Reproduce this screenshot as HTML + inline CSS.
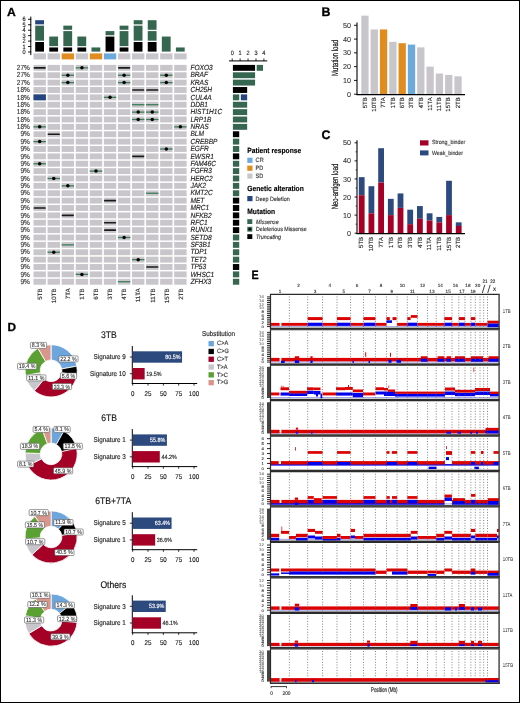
<!DOCTYPE html>
<html><head><meta charset="utf-8"><style>
html,body{margin:0;padding:0;background:#fff;}
svg{display:block;font-family:"Liberation Sans", sans-serif;text-rendering:geometricPrecision;will-change:transform;}
</style></head><body>
<svg width="520" height="703" viewBox="0 0 520 703">
<rect x="0" y="0" width="520" height="703" fill="#fff"/>
<text transform="translate(7,15.7) scale(1.03,1)" font-size="11.8" text-anchor="start" font-weight="bold" font-style="normal" fill="#000" stroke="#000" stroke-width="0.3" >A</text>
<line x1="30.8" y1="16.6" x2="30.8" y2="55.1" stroke="#000" stroke-width="1" />
<line x1="28" y1="52" x2="31.2" y2="52" stroke="#000" stroke-width="0.9" />
<text transform="translate(25.6,54) scale(1,1.12)" font-size="5.6" text-anchor="end" font-weight="normal" font-style="normal" fill="#222" stroke="#222" stroke-width="0.13" >0</text>
<line x1="28" y1="46.55" x2="31.2" y2="46.55" stroke="#000" stroke-width="0.9" />
<text transform="translate(25.6,48.55) scale(1,1.12)" font-size="5.6" text-anchor="end" font-weight="normal" font-style="normal" fill="#222" stroke="#222" stroke-width="0.13" >1</text>
<line x1="28" y1="41.1" x2="31.2" y2="41.1" stroke="#000" stroke-width="0.9" />
<text transform="translate(25.6,43.1) scale(1,1.12)" font-size="5.6" text-anchor="end" font-weight="normal" font-style="normal" fill="#222" stroke="#222" stroke-width="0.13" >2</text>
<line x1="28" y1="35.65" x2="31.2" y2="35.65" stroke="#000" stroke-width="0.9" />
<text transform="translate(25.6,37.65) scale(1,1.12)" font-size="5.6" text-anchor="end" font-weight="normal" font-style="normal" fill="#222" stroke="#222" stroke-width="0.13" >3</text>
<line x1="28" y1="30.2" x2="31.2" y2="30.2" stroke="#000" stroke-width="0.9" />
<text transform="translate(25.6,32.2) scale(1,1.12)" font-size="5.6" text-anchor="end" font-weight="normal" font-style="normal" fill="#222" stroke="#222" stroke-width="0.13" >4</text>
<line x1="28" y1="24.75" x2="31.2" y2="24.75" stroke="#000" stroke-width="0.9" />
<text transform="translate(25.6,26.75) scale(1,1.12)" font-size="5.6" text-anchor="end" font-weight="normal" font-style="normal" fill="#222" stroke="#222" stroke-width="0.13" >5</text>
<line x1="28" y1="19.3" x2="31.2" y2="19.3" stroke="#000" stroke-width="0.9" />
<text transform="translate(25.6,21.3) scale(1,1.12)" font-size="5.6" text-anchor="end" font-weight="normal" font-style="normal" fill="#222" stroke="#222" stroke-width="0.13" >6</text>
<rect x="35.2" y="42" width="8.8" height="9.6" fill="#000" />
<rect x="35.2" y="25.65" width="8.8" height="15.05" fill="#356650" />
<rect x="35.2" y="20.2" width="8.8" height="4.15" fill="#24457F" />
<rect x="49.27" y="47.45" width="8.8" height="4.15" fill="#000" />
<rect x="49.27" y="36.55" width="8.8" height="9.6" fill="#356650" />
<rect x="63.34" y="47.45" width="8.8" height="4.15" fill="#000" />
<rect x="63.34" y="31.1" width="8.8" height="15.05" fill="#356650" />
<rect x="63.34" y="25.65" width="8.8" height="4.15" fill="#356650" />
<rect x="77.41" y="47.45" width="8.8" height="4.15" fill="#000" />
<rect x="77.41" y="36.55" width="8.8" height="9.6" fill="#356650" />
<rect x="91.48" y="47.45" width="8.8" height="4.15" fill="#356650" />
<rect x="105.55" y="36.55" width="8.8" height="15.05" fill="#000" />
<rect x="105.55" y="31.1" width="8.8" height="4.15" fill="#356650" />
<rect x="119.62" y="47.45" width="8.8" height="4.15" fill="#000" />
<rect x="119.62" y="31.1" width="8.8" height="15.05" fill="#356650" />
<rect x="119.62" y="25.65" width="8.8" height="4.15" fill="#356650" />
<rect x="133.69" y="42" width="8.8" height="9.6" fill="#000" />
<rect x="133.69" y="25.65" width="8.8" height="15.05" fill="#356650" />
<rect x="133.69" y="20.2" width="8.8" height="4.15" fill="#356650" />
<rect x="147.76" y="42" width="8.8" height="9.6" fill="#000" />
<rect x="147.76" y="31.1" width="8.8" height="9.6" fill="#356650" />
<rect x="147.76" y="20.2" width="8.8" height="9.6" fill="#356650" />
<rect x="161.83" y="36.55" width="8.8" height="15.05" fill="#356650" />
<rect x="175.9" y="47.45" width="8.8" height="4.15" fill="#356650" />
<rect x="33.5" y="53.4" width="12.4" height="6" fill="#C8C6CB" />
<rect x="47.57" y="53.4" width="12.4" height="6" fill="#C8C6CB" />
<rect x="61.64" y="53.4" width="12.4" height="6" fill="#E08C1E" />
<rect x="75.71" y="53.4" width="12.4" height="6" fill="#C8C6CB" />
<rect x="89.78" y="53.4" width="12.4" height="6" fill="#E08C1E" />
<rect x="103.85" y="53.4" width="12.4" height="6" fill="#6CAADE" />
<rect x="117.92" y="53.4" width="12.4" height="6" fill="#C8C6CB" />
<rect x="131.99" y="53.4" width="12.4" height="6" fill="#C8C6CB" />
<rect x="146.06" y="53.4" width="12.4" height="6" fill="#C8C6CB" />
<rect x="160.13" y="53.4" width="12.4" height="6" fill="#C8C6CB" />
<rect x="174.2" y="53.4" width="12.4" height="6" fill="#C8C6CB" />
<rect x="33.5" y="64.9" width="12.4" height="5.9" fill="#C8C6CB" />
<rect x="47.57" y="64.9" width="12.4" height="5.9" fill="#C8C6CB" />
<rect x="61.64" y="64.9" width="12.4" height="5.9" fill="#C8C6CB" />
<rect x="75.71" y="64.9" width="12.4" height="5.9" fill="#C8C6CB" />
<rect x="89.78" y="64.9" width="12.4" height="5.9" fill="#C8C6CB" />
<rect x="103.85" y="64.9" width="12.4" height="5.9" fill="#C8C6CB" />
<rect x="117.92" y="64.9" width="12.4" height="5.9" fill="#C8C6CB" />
<rect x="131.99" y="64.9" width="12.4" height="5.9" fill="#C8C6CB" />
<rect x="146.06" y="64.9" width="12.4" height="5.9" fill="#C8C6CB" />
<rect x="160.13" y="64.9" width="12.4" height="5.9" fill="#C8C6CB" />
<rect x="174.2" y="64.9" width="12.4" height="5.9" fill="#C8C6CB" />
<rect x="33.5" y="72.28" width="12.4" height="5.9" fill="#C8C6CB" />
<rect x="47.57" y="72.28" width="12.4" height="5.9" fill="#C8C6CB" />
<rect x="61.64" y="72.28" width="12.4" height="5.9" fill="#C8C6CB" />
<rect x="75.71" y="72.28" width="12.4" height="5.9" fill="#C8C6CB" />
<rect x="89.78" y="72.28" width="12.4" height="5.9" fill="#C8C6CB" />
<rect x="103.85" y="72.28" width="12.4" height="5.9" fill="#C8C6CB" />
<rect x="117.92" y="72.28" width="12.4" height="5.9" fill="#C8C6CB" />
<rect x="131.99" y="72.28" width="12.4" height="5.9" fill="#C8C6CB" />
<rect x="146.06" y="72.28" width="12.4" height="5.9" fill="#C8C6CB" />
<rect x="160.13" y="72.28" width="12.4" height="5.9" fill="#C8C6CB" />
<rect x="174.2" y="72.28" width="12.4" height="5.9" fill="#C8C6CB" />
<rect x="33.5" y="79.65" width="12.4" height="5.9" fill="#C8C6CB" />
<rect x="47.57" y="79.65" width="12.4" height="5.9" fill="#C8C6CB" />
<rect x="61.64" y="79.65" width="12.4" height="5.9" fill="#C8C6CB" />
<rect x="75.71" y="79.65" width="12.4" height="5.9" fill="#C8C6CB" />
<rect x="89.78" y="79.65" width="12.4" height="5.9" fill="#C8C6CB" />
<rect x="103.85" y="79.65" width="12.4" height="5.9" fill="#C8C6CB" />
<rect x="117.92" y="79.65" width="12.4" height="5.9" fill="#C8C6CB" />
<rect x="131.99" y="79.65" width="12.4" height="5.9" fill="#C8C6CB" />
<rect x="146.06" y="79.65" width="12.4" height="5.9" fill="#C8C6CB" />
<rect x="160.13" y="79.65" width="12.4" height="5.9" fill="#C8C6CB" />
<rect x="174.2" y="79.65" width="12.4" height="5.9" fill="#C8C6CB" />
<rect x="33.5" y="87.03" width="12.4" height="5.9" fill="#C8C6CB" />
<rect x="47.57" y="87.03" width="12.4" height="5.9" fill="#C8C6CB" />
<rect x="61.64" y="87.03" width="12.4" height="5.9" fill="#C8C6CB" />
<rect x="75.71" y="87.03" width="12.4" height="5.9" fill="#C8C6CB" />
<rect x="89.78" y="87.03" width="12.4" height="5.9" fill="#C8C6CB" />
<rect x="103.85" y="87.03" width="12.4" height="5.9" fill="#C8C6CB" />
<rect x="117.92" y="87.03" width="12.4" height="5.9" fill="#C8C6CB" />
<rect x="131.99" y="87.03" width="12.4" height="5.9" fill="#C8C6CB" />
<rect x="146.06" y="87.03" width="12.4" height="5.9" fill="#C8C6CB" />
<rect x="160.13" y="87.03" width="12.4" height="5.9" fill="#C8C6CB" />
<rect x="174.2" y="87.03" width="12.4" height="5.9" fill="#C8C6CB" />
<rect x="33.5" y="94.4" width="12.4" height="5.9" fill="#C8C6CB" />
<rect x="47.57" y="94.4" width="12.4" height="5.9" fill="#C8C6CB" />
<rect x="61.64" y="94.4" width="12.4" height="5.9" fill="#C8C6CB" />
<rect x="75.71" y="94.4" width="12.4" height="5.9" fill="#C8C6CB" />
<rect x="89.78" y="94.4" width="12.4" height="5.9" fill="#C8C6CB" />
<rect x="103.85" y="94.4" width="12.4" height="5.9" fill="#C8C6CB" />
<rect x="117.92" y="94.4" width="12.4" height="5.9" fill="#C8C6CB" />
<rect x="131.99" y="94.4" width="12.4" height="5.9" fill="#C8C6CB" />
<rect x="146.06" y="94.4" width="12.4" height="5.9" fill="#C8C6CB" />
<rect x="160.13" y="94.4" width="12.4" height="5.9" fill="#C8C6CB" />
<rect x="174.2" y="94.4" width="12.4" height="5.9" fill="#C8C6CB" />
<rect x="33.5" y="101.78" width="12.4" height="5.9" fill="#C8C6CB" />
<rect x="47.57" y="101.78" width="12.4" height="5.9" fill="#C8C6CB" />
<rect x="61.64" y="101.78" width="12.4" height="5.9" fill="#C8C6CB" />
<rect x="75.71" y="101.78" width="12.4" height="5.9" fill="#C8C6CB" />
<rect x="89.78" y="101.78" width="12.4" height="5.9" fill="#C8C6CB" />
<rect x="103.85" y="101.78" width="12.4" height="5.9" fill="#C8C6CB" />
<rect x="117.92" y="101.78" width="12.4" height="5.9" fill="#C8C6CB" />
<rect x="131.99" y="101.78" width="12.4" height="5.9" fill="#C8C6CB" />
<rect x="146.06" y="101.78" width="12.4" height="5.9" fill="#C8C6CB" />
<rect x="160.13" y="101.78" width="12.4" height="5.9" fill="#C8C6CB" />
<rect x="174.2" y="101.78" width="12.4" height="5.9" fill="#C8C6CB" />
<rect x="33.5" y="109.16" width="12.4" height="5.9" fill="#C8C6CB" />
<rect x="47.57" y="109.16" width="12.4" height="5.9" fill="#C8C6CB" />
<rect x="61.64" y="109.16" width="12.4" height="5.9" fill="#C8C6CB" />
<rect x="75.71" y="109.16" width="12.4" height="5.9" fill="#C8C6CB" />
<rect x="89.78" y="109.16" width="12.4" height="5.9" fill="#C8C6CB" />
<rect x="103.85" y="109.16" width="12.4" height="5.9" fill="#C8C6CB" />
<rect x="117.92" y="109.16" width="12.4" height="5.9" fill="#C8C6CB" />
<rect x="131.99" y="109.16" width="12.4" height="5.9" fill="#C8C6CB" />
<rect x="146.06" y="109.16" width="12.4" height="5.9" fill="#C8C6CB" />
<rect x="160.13" y="109.16" width="12.4" height="5.9" fill="#C8C6CB" />
<rect x="174.2" y="109.16" width="12.4" height="5.9" fill="#C8C6CB" />
<rect x="33.5" y="116.53" width="12.4" height="5.9" fill="#C8C6CB" />
<rect x="47.57" y="116.53" width="12.4" height="5.9" fill="#C8C6CB" />
<rect x="61.64" y="116.53" width="12.4" height="5.9" fill="#C8C6CB" />
<rect x="75.71" y="116.53" width="12.4" height="5.9" fill="#C8C6CB" />
<rect x="89.78" y="116.53" width="12.4" height="5.9" fill="#C8C6CB" />
<rect x="103.85" y="116.53" width="12.4" height="5.9" fill="#C8C6CB" />
<rect x="117.92" y="116.53" width="12.4" height="5.9" fill="#C8C6CB" />
<rect x="131.99" y="116.53" width="12.4" height="5.9" fill="#C8C6CB" />
<rect x="146.06" y="116.53" width="12.4" height="5.9" fill="#C8C6CB" />
<rect x="160.13" y="116.53" width="12.4" height="5.9" fill="#C8C6CB" />
<rect x="174.2" y="116.53" width="12.4" height="5.9" fill="#C8C6CB" />
<rect x="33.5" y="123.91" width="12.4" height="5.9" fill="#C8C6CB" />
<rect x="47.57" y="123.91" width="12.4" height="5.9" fill="#C8C6CB" />
<rect x="61.64" y="123.91" width="12.4" height="5.9" fill="#C8C6CB" />
<rect x="75.71" y="123.91" width="12.4" height="5.9" fill="#C8C6CB" />
<rect x="89.78" y="123.91" width="12.4" height="5.9" fill="#C8C6CB" />
<rect x="103.85" y="123.91" width="12.4" height="5.9" fill="#C8C6CB" />
<rect x="117.92" y="123.91" width="12.4" height="5.9" fill="#C8C6CB" />
<rect x="131.99" y="123.91" width="12.4" height="5.9" fill="#C8C6CB" />
<rect x="146.06" y="123.91" width="12.4" height="5.9" fill="#C8C6CB" />
<rect x="160.13" y="123.91" width="12.4" height="5.9" fill="#C8C6CB" />
<rect x="174.2" y="123.91" width="12.4" height="5.9" fill="#C8C6CB" />
<rect x="33.5" y="131.28" width="12.4" height="5.9" fill="#C8C6CB" />
<rect x="47.57" y="131.28" width="12.4" height="5.9" fill="#C8C6CB" />
<rect x="61.64" y="131.28" width="12.4" height="5.9" fill="#C8C6CB" />
<rect x="75.71" y="131.28" width="12.4" height="5.9" fill="#C8C6CB" />
<rect x="89.78" y="131.28" width="12.4" height="5.9" fill="#C8C6CB" />
<rect x="103.85" y="131.28" width="12.4" height="5.9" fill="#C8C6CB" />
<rect x="117.92" y="131.28" width="12.4" height="5.9" fill="#C8C6CB" />
<rect x="131.99" y="131.28" width="12.4" height="5.9" fill="#C8C6CB" />
<rect x="146.06" y="131.28" width="12.4" height="5.9" fill="#C8C6CB" />
<rect x="160.13" y="131.28" width="12.4" height="5.9" fill="#C8C6CB" />
<rect x="174.2" y="131.28" width="12.4" height="5.9" fill="#C8C6CB" />
<rect x="33.5" y="138.66" width="12.4" height="5.9" fill="#C8C6CB" />
<rect x="47.57" y="138.66" width="12.4" height="5.9" fill="#C8C6CB" />
<rect x="61.64" y="138.66" width="12.4" height="5.9" fill="#C8C6CB" />
<rect x="75.71" y="138.66" width="12.4" height="5.9" fill="#C8C6CB" />
<rect x="89.78" y="138.66" width="12.4" height="5.9" fill="#C8C6CB" />
<rect x="103.85" y="138.66" width="12.4" height="5.9" fill="#C8C6CB" />
<rect x="117.92" y="138.66" width="12.4" height="5.9" fill="#C8C6CB" />
<rect x="131.99" y="138.66" width="12.4" height="5.9" fill="#C8C6CB" />
<rect x="146.06" y="138.66" width="12.4" height="5.9" fill="#C8C6CB" />
<rect x="160.13" y="138.66" width="12.4" height="5.9" fill="#C8C6CB" />
<rect x="174.2" y="138.66" width="12.4" height="5.9" fill="#C8C6CB" />
<rect x="33.5" y="146.04" width="12.4" height="5.9" fill="#C8C6CB" />
<rect x="47.57" y="146.04" width="12.4" height="5.9" fill="#C8C6CB" />
<rect x="61.64" y="146.04" width="12.4" height="5.9" fill="#C8C6CB" />
<rect x="75.71" y="146.04" width="12.4" height="5.9" fill="#C8C6CB" />
<rect x="89.78" y="146.04" width="12.4" height="5.9" fill="#C8C6CB" />
<rect x="103.85" y="146.04" width="12.4" height="5.9" fill="#C8C6CB" />
<rect x="117.92" y="146.04" width="12.4" height="5.9" fill="#C8C6CB" />
<rect x="131.99" y="146.04" width="12.4" height="5.9" fill="#C8C6CB" />
<rect x="146.06" y="146.04" width="12.4" height="5.9" fill="#C8C6CB" />
<rect x="160.13" y="146.04" width="12.4" height="5.9" fill="#C8C6CB" />
<rect x="174.2" y="146.04" width="12.4" height="5.9" fill="#C8C6CB" />
<rect x="33.5" y="153.41" width="12.4" height="5.9" fill="#C8C6CB" />
<rect x="47.57" y="153.41" width="12.4" height="5.9" fill="#C8C6CB" />
<rect x="61.64" y="153.41" width="12.4" height="5.9" fill="#C8C6CB" />
<rect x="75.71" y="153.41" width="12.4" height="5.9" fill="#C8C6CB" />
<rect x="89.78" y="153.41" width="12.4" height="5.9" fill="#C8C6CB" />
<rect x="103.85" y="153.41" width="12.4" height="5.9" fill="#C8C6CB" />
<rect x="117.92" y="153.41" width="12.4" height="5.9" fill="#C8C6CB" />
<rect x="131.99" y="153.41" width="12.4" height="5.9" fill="#C8C6CB" />
<rect x="146.06" y="153.41" width="12.4" height="5.9" fill="#C8C6CB" />
<rect x="160.13" y="153.41" width="12.4" height="5.9" fill="#C8C6CB" />
<rect x="174.2" y="153.41" width="12.4" height="5.9" fill="#C8C6CB" />
<rect x="33.5" y="160.79" width="12.4" height="5.9" fill="#C8C6CB" />
<rect x="47.57" y="160.79" width="12.4" height="5.9" fill="#C8C6CB" />
<rect x="61.64" y="160.79" width="12.4" height="5.9" fill="#C8C6CB" />
<rect x="75.71" y="160.79" width="12.4" height="5.9" fill="#C8C6CB" />
<rect x="89.78" y="160.79" width="12.4" height="5.9" fill="#C8C6CB" />
<rect x="103.85" y="160.79" width="12.4" height="5.9" fill="#C8C6CB" />
<rect x="117.92" y="160.79" width="12.4" height="5.9" fill="#C8C6CB" />
<rect x="131.99" y="160.79" width="12.4" height="5.9" fill="#C8C6CB" />
<rect x="146.06" y="160.79" width="12.4" height="5.9" fill="#C8C6CB" />
<rect x="160.13" y="160.79" width="12.4" height="5.9" fill="#C8C6CB" />
<rect x="174.2" y="160.79" width="12.4" height="5.9" fill="#C8C6CB" />
<rect x="33.5" y="168.16" width="12.4" height="5.9" fill="#C8C6CB" />
<rect x="47.57" y="168.16" width="12.4" height="5.9" fill="#C8C6CB" />
<rect x="61.64" y="168.16" width="12.4" height="5.9" fill="#C8C6CB" />
<rect x="75.71" y="168.16" width="12.4" height="5.9" fill="#C8C6CB" />
<rect x="89.78" y="168.16" width="12.4" height="5.9" fill="#C8C6CB" />
<rect x="103.85" y="168.16" width="12.4" height="5.9" fill="#C8C6CB" />
<rect x="117.92" y="168.16" width="12.4" height="5.9" fill="#C8C6CB" />
<rect x="131.99" y="168.16" width="12.4" height="5.9" fill="#C8C6CB" />
<rect x="146.06" y="168.16" width="12.4" height="5.9" fill="#C8C6CB" />
<rect x="160.13" y="168.16" width="12.4" height="5.9" fill="#C8C6CB" />
<rect x="174.2" y="168.16" width="12.4" height="5.9" fill="#C8C6CB" />
<rect x="33.5" y="175.54" width="12.4" height="5.9" fill="#C8C6CB" />
<rect x="47.57" y="175.54" width="12.4" height="5.9" fill="#C8C6CB" />
<rect x="61.64" y="175.54" width="12.4" height="5.9" fill="#C8C6CB" />
<rect x="75.71" y="175.54" width="12.4" height="5.9" fill="#C8C6CB" />
<rect x="89.78" y="175.54" width="12.4" height="5.9" fill="#C8C6CB" />
<rect x="103.85" y="175.54" width="12.4" height="5.9" fill="#C8C6CB" />
<rect x="117.92" y="175.54" width="12.4" height="5.9" fill="#C8C6CB" />
<rect x="131.99" y="175.54" width="12.4" height="5.9" fill="#C8C6CB" />
<rect x="146.06" y="175.54" width="12.4" height="5.9" fill="#C8C6CB" />
<rect x="160.13" y="175.54" width="12.4" height="5.9" fill="#C8C6CB" />
<rect x="174.2" y="175.54" width="12.4" height="5.9" fill="#C8C6CB" />
<rect x="33.5" y="182.92" width="12.4" height="5.9" fill="#C8C6CB" />
<rect x="47.57" y="182.92" width="12.4" height="5.9" fill="#C8C6CB" />
<rect x="61.64" y="182.92" width="12.4" height="5.9" fill="#C8C6CB" />
<rect x="75.71" y="182.92" width="12.4" height="5.9" fill="#C8C6CB" />
<rect x="89.78" y="182.92" width="12.4" height="5.9" fill="#C8C6CB" />
<rect x="103.85" y="182.92" width="12.4" height="5.9" fill="#C8C6CB" />
<rect x="117.92" y="182.92" width="12.4" height="5.9" fill="#C8C6CB" />
<rect x="131.99" y="182.92" width="12.4" height="5.9" fill="#C8C6CB" />
<rect x="146.06" y="182.92" width="12.4" height="5.9" fill="#C8C6CB" />
<rect x="160.13" y="182.92" width="12.4" height="5.9" fill="#C8C6CB" />
<rect x="174.2" y="182.92" width="12.4" height="5.9" fill="#C8C6CB" />
<rect x="33.5" y="190.29" width="12.4" height="5.9" fill="#C8C6CB" />
<rect x="47.57" y="190.29" width="12.4" height="5.9" fill="#C8C6CB" />
<rect x="61.64" y="190.29" width="12.4" height="5.9" fill="#C8C6CB" />
<rect x="75.71" y="190.29" width="12.4" height="5.9" fill="#C8C6CB" />
<rect x="89.78" y="190.29" width="12.4" height="5.9" fill="#C8C6CB" />
<rect x="103.85" y="190.29" width="12.4" height="5.9" fill="#C8C6CB" />
<rect x="117.92" y="190.29" width="12.4" height="5.9" fill="#C8C6CB" />
<rect x="131.99" y="190.29" width="12.4" height="5.9" fill="#C8C6CB" />
<rect x="146.06" y="190.29" width="12.4" height="5.9" fill="#C8C6CB" />
<rect x="160.13" y="190.29" width="12.4" height="5.9" fill="#C8C6CB" />
<rect x="174.2" y="190.29" width="12.4" height="5.9" fill="#C8C6CB" />
<rect x="33.5" y="197.67" width="12.4" height="5.9" fill="#C8C6CB" />
<rect x="47.57" y="197.67" width="12.4" height="5.9" fill="#C8C6CB" />
<rect x="61.64" y="197.67" width="12.4" height="5.9" fill="#C8C6CB" />
<rect x="75.71" y="197.67" width="12.4" height="5.9" fill="#C8C6CB" />
<rect x="89.78" y="197.67" width="12.4" height="5.9" fill="#C8C6CB" />
<rect x="103.85" y="197.67" width="12.4" height="5.9" fill="#C8C6CB" />
<rect x="117.92" y="197.67" width="12.4" height="5.9" fill="#C8C6CB" />
<rect x="131.99" y="197.67" width="12.4" height="5.9" fill="#C8C6CB" />
<rect x="146.06" y="197.67" width="12.4" height="5.9" fill="#C8C6CB" />
<rect x="160.13" y="197.67" width="12.4" height="5.9" fill="#C8C6CB" />
<rect x="174.2" y="197.67" width="12.4" height="5.9" fill="#C8C6CB" />
<rect x="33.5" y="205.04" width="12.4" height="5.9" fill="#C8C6CB" />
<rect x="47.57" y="205.04" width="12.4" height="5.9" fill="#C8C6CB" />
<rect x="61.64" y="205.04" width="12.4" height="5.9" fill="#C8C6CB" />
<rect x="75.71" y="205.04" width="12.4" height="5.9" fill="#C8C6CB" />
<rect x="89.78" y="205.04" width="12.4" height="5.9" fill="#C8C6CB" />
<rect x="103.85" y="205.04" width="12.4" height="5.9" fill="#C8C6CB" />
<rect x="117.92" y="205.04" width="12.4" height="5.9" fill="#C8C6CB" />
<rect x="131.99" y="205.04" width="12.4" height="5.9" fill="#C8C6CB" />
<rect x="146.06" y="205.04" width="12.4" height="5.9" fill="#C8C6CB" />
<rect x="160.13" y="205.04" width="12.4" height="5.9" fill="#C8C6CB" />
<rect x="174.2" y="205.04" width="12.4" height="5.9" fill="#C8C6CB" />
<rect x="33.5" y="212.42" width="12.4" height="5.9" fill="#C8C6CB" />
<rect x="47.57" y="212.42" width="12.4" height="5.9" fill="#C8C6CB" />
<rect x="61.64" y="212.42" width="12.4" height="5.9" fill="#C8C6CB" />
<rect x="75.71" y="212.42" width="12.4" height="5.9" fill="#C8C6CB" />
<rect x="89.78" y="212.42" width="12.4" height="5.9" fill="#C8C6CB" />
<rect x="103.85" y="212.42" width="12.4" height="5.9" fill="#C8C6CB" />
<rect x="117.92" y="212.42" width="12.4" height="5.9" fill="#C8C6CB" />
<rect x="131.99" y="212.42" width="12.4" height="5.9" fill="#C8C6CB" />
<rect x="146.06" y="212.42" width="12.4" height="5.9" fill="#C8C6CB" />
<rect x="160.13" y="212.42" width="12.4" height="5.9" fill="#C8C6CB" />
<rect x="174.2" y="212.42" width="12.4" height="5.9" fill="#C8C6CB" />
<rect x="33.5" y="219.8" width="12.4" height="5.9" fill="#C8C6CB" />
<rect x="47.57" y="219.8" width="12.4" height="5.9" fill="#C8C6CB" />
<rect x="61.64" y="219.8" width="12.4" height="5.9" fill="#C8C6CB" />
<rect x="75.71" y="219.8" width="12.4" height="5.9" fill="#C8C6CB" />
<rect x="89.78" y="219.8" width="12.4" height="5.9" fill="#C8C6CB" />
<rect x="103.85" y="219.8" width="12.4" height="5.9" fill="#C8C6CB" />
<rect x="117.92" y="219.8" width="12.4" height="5.9" fill="#C8C6CB" />
<rect x="131.99" y="219.8" width="12.4" height="5.9" fill="#C8C6CB" />
<rect x="146.06" y="219.8" width="12.4" height="5.9" fill="#C8C6CB" />
<rect x="160.13" y="219.8" width="12.4" height="5.9" fill="#C8C6CB" />
<rect x="174.2" y="219.8" width="12.4" height="5.9" fill="#C8C6CB" />
<rect x="33.5" y="227.17" width="12.4" height="5.9" fill="#C8C6CB" />
<rect x="47.57" y="227.17" width="12.4" height="5.9" fill="#C8C6CB" />
<rect x="61.64" y="227.17" width="12.4" height="5.9" fill="#C8C6CB" />
<rect x="75.71" y="227.17" width="12.4" height="5.9" fill="#C8C6CB" />
<rect x="89.78" y="227.17" width="12.4" height="5.9" fill="#C8C6CB" />
<rect x="103.85" y="227.17" width="12.4" height="5.9" fill="#C8C6CB" />
<rect x="117.92" y="227.17" width="12.4" height="5.9" fill="#C8C6CB" />
<rect x="131.99" y="227.17" width="12.4" height="5.9" fill="#C8C6CB" />
<rect x="146.06" y="227.17" width="12.4" height="5.9" fill="#C8C6CB" />
<rect x="160.13" y="227.17" width="12.4" height="5.9" fill="#C8C6CB" />
<rect x="174.2" y="227.17" width="12.4" height="5.9" fill="#C8C6CB" />
<rect x="33.5" y="234.55" width="12.4" height="5.9" fill="#C8C6CB" />
<rect x="47.57" y="234.55" width="12.4" height="5.9" fill="#C8C6CB" />
<rect x="61.64" y="234.55" width="12.4" height="5.9" fill="#C8C6CB" />
<rect x="75.71" y="234.55" width="12.4" height="5.9" fill="#C8C6CB" />
<rect x="89.78" y="234.55" width="12.4" height="5.9" fill="#C8C6CB" />
<rect x="103.85" y="234.55" width="12.4" height="5.9" fill="#C8C6CB" />
<rect x="117.92" y="234.55" width="12.4" height="5.9" fill="#C8C6CB" />
<rect x="131.99" y="234.55" width="12.4" height="5.9" fill="#C8C6CB" />
<rect x="146.06" y="234.55" width="12.4" height="5.9" fill="#C8C6CB" />
<rect x="160.13" y="234.55" width="12.4" height="5.9" fill="#C8C6CB" />
<rect x="174.2" y="234.55" width="12.4" height="5.9" fill="#C8C6CB" />
<rect x="33.5" y="241.92" width="12.4" height="5.9" fill="#C8C6CB" />
<rect x="47.57" y="241.92" width="12.4" height="5.9" fill="#C8C6CB" />
<rect x="61.64" y="241.92" width="12.4" height="5.9" fill="#C8C6CB" />
<rect x="75.71" y="241.92" width="12.4" height="5.9" fill="#C8C6CB" />
<rect x="89.78" y="241.92" width="12.4" height="5.9" fill="#C8C6CB" />
<rect x="103.85" y="241.92" width="12.4" height="5.9" fill="#C8C6CB" />
<rect x="117.92" y="241.92" width="12.4" height="5.9" fill="#C8C6CB" />
<rect x="131.99" y="241.92" width="12.4" height="5.9" fill="#C8C6CB" />
<rect x="146.06" y="241.92" width="12.4" height="5.9" fill="#C8C6CB" />
<rect x="160.13" y="241.92" width="12.4" height="5.9" fill="#C8C6CB" />
<rect x="174.2" y="241.92" width="12.4" height="5.9" fill="#C8C6CB" />
<rect x="33.5" y="249.3" width="12.4" height="5.9" fill="#C8C6CB" />
<rect x="47.57" y="249.3" width="12.4" height="5.9" fill="#C8C6CB" />
<rect x="61.64" y="249.3" width="12.4" height="5.9" fill="#C8C6CB" />
<rect x="75.71" y="249.3" width="12.4" height="5.9" fill="#C8C6CB" />
<rect x="89.78" y="249.3" width="12.4" height="5.9" fill="#C8C6CB" />
<rect x="103.85" y="249.3" width="12.4" height="5.9" fill="#C8C6CB" />
<rect x="117.92" y="249.3" width="12.4" height="5.9" fill="#C8C6CB" />
<rect x="131.99" y="249.3" width="12.4" height="5.9" fill="#C8C6CB" />
<rect x="146.06" y="249.3" width="12.4" height="5.9" fill="#C8C6CB" />
<rect x="160.13" y="249.3" width="12.4" height="5.9" fill="#C8C6CB" />
<rect x="174.2" y="249.3" width="12.4" height="5.9" fill="#C8C6CB" />
<rect x="33.5" y="256.68" width="12.4" height="5.9" fill="#C8C6CB" />
<rect x="47.57" y="256.68" width="12.4" height="5.9" fill="#C8C6CB" />
<rect x="61.64" y="256.68" width="12.4" height="5.9" fill="#C8C6CB" />
<rect x="75.71" y="256.68" width="12.4" height="5.9" fill="#C8C6CB" />
<rect x="89.78" y="256.68" width="12.4" height="5.9" fill="#C8C6CB" />
<rect x="103.85" y="256.68" width="12.4" height="5.9" fill="#C8C6CB" />
<rect x="117.92" y="256.68" width="12.4" height="5.9" fill="#C8C6CB" />
<rect x="131.99" y="256.68" width="12.4" height="5.9" fill="#C8C6CB" />
<rect x="146.06" y="256.68" width="12.4" height="5.9" fill="#C8C6CB" />
<rect x="160.13" y="256.68" width="12.4" height="5.9" fill="#C8C6CB" />
<rect x="174.2" y="256.68" width="12.4" height="5.9" fill="#C8C6CB" />
<rect x="33.5" y="264.05" width="12.4" height="5.9" fill="#C8C6CB" />
<rect x="47.57" y="264.05" width="12.4" height="5.9" fill="#C8C6CB" />
<rect x="61.64" y="264.05" width="12.4" height="5.9" fill="#C8C6CB" />
<rect x="75.71" y="264.05" width="12.4" height="5.9" fill="#C8C6CB" />
<rect x="89.78" y="264.05" width="12.4" height="5.9" fill="#C8C6CB" />
<rect x="103.85" y="264.05" width="12.4" height="5.9" fill="#C8C6CB" />
<rect x="117.92" y="264.05" width="12.4" height="5.9" fill="#C8C6CB" />
<rect x="131.99" y="264.05" width="12.4" height="5.9" fill="#C8C6CB" />
<rect x="146.06" y="264.05" width="12.4" height="5.9" fill="#C8C6CB" />
<rect x="160.13" y="264.05" width="12.4" height="5.9" fill="#C8C6CB" />
<rect x="174.2" y="264.05" width="12.4" height="5.9" fill="#C8C6CB" />
<rect x="33.5" y="271.43" width="12.4" height="5.9" fill="#C8C6CB" />
<rect x="47.57" y="271.43" width="12.4" height="5.9" fill="#C8C6CB" />
<rect x="61.64" y="271.43" width="12.4" height="5.9" fill="#C8C6CB" />
<rect x="75.71" y="271.43" width="12.4" height="5.9" fill="#C8C6CB" />
<rect x="89.78" y="271.43" width="12.4" height="5.9" fill="#C8C6CB" />
<rect x="103.85" y="271.43" width="12.4" height="5.9" fill="#C8C6CB" />
<rect x="117.92" y="271.43" width="12.4" height="5.9" fill="#C8C6CB" />
<rect x="131.99" y="271.43" width="12.4" height="5.9" fill="#C8C6CB" />
<rect x="146.06" y="271.43" width="12.4" height="5.9" fill="#C8C6CB" />
<rect x="160.13" y="271.43" width="12.4" height="5.9" fill="#C8C6CB" />
<rect x="174.2" y="271.43" width="12.4" height="5.9" fill="#C8C6CB" />
<rect x="33.5" y="278.8" width="12.4" height="5.9" fill="#C8C6CB" />
<rect x="47.57" y="278.8" width="12.4" height="5.9" fill="#C8C6CB" />
<rect x="61.64" y="278.8" width="12.4" height="5.9" fill="#C8C6CB" />
<rect x="75.71" y="278.8" width="12.4" height="5.9" fill="#C8C6CB" />
<rect x="89.78" y="278.8" width="12.4" height="5.9" fill="#C8C6CB" />
<rect x="103.85" y="278.8" width="12.4" height="5.9" fill="#C8C6CB" />
<rect x="117.92" y="278.8" width="12.4" height="5.9" fill="#C8C6CB" />
<rect x="131.99" y="278.8" width="12.4" height="5.9" fill="#C8C6CB" />
<rect x="146.06" y="278.8" width="12.4" height="5.9" fill="#C8C6CB" />
<rect x="160.13" y="278.8" width="12.4" height="5.9" fill="#C8C6CB" />
<rect x="174.2" y="278.8" width="12.4" height="5.9" fill="#C8C6CB" />
<line x1="34.4" y1="67.85" x2="45" y2="67.85" stroke="#1a1a1a" stroke-width="1.7" stroke-linecap="round"/>
<line x1="75.71" y1="67.85" x2="88.11" y2="67.85" stroke="#3A7A55" stroke-width="1.3" />
<circle cx="81.91" cy="67.85" r="1.75" fill="#000"/>
<line x1="118.82" y1="67.85" x2="129.42" y2="67.85" stroke="#1a1a1a" stroke-width="1.7" stroke-linecap="round"/>
<line x1="61.64" y1="75.23" x2="74.04" y2="75.23" stroke="#3A7A55" stroke-width="1.3" />
<circle cx="67.84" cy="75.23" r="1.75" fill="#000"/>
<line x1="117.92" y1="75.23" x2="130.32" y2="75.23" stroke="#3A7A55" stroke-width="1.3" />
<circle cx="124.12" cy="75.23" r="1.75" fill="#000"/>
<line x1="160.13" y1="75.23" x2="172.53" y2="75.23" stroke="#3A7A55" stroke-width="1.3" />
<circle cx="166.33" cy="75.23" r="1.75" fill="#000"/>
<line x1="61.64" y1="82.6" x2="74.04" y2="82.6" stroke="#3A7A55" stroke-width="1.3" />
<circle cx="67.84" cy="82.6" r="1.75" fill="#000"/>
<line x1="117.92" y1="82.6" x2="130.32" y2="82.6" stroke="#3A7A55" stroke-width="1.3" />
<circle cx="124.12" cy="82.6" r="1.75" fill="#000"/>
<line x1="160.13" y1="82.6" x2="172.53" y2="82.6" stroke="#3A7A55" stroke-width="1.3" />
<circle cx="166.33" cy="82.6" r="1.75" fill="#000"/>
<line x1="132.89" y1="89.98" x2="143.49" y2="89.98" stroke="#1a1a1a" stroke-width="1.7" stroke-linecap="round"/>
<line x1="146.96" y1="89.98" x2="157.56" y2="89.98" stroke="#1a1a1a" stroke-width="1.7" stroke-linecap="round"/>
<rect x="33.5" y="94.4" width="12.4" height="5.9" fill="#24457F" />
<line x1="103.85" y1="97.35" x2="116.25" y2="97.35" stroke="#3A7A55" stroke-width="1.3" />
<circle cx="110.05" cy="97.35" r="1.75" fill="#000"/>
<line x1="131.99" y1="104.73" x2="144.39" y2="104.73" stroke="#3A7A55" stroke-width="1.3" />
<line x1="146.06" y1="104.73" x2="158.46" y2="104.73" stroke="#3A7A55" stroke-width="1.3" />
<line x1="131.99" y1="112.11" x2="144.39" y2="112.11" stroke="#3A7A55" stroke-width="1.3" />
<circle cx="138.19" cy="112.11" r="1.75" fill="#000"/>
<line x1="146.06" y1="112.11" x2="158.46" y2="112.11" stroke="#3A7A55" stroke-width="1.3" />
<circle cx="152.26" cy="112.11" r="1.75" fill="#000"/>
<line x1="131.99" y1="119.48" x2="144.39" y2="119.48" stroke="#3A7A55" stroke-width="1.3" />
<circle cx="138.19" cy="119.48" r="1.75" fill="#000"/>
<line x1="146.06" y1="119.48" x2="158.46" y2="119.48" stroke="#3A7A55" stroke-width="1.3" />
<circle cx="152.26" cy="119.48" r="1.75" fill="#000"/>
<line x1="33.5" y1="126.86" x2="45.9" y2="126.86" stroke="#3A7A55" stroke-width="1.3" />
<circle cx="39.7" cy="126.86" r="1.75" fill="#000"/>
<line x1="174.2" y1="126.86" x2="186.6" y2="126.86" stroke="#3A7A55" stroke-width="1.3" />
<circle cx="180.4" cy="126.86" r="1.75" fill="#000"/>
<line x1="48.47" y1="134.23" x2="59.07" y2="134.23" stroke="#1a1a1a" stroke-width="1.7" stroke-linecap="round"/>
<line x1="33.5" y1="141.61" x2="45.9" y2="141.61" stroke="#3A7A55" stroke-width="1.3" />
<circle cx="39.7" cy="141.61" r="1.75" fill="#000"/>
<line x1="160.13" y1="148.99" x2="172.53" y2="148.99" stroke="#3A7A55" stroke-width="1.3" />
<circle cx="166.33" cy="148.99" r="1.75" fill="#000"/>
<line x1="132.89" y1="156.36" x2="143.49" y2="156.36" stroke="#1a1a1a" stroke-width="1.7" stroke-linecap="round"/>
<line x1="33.5" y1="163.74" x2="45.9" y2="163.74" stroke="#3A7A55" stroke-width="1.3" />
<circle cx="39.7" cy="163.74" r="1.75" fill="#000"/>
<line x1="89.78" y1="171.11" x2="102.18" y2="171.11" stroke="#3A7A55" stroke-width="1.3" />
<circle cx="95.98" cy="171.11" r="1.75" fill="#000"/>
<line x1="47.57" y1="178.49" x2="59.97" y2="178.49" stroke="#3A7A55" stroke-width="1.3" />
<circle cx="53.77" cy="178.49" r="1.75" fill="#000"/>
<line x1="61.64" y1="185.87" x2="74.04" y2="185.87" stroke="#3A7A55" stroke-width="1.3" />
<circle cx="67.84" cy="185.87" r="1.75" fill="#000"/>
<line x1="146.06" y1="193.24" x2="158.46" y2="193.24" stroke="#3A7A55" stroke-width="1.3" />
<line x1="104.75" y1="200.62" x2="115.35" y2="200.62" stroke="#1a1a1a" stroke-width="1.7" stroke-linecap="round"/>
<line x1="34.4" y1="207.99" x2="45" y2="207.99" stroke="#1a1a1a" stroke-width="1.7" stroke-linecap="round"/>
<line x1="62.54" y1="215.37" x2="73.14" y2="215.37" stroke="#1a1a1a" stroke-width="1.7" stroke-linecap="round"/>
<line x1="104.75" y1="222.75" x2="115.35" y2="222.75" stroke="#1a1a1a" stroke-width="1.7" stroke-linecap="round"/>
<line x1="104.75" y1="230.12" x2="115.35" y2="230.12" stroke="#1a1a1a" stroke-width="1.7" stroke-linecap="round"/>
<line x1="117.92" y1="237.5" x2="130.32" y2="237.5" stroke="#3A7A55" stroke-width="1.3" />
<circle cx="124.12" cy="237.5" r="1.75" fill="#000"/>
<line x1="61.64" y1="244.87" x2="74.04" y2="244.87" stroke="#3A7A55" stroke-width="1.3" />
<line x1="47.57" y1="252.25" x2="59.97" y2="252.25" stroke="#3A7A55" stroke-width="1.3" />
<circle cx="53.77" cy="252.25" r="1.75" fill="#000"/>
<line x1="131.99" y1="259.63" x2="144.39" y2="259.63" stroke="#3A7A55" stroke-width="1.3" />
<circle cx="138.19" cy="259.63" r="1.75" fill="#000"/>
<line x1="146.96" y1="267" x2="157.56" y2="267" stroke="#1a1a1a" stroke-width="1.7" stroke-linecap="round"/>
<line x1="75.71" y1="274.38" x2="88.11" y2="274.38" stroke="#3A7A55" stroke-width="1.3" />
<circle cx="81.91" cy="274.38" r="1.75" fill="#000"/>
<line x1="117.92" y1="281.75" x2="130.32" y2="281.75" stroke="#3A7A55" stroke-width="1.3" />
<text transform="translate(29.8,70.05) scale(1,1.12)" font-size="6.5" text-anchor="end" font-weight="normal" font-style="normal" fill="#333" stroke="#333" stroke-width="0.13" >27%</text>
<text transform="translate(190.4,70.05) scale(1,1.12)" font-size="6.6" text-anchor="start" font-weight="normal" font-style="italic" fill="#222" stroke="#222" stroke-width="0.13" >FOXO3</text>
<text transform="translate(29.8,77.43) scale(1,1.12)" font-size="6.5" text-anchor="end" font-weight="normal" font-style="normal" fill="#333" stroke="#333" stroke-width="0.13" >27%</text>
<text transform="translate(190.4,77.43) scale(1,1.12)" font-size="6.6" text-anchor="start" font-weight="normal" font-style="italic" fill="#222" stroke="#222" stroke-width="0.13" >BRAF</text>
<text transform="translate(29.8,84.8) scale(1,1.12)" font-size="6.5" text-anchor="end" font-weight="normal" font-style="normal" fill="#333" stroke="#333" stroke-width="0.13" >27%</text>
<text transform="translate(190.4,84.8) scale(1,1.12)" font-size="6.6" text-anchor="start" font-weight="normal" font-style="italic" fill="#222" stroke="#222" stroke-width="0.13" >KRAS</text>
<text transform="translate(29.8,92.18) scale(1,1.12)" font-size="6.5" text-anchor="end" font-weight="normal" font-style="normal" fill="#333" stroke="#333" stroke-width="0.13" >18%</text>
<text transform="translate(190.4,92.18) scale(1,1.12)" font-size="6.6" text-anchor="start" font-weight="normal" font-style="italic" fill="#222" stroke="#222" stroke-width="0.13" >CH25H</text>
<text transform="translate(29.8,99.55) scale(1,1.12)" font-size="6.5" text-anchor="end" font-weight="normal" font-style="normal" fill="#333" stroke="#333" stroke-width="0.13" >18%</text>
<text transform="translate(190.4,99.55) scale(1,1.12)" font-size="6.6" text-anchor="start" font-weight="normal" font-style="italic" fill="#222" stroke="#222" stroke-width="0.13" >CUL4A</text>
<text transform="translate(29.8,106.93) scale(1,1.12)" font-size="6.5" text-anchor="end" font-weight="normal" font-style="normal" fill="#333" stroke="#333" stroke-width="0.13" >18%</text>
<text transform="translate(190.4,106.93) scale(1,1.12)" font-size="6.6" text-anchor="start" font-weight="normal" font-style="italic" fill="#222" stroke="#222" stroke-width="0.13" >DDB1</text>
<text transform="translate(29.8,114.31) scale(1,1.12)" font-size="6.5" text-anchor="end" font-weight="normal" font-style="normal" fill="#333" stroke="#333" stroke-width="0.13" >18%</text>
<text transform="translate(190.4,114.31) scale(1,1.12)" font-size="6.6" text-anchor="start" font-weight="normal" font-style="italic" fill="#222" stroke="#222" stroke-width="0.13" >HIST1H1C</text>
<text transform="translate(29.8,121.68) scale(1,1.12)" font-size="6.5" text-anchor="end" font-weight="normal" font-style="normal" fill="#333" stroke="#333" stroke-width="0.13" >18%</text>
<text transform="translate(190.4,121.68) scale(1,1.12)" font-size="6.6" text-anchor="start" font-weight="normal" font-style="italic" fill="#222" stroke="#222" stroke-width="0.13" >LRP1B</text>
<text transform="translate(29.8,129.06) scale(1,1.12)" font-size="6.5" text-anchor="end" font-weight="normal" font-style="normal" fill="#333" stroke="#333" stroke-width="0.13" >18%</text>
<text transform="translate(190.4,129.06) scale(1,1.12)" font-size="6.6" text-anchor="start" font-weight="normal" font-style="italic" fill="#222" stroke="#222" stroke-width="0.13" >NRAS</text>
<text transform="translate(29.8,136.43) scale(1,1.12)" font-size="6.5" text-anchor="end" font-weight="normal" font-style="normal" fill="#333" stroke="#333" stroke-width="0.13" >9%</text>
<text transform="translate(190.4,136.43) scale(1,1.12)" font-size="6.6" text-anchor="start" font-weight="normal" font-style="italic" fill="#222" stroke="#222" stroke-width="0.13" >BLM</text>
<text transform="translate(29.8,143.81) scale(1,1.12)" font-size="6.5" text-anchor="end" font-weight="normal" font-style="normal" fill="#333" stroke="#333" stroke-width="0.13" >9%</text>
<text transform="translate(190.4,143.81) scale(1,1.12)" font-size="6.6" text-anchor="start" font-weight="normal" font-style="italic" fill="#222" stroke="#222" stroke-width="0.13" >CREBBP</text>
<text transform="translate(29.8,151.19) scale(1,1.12)" font-size="6.5" text-anchor="end" font-weight="normal" font-style="normal" fill="#333" stroke="#333" stroke-width="0.13" >9%</text>
<text transform="translate(190.4,151.19) scale(1,1.12)" font-size="6.6" text-anchor="start" font-weight="normal" font-style="italic" fill="#222" stroke="#222" stroke-width="0.13" >EGFR</text>
<text transform="translate(29.8,158.56) scale(1,1.12)" font-size="6.5" text-anchor="end" font-weight="normal" font-style="normal" fill="#333" stroke="#333" stroke-width="0.13" >9%</text>
<text transform="translate(190.4,158.56) scale(1,1.12)" font-size="6.6" text-anchor="start" font-weight="normal" font-style="italic" fill="#222" stroke="#222" stroke-width="0.13" >EWSR1</text>
<text transform="translate(29.8,165.94) scale(1,1.12)" font-size="6.5" text-anchor="end" font-weight="normal" font-style="normal" fill="#333" stroke="#333" stroke-width="0.13" >9%</text>
<text transform="translate(190.4,165.94) scale(1,1.12)" font-size="6.6" text-anchor="start" font-weight="normal" font-style="italic" fill="#222" stroke="#222" stroke-width="0.13" >FAM46C</text>
<text transform="translate(29.8,173.31) scale(1,1.12)" font-size="6.5" text-anchor="end" font-weight="normal" font-style="normal" fill="#333" stroke="#333" stroke-width="0.13" >9%</text>
<text transform="translate(190.4,173.31) scale(1,1.12)" font-size="6.6" text-anchor="start" font-weight="normal" font-style="italic" fill="#222" stroke="#222" stroke-width="0.13" >FGFR3</text>
<text transform="translate(29.8,180.69) scale(1,1.12)" font-size="6.5" text-anchor="end" font-weight="normal" font-style="normal" fill="#333" stroke="#333" stroke-width="0.13" >9%</text>
<text transform="translate(190.4,180.69) scale(1,1.12)" font-size="6.6" text-anchor="start" font-weight="normal" font-style="italic" fill="#222" stroke="#222" stroke-width="0.13" >HERC2</text>
<text transform="translate(29.8,188.07) scale(1,1.12)" font-size="6.5" text-anchor="end" font-weight="normal" font-style="normal" fill="#333" stroke="#333" stroke-width="0.13" >9%</text>
<text transform="translate(190.4,188.07) scale(1,1.12)" font-size="6.6" text-anchor="start" font-weight="normal" font-style="italic" fill="#222" stroke="#222" stroke-width="0.13" >JAK2</text>
<text transform="translate(29.8,195.44) scale(1,1.12)" font-size="6.5" text-anchor="end" font-weight="normal" font-style="normal" fill="#333" stroke="#333" stroke-width="0.13" >9%</text>
<text transform="translate(190.4,195.44) scale(1,1.12)" font-size="6.6" text-anchor="start" font-weight="normal" font-style="italic" fill="#222" stroke="#222" stroke-width="0.13" >KMT2C</text>
<text transform="translate(29.8,202.82) scale(1,1.12)" font-size="6.5" text-anchor="end" font-weight="normal" font-style="normal" fill="#333" stroke="#333" stroke-width="0.13" >9%</text>
<text transform="translate(190.4,202.82) scale(1,1.12)" font-size="6.6" text-anchor="start" font-weight="normal" font-style="italic" fill="#222" stroke="#222" stroke-width="0.13" >MET</text>
<text transform="translate(29.8,210.19) scale(1,1.12)" font-size="6.5" text-anchor="end" font-weight="normal" font-style="normal" fill="#333" stroke="#333" stroke-width="0.13" >9%</text>
<text transform="translate(190.4,210.19) scale(1,1.12)" font-size="6.6" text-anchor="start" font-weight="normal" font-style="italic" fill="#222" stroke="#222" stroke-width="0.13" >MRC1</text>
<text transform="translate(29.8,217.57) scale(1,1.12)" font-size="6.5" text-anchor="end" font-weight="normal" font-style="normal" fill="#333" stroke="#333" stroke-width="0.13" >9%</text>
<text transform="translate(190.4,217.57) scale(1,1.12)" font-size="6.6" text-anchor="start" font-weight="normal" font-style="italic" fill="#222" stroke="#222" stroke-width="0.13" >NFKB2</text>
<text transform="translate(29.8,224.95) scale(1,1.12)" font-size="6.5" text-anchor="end" font-weight="normal" font-style="normal" fill="#333" stroke="#333" stroke-width="0.13" >9%</text>
<text transform="translate(190.4,224.95) scale(1,1.12)" font-size="6.6" text-anchor="start" font-weight="normal" font-style="italic" fill="#222" stroke="#222" stroke-width="0.13" >RFC1</text>
<text transform="translate(29.8,232.32) scale(1,1.12)" font-size="6.5" text-anchor="end" font-weight="normal" font-style="normal" fill="#333" stroke="#333" stroke-width="0.13" >9%</text>
<text transform="translate(190.4,232.32) scale(1,1.12)" font-size="6.6" text-anchor="start" font-weight="normal" font-style="italic" fill="#222" stroke="#222" stroke-width="0.13" >RUNX1</text>
<text transform="translate(29.8,239.7) scale(1,1.12)" font-size="6.5" text-anchor="end" font-weight="normal" font-style="normal" fill="#333" stroke="#333" stroke-width="0.13" >9%</text>
<text transform="translate(190.4,239.7) scale(1,1.12)" font-size="6.6" text-anchor="start" font-weight="normal" font-style="italic" fill="#222" stroke="#222" stroke-width="0.13" >SETD8</text>
<text transform="translate(29.8,247.07) scale(1,1.12)" font-size="6.5" text-anchor="end" font-weight="normal" font-style="normal" fill="#333" stroke="#333" stroke-width="0.13" >9%</text>
<text transform="translate(190.4,247.07) scale(1,1.12)" font-size="6.6" text-anchor="start" font-weight="normal" font-style="italic" fill="#222" stroke="#222" stroke-width="0.13" >SF3B1</text>
<text transform="translate(29.8,254.45) scale(1,1.12)" font-size="6.5" text-anchor="end" font-weight="normal" font-style="normal" fill="#333" stroke="#333" stroke-width="0.13" >9%</text>
<text transform="translate(190.4,254.45) scale(1,1.12)" font-size="6.6" text-anchor="start" font-weight="normal" font-style="italic" fill="#222" stroke="#222" stroke-width="0.13" >TDP1</text>
<text transform="translate(29.8,261.83) scale(1,1.12)" font-size="6.5" text-anchor="end" font-weight="normal" font-style="normal" fill="#333" stroke="#333" stroke-width="0.13" >9%</text>
<text transform="translate(190.4,261.83) scale(1,1.12)" font-size="6.6" text-anchor="start" font-weight="normal" font-style="italic" fill="#222" stroke="#222" stroke-width="0.13" >TET2</text>
<text transform="translate(29.8,269.2) scale(1,1.12)" font-size="6.5" text-anchor="end" font-weight="normal" font-style="normal" fill="#333" stroke="#333" stroke-width="0.13" >9%</text>
<text transform="translate(190.4,269.2) scale(1,1.12)" font-size="6.6" text-anchor="start" font-weight="normal" font-style="italic" fill="#222" stroke="#222" stroke-width="0.13" >TP53</text>
<text transform="translate(29.8,276.58) scale(1,1.12)" font-size="6.5" text-anchor="end" font-weight="normal" font-style="normal" fill="#333" stroke="#333" stroke-width="0.13" >9%</text>
<text transform="translate(190.4,276.58) scale(1,1.12)" font-size="6.6" text-anchor="start" font-weight="normal" font-style="italic" fill="#222" stroke="#222" stroke-width="0.13" >WHSC1</text>
<text transform="translate(29.8,283.95) scale(1,1.12)" font-size="6.5" text-anchor="end" font-weight="normal" font-style="normal" fill="#333" stroke="#333" stroke-width="0.13" >9%</text>
<text transform="translate(190.4,283.95) scale(1,1.12)" font-size="6.6" text-anchor="start" font-weight="normal" font-style="italic" fill="#222" stroke="#222" stroke-width="0.13" >ZFHX3</text>
<text transform="translate(40.5,288.4) rotate(-90) scale(1,1)" font-size="6.2" text-anchor="end" dominant-baseline="central" fill="#333" font-weight="normal" stroke="#333" stroke-width="0.13">5TB</text>
<text transform="translate(54.57,288.4) rotate(-90) scale(1,1)" font-size="6.2" text-anchor="end" dominant-baseline="central" fill="#333" font-weight="normal" stroke="#333" stroke-width="0.13">10TB</text>
<text transform="translate(68.64,288.4) rotate(-90) scale(1,1)" font-size="6.2" text-anchor="end" dominant-baseline="central" fill="#333" font-weight="normal" stroke="#333" stroke-width="0.13">7TA</text>
<text transform="translate(82.71,288.4) rotate(-90) scale(1,1)" font-size="6.2" text-anchor="end" dominant-baseline="central" fill="#333" font-weight="normal" stroke="#333" stroke-width="0.13">1TB</text>
<text transform="translate(96.78,288.4) rotate(-90) scale(1,1)" font-size="6.2" text-anchor="end" dominant-baseline="central" fill="#333" font-weight="normal" stroke="#333" stroke-width="0.13">6TB</text>
<text transform="translate(110.85,288.4) rotate(-90) scale(1,1)" font-size="6.2" text-anchor="end" dominant-baseline="central" fill="#333" font-weight="normal" stroke="#333" stroke-width="0.13">3TB</text>
<text transform="translate(124.92,288.4) rotate(-90) scale(1,1)" font-size="6.2" text-anchor="end" dominant-baseline="central" fill="#333" font-weight="normal" stroke="#333" stroke-width="0.13">4TB</text>
<text transform="translate(138.99,288.4) rotate(-90) scale(1,1)" font-size="6.2" text-anchor="end" dominant-baseline="central" fill="#333" font-weight="normal" stroke="#333" stroke-width="0.13">11TA</text>
<text transform="translate(153.06,288.4) rotate(-90) scale(1,1)" font-size="6.2" text-anchor="end" dominant-baseline="central" fill="#333" font-weight="normal" stroke="#333" stroke-width="0.13">11TB</text>
<text transform="translate(167.13,288.4) rotate(-90) scale(1,1)" font-size="6.2" text-anchor="end" dominant-baseline="central" fill="#333" font-weight="normal" stroke="#333" stroke-width="0.13">15TB</text>
<text transform="translate(181.2,288.4) rotate(-90) scale(1,1)" font-size="6.2" text-anchor="end" dominant-baseline="central" fill="#333" font-weight="normal" stroke="#333" stroke-width="0.13">2TB</text>
<line x1="229" y1="60.9" x2="267.3" y2="60.9" stroke="#000" stroke-width="1" />
<line x1="232.2" y1="58.4" x2="232.2" y2="61.2" stroke="#000" stroke-width="0.8" />
<text transform="translate(232.2,54.7) scale(1,1.12)" font-size="5.6" text-anchor="middle" font-weight="normal" font-style="normal" fill="#222" stroke="#222" stroke-width="0.13" >0</text>
<line x1="240.13" y1="58.4" x2="240.13" y2="61.2" stroke="#000" stroke-width="0.8" />
<text transform="translate(240.13,54.7) scale(1,1.12)" font-size="5.6" text-anchor="middle" font-weight="normal" font-style="normal" fill="#222" stroke="#222" stroke-width="0.13" >1</text>
<line x1="248.06" y1="58.4" x2="248.06" y2="61.2" stroke="#000" stroke-width="0.8" />
<text transform="translate(248.06,54.7) scale(1,1.12)" font-size="5.6" text-anchor="middle" font-weight="normal" font-style="normal" fill="#222" stroke="#222" stroke-width="0.13" >2</text>
<line x1="255.99" y1="58.4" x2="255.99" y2="61.2" stroke="#000" stroke-width="0.8" />
<text transform="translate(255.99,54.7) scale(1,1.12)" font-size="5.6" text-anchor="middle" font-weight="normal" font-style="normal" fill="#222" stroke="#222" stroke-width="0.13" >3</text>
<line x1="263.92" y1="58.4" x2="263.92" y2="61.2" stroke="#000" stroke-width="0.8" />
<text transform="translate(263.92,54.7) scale(1,1.12)" font-size="5.6" text-anchor="middle" font-weight="normal" font-style="normal" fill="#222" stroke="#222" stroke-width="0.13" >4</text>
<rect x="232.9" y="64.9" width="22.19" height="5.9" fill="#000" />
<rect x="256.69" y="64.9" width="6.33" height="5.9" fill="#356650" />
<rect x="232.9" y="72.28" width="22.19" height="5.9" fill="#356650" />
<rect x="232.9" y="79.65" width="22.19" height="5.9" fill="#356650" />
<rect x="232.9" y="87.03" width="14.26" height="5.9" fill="#000" />
<rect x="232.9" y="94.4" width="6.33" height="5.9" fill="#356650" />
<rect x="240.83" y="94.4" width="6.33" height="5.9" fill="#24457F" />
<rect x="232.9" y="101.78" width="14.26" height="5.9" fill="#356650" />
<rect x="232.9" y="109.16" width="14.26" height="5.9" fill="#356650" />
<rect x="232.9" y="116.53" width="14.26" height="5.9" fill="#356650" />
<rect x="232.9" y="123.91" width="14.26" height="5.9" fill="#356650" />
<rect x="232.9" y="131.28" width="6.33" height="5.9" fill="#000" />
<rect x="232.9" y="138.66" width="6.33" height="5.9" fill="#356650" />
<rect x="232.9" y="146.04" width="6.33" height="5.9" fill="#356650" />
<rect x="232.9" y="153.41" width="6.33" height="5.9" fill="#000" />
<rect x="232.9" y="160.79" width="6.33" height="5.9" fill="#356650" />
<rect x="232.9" y="168.16" width="6.33" height="5.9" fill="#356650" />
<rect x="232.9" y="175.54" width="6.33" height="5.9" fill="#356650" />
<rect x="232.9" y="182.92" width="6.33" height="5.9" fill="#356650" />
<rect x="232.9" y="190.29" width="6.33" height="5.9" fill="#356650" />
<rect x="232.9" y="197.67" width="6.33" height="5.9" fill="#000" />
<rect x="232.9" y="205.04" width="6.33" height="5.9" fill="#000" />
<rect x="232.9" y="212.42" width="6.33" height="5.9" fill="#000" />
<rect x="232.9" y="219.8" width="6.33" height="5.9" fill="#000" />
<rect x="232.9" y="227.17" width="6.33" height="5.9" fill="#000" />
<rect x="232.9" y="234.55" width="6.33" height="5.9" fill="#356650" />
<rect x="232.9" y="241.92" width="6.33" height="5.9" fill="#356650" />
<rect x="232.9" y="249.3" width="6.33" height="5.9" fill="#356650" />
<rect x="232.9" y="256.68" width="6.33" height="5.9" fill="#356650" />
<rect x="232.9" y="264.05" width="6.33" height="5.9" fill="#000" />
<rect x="232.9" y="271.43" width="6.33" height="5.9" fill="#356650" />
<rect x="232.9" y="278.8" width="6.33" height="5.9" fill="#356650" />
<text transform="translate(247.3,153) scale(1,1.12)" font-size="6.7" text-anchor="start" font-weight="bold" font-style="normal" fill="#000" stroke="#000" stroke-width="0.13" >Patient response</text>
<rect x="247.3" y="157.7" width="5.2" height="5.2" fill="#6CAADE" />
<text transform="translate(255.6,162.3) scale(1,1.12)" font-size="5.6" text-anchor="start" font-weight="normal" font-style="normal" fill="#333" stroke="#333" stroke-width="0.13" >CR</text>
<rect x="247.3" y="165.6" width="5.2" height="5.2" fill="#E08C1E" />
<text transform="translate(255.6,170.2) scale(1,1.12)" font-size="5.6" text-anchor="start" font-weight="normal" font-style="normal" fill="#333" stroke="#333" stroke-width="0.13" >PD</text>
<rect x="247.3" y="173.5" width="5.2" height="5.2" fill="#C8C6CB" />
<text transform="translate(255.6,178.1) scale(1,1.12)" font-size="5.6" text-anchor="start" font-weight="normal" font-style="normal" fill="#333" stroke="#333" stroke-width="0.13" >SD</text>
<text transform="translate(247.3,191) scale(1,1.12)" font-size="6.7" text-anchor="start" font-weight="bold" font-style="normal" fill="#000" stroke="#000" stroke-width="0.13" >Genetic alteration</text>
<rect x="247.3" y="196" width="5.2" height="5.2" fill="#24457F" />
<text transform="translate(255.6,200.6) scale(1,1.12)" font-size="5.4" text-anchor="start" font-weight="normal" font-style="normal" fill="#333" stroke="#333" stroke-width="0.13" >Deep Deletion</text>
<text transform="translate(247.3,213.6) scale(1,1.12)" font-size="6.7" text-anchor="start" font-weight="bold" font-style="normal" fill="#000" stroke="#000" stroke-width="0.13" >Mutation</text>
<rect x="247.3" y="219.2" width="5" height="4.8" fill="#356650" />
<text transform="translate(256,223.7) scale(1,1.12)" font-size="5.4" text-anchor="start" font-weight="normal" font-style="italic" fill="#333" stroke="#333" stroke-width="0.13" >Missense</text>
<rect x="247.3" y="226.8" width="5" height="4.8" fill="#356650" />
<circle cx="249.8" cy="229.2" r="1.3" fill="#000"/>
<text transform="translate(256,231.1) scale(1,1.12)" font-size="5.3" text-anchor="start" font-weight="normal" font-style="normal" fill="#333" stroke="#333" stroke-width="0.13" >Deleterious Missense</text>
<rect x="247.3" y="234.2" width="5" height="4.8" fill="#000" />
<text transform="translate(256,238.6) scale(1,1.12)" font-size="5.4" text-anchor="start" font-weight="normal" font-style="italic" fill="#333" stroke="#333" stroke-width="0.13" >Truncating</text>
<text transform="translate(321.4,15.8) scale(1,1)" font-size="12.4" text-anchor="start" font-weight="bold" font-style="normal" fill="#000" stroke="#000" stroke-width="0.3" >B</text>
<line x1="357" y1="22.5" x2="357" y2="94.7" stroke="#000" stroke-width="1.1" />
<line x1="354" y1="94.2" x2="357" y2="94.2" stroke="#000" stroke-width="0.9" />
<text transform="translate(351,96.8) scale(1,1)" font-size="7.2" text-anchor="end" font-weight="normal" font-style="normal" fill="#333" stroke="#333" stroke-width="0.08" >0</text>
<line x1="354" y1="80.42" x2="357" y2="80.42" stroke="#000" stroke-width="0.9" />
<text transform="translate(351,83.02) scale(1,1)" font-size="7.2" text-anchor="end" font-weight="normal" font-style="normal" fill="#333" stroke="#333" stroke-width="0.08" >10</text>
<line x1="354" y1="66.64" x2="357" y2="66.64" stroke="#000" stroke-width="0.9" />
<text transform="translate(351,69.24) scale(1,1)" font-size="7.2" text-anchor="end" font-weight="normal" font-style="normal" fill="#333" stroke="#333" stroke-width="0.08" >20</text>
<line x1="354" y1="52.86" x2="357" y2="52.86" stroke="#000" stroke-width="0.9" />
<text transform="translate(351,55.46) scale(1,1)" font-size="7.2" text-anchor="end" font-weight="normal" font-style="normal" fill="#333" stroke="#333" stroke-width="0.08" >30</text>
<line x1="354" y1="39.08" x2="357" y2="39.08" stroke="#000" stroke-width="0.9" />
<text transform="translate(351,41.68) scale(1,1)" font-size="7.2" text-anchor="end" font-weight="normal" font-style="normal" fill="#333" stroke="#333" stroke-width="0.08" >40</text>
<line x1="354" y1="25.3" x2="357" y2="25.3" stroke="#000" stroke-width="0.9" />
<text transform="translate(351,27.9) scale(1,1)" font-size="7.2" text-anchor="end" font-weight="normal" font-style="normal" fill="#333" stroke="#333" stroke-width="0.08" >50</text>
<text transform="translate(336,57.9) rotate(-90) scale(1,1.5)" font-size="6" text-anchor="middle" dominant-baseline="central" fill="#111" font-weight="normal" stroke="#111" stroke-width="0.13">Mutation load</text>
<rect x="361.3" y="15.65" width="7.3" height="78.55" fill="#C8C6CB" />
<text transform="translate(365.65,97.3) rotate(-90) scale(1,1)" font-size="6" text-anchor="end" dominant-baseline="central" fill="#222" font-weight="normal" stroke="#222" stroke-width="0.13">5TB</text>
<rect x="370.61" y="29.43" width="7.3" height="64.77" fill="#C8C6CB" />
<text transform="translate(374.96,97.3) rotate(-90) scale(1,1)" font-size="6" text-anchor="end" dominant-baseline="central" fill="#222" font-weight="normal" stroke="#222" stroke-width="0.13">10TB</text>
<rect x="379.92" y="29.43" width="7.3" height="64.77" fill="#E08C1E" />
<text transform="translate(384.27,97.3) rotate(-90) scale(1,1)" font-size="6" text-anchor="end" dominant-baseline="central" fill="#222" font-weight="normal" stroke="#222" stroke-width="0.13">7TA</text>
<rect x="389.23" y="41.84" width="7.3" height="52.36" fill="#C8C6CB" />
<text transform="translate(393.58,97.3) rotate(-90) scale(1,1)" font-size="6" text-anchor="end" dominant-baseline="central" fill="#222" font-weight="normal" stroke="#222" stroke-width="0.13">1TB</text>
<rect x="398.54" y="43.21" width="7.3" height="50.99" fill="#E08C1E" />
<text transform="translate(402.89,97.3) rotate(-90) scale(1,1)" font-size="6" text-anchor="end" dominant-baseline="central" fill="#222" font-weight="normal" stroke="#222" stroke-width="0.13">6TB</text>
<rect x="407.85" y="44.59" width="7.3" height="49.61" fill="#6CAADE" />
<text transform="translate(412.2,97.3) rotate(-90) scale(1,1)" font-size="6" text-anchor="end" dominant-baseline="central" fill="#222" font-weight="normal" stroke="#222" stroke-width="0.13">3TB</text>
<rect x="417.16" y="47.35" width="7.3" height="46.85" fill="#C8C6CB" />
<text transform="translate(421.51,97.3) rotate(-90) scale(1,1)" font-size="6" text-anchor="end" dominant-baseline="central" fill="#222" font-weight="normal" stroke="#222" stroke-width="0.13">4TB</text>
<rect x="426.47" y="66.64" width="7.3" height="27.56" fill="#C8C6CB" />
<text transform="translate(430.82,97.3) rotate(-90) scale(1,1)" font-size="6" text-anchor="end" dominant-baseline="central" fill="#222" font-weight="normal" stroke="#222" stroke-width="0.13">11TA</text>
<rect x="435.78" y="73.53" width="7.3" height="20.67" fill="#C8C6CB" />
<text transform="translate(440.13,97.3) rotate(-90) scale(1,1)" font-size="6" text-anchor="end" dominant-baseline="central" fill="#222" font-weight="normal" stroke="#222" stroke-width="0.13">11TB</text>
<rect x="445.09" y="74.91" width="7.3" height="19.29" fill="#C8C6CB" />
<text transform="translate(449.44,97.3) rotate(-90) scale(1,1)" font-size="6" text-anchor="end" dominant-baseline="central" fill="#222" font-weight="normal" stroke="#222" stroke-width="0.13">15TB</text>
<rect x="454.4" y="76.29" width="7.3" height="17.91" fill="#C8C6CB" />
<text transform="translate(458.75,97.3) rotate(-90) scale(1,1)" font-size="6" text-anchor="end" dominant-baseline="central" fill="#222" font-weight="normal" stroke="#222" stroke-width="0.13">2TB</text>
<line x1="356.5" y1="94.6" x2="465" y2="94.6" stroke="#000" stroke-width="1.2" />
<text transform="translate(321.4,139.2) scale(1,1)" font-size="12.4" text-anchor="start" font-weight="bold" font-style="normal" fill="#000" stroke="#000" stroke-width="0.3" >C</text>
<line x1="357" y1="140.2" x2="357" y2="233.8" stroke="#000" stroke-width="1.1" />
<line x1="354.6" y1="233.2" x2="357" y2="233.2" stroke="#000" stroke-width="0.9" />
<text transform="translate(351,235.8) scale(1,1)" font-size="7.2" text-anchor="end" font-weight="normal" font-style="normal" fill="#333" stroke="#333" stroke-width="0.08" >0</text>
<line x1="355.6" y1="224.16" x2="357" y2="224.16" stroke="#000" stroke-width="0.7" />
<line x1="354.6" y1="215.12" x2="357" y2="215.12" stroke="#000" stroke-width="0.9" />
<text transform="translate(351,217.72) scale(1,1)" font-size="7.2" text-anchor="end" font-weight="normal" font-style="normal" fill="#333" stroke="#333" stroke-width="0.08" >10</text>
<line x1="355.6" y1="206.08" x2="357" y2="206.08" stroke="#000" stroke-width="0.7" />
<line x1="354.6" y1="197.04" x2="357" y2="197.04" stroke="#000" stroke-width="0.9" />
<text transform="translate(351,199.64) scale(1,1)" font-size="7.2" text-anchor="end" font-weight="normal" font-style="normal" fill="#333" stroke="#333" stroke-width="0.08" >20</text>
<line x1="355.6" y1="188" x2="357" y2="188" stroke="#000" stroke-width="0.7" />
<line x1="354.6" y1="178.96" x2="357" y2="178.96" stroke="#000" stroke-width="0.9" />
<text transform="translate(351,181.56) scale(1,1)" font-size="7.2" text-anchor="end" font-weight="normal" font-style="normal" fill="#333" stroke="#333" stroke-width="0.08" >30</text>
<line x1="355.6" y1="169.92" x2="357" y2="169.92" stroke="#000" stroke-width="0.7" />
<line x1="354.6" y1="160.88" x2="357" y2="160.88" stroke="#000" stroke-width="0.9" />
<text transform="translate(351,163.48) scale(1,1)" font-size="7.2" text-anchor="end" font-weight="normal" font-style="normal" fill="#333" stroke="#333" stroke-width="0.08" >40</text>
<line x1="355.6" y1="151.84" x2="357" y2="151.84" stroke="#000" stroke-width="0.7" />
<line x1="354.6" y1="142.8" x2="357" y2="142.8" stroke="#000" stroke-width="0.9" />
<text transform="translate(351,145.4) scale(1,1)" font-size="7.2" text-anchor="end" font-weight="normal" font-style="normal" fill="#333" stroke="#333" stroke-width="0.08" >50</text>
<text transform="translate(336,186.5) rotate(-90) scale(1,1.5)" font-size="6" text-anchor="middle" dominant-baseline="central" fill="#111" font-weight="normal" stroke="#111" stroke-width="0.13">Neo-antigen load</text>
<rect x="358.8" y="177.15" width="5.8" height="18.08" fill="#2C4A7E" />
<rect x="358.8" y="195.23" width="5.8" height="37.97" fill="#A50026" />
<text transform="translate(362.4,236.9) rotate(-90) scale(1,1)" font-size="6" text-anchor="end" dominant-baseline="central" fill="#222" font-weight="normal" stroke="#222" stroke-width="0.13">5TB</text>
<rect x="368.5" y="186.19" width="5.8" height="27.12" fill="#2C4A7E" />
<rect x="368.5" y="213.31" width="5.8" height="19.89" fill="#A50026" />
<text transform="translate(372.1,236.9) rotate(-90) scale(1,1)" font-size="6" text-anchor="end" dominant-baseline="central" fill="#222" font-weight="normal" stroke="#222" stroke-width="0.13">10TB</text>
<rect x="378.2" y="148.22" width="5.8" height="34.35" fill="#2C4A7E" />
<rect x="378.2" y="182.58" width="5.8" height="50.62" fill="#A50026" />
<text transform="translate(381.8,236.9) rotate(-90) scale(1,1)" font-size="6" text-anchor="end" dominant-baseline="central" fill="#222" font-weight="normal" stroke="#222" stroke-width="0.13">7TA</text>
<rect x="387.9" y="198.85" width="5.8" height="16.27" fill="#2C4A7E" />
<rect x="387.9" y="215.12" width="5.8" height="18.08" fill="#A50026" />
<text transform="translate(391.5,236.9) rotate(-90) scale(1,1)" font-size="6" text-anchor="end" dominant-baseline="central" fill="#222" font-weight="normal" stroke="#222" stroke-width="0.13">1TB</text>
<rect x="397.6" y="193.42" width="5.8" height="14.46" fill="#2C4A7E" />
<rect x="397.6" y="207.89" width="5.8" height="25.31" fill="#A50026" />
<text transform="translate(401.2,236.9) rotate(-90) scale(1,1)" font-size="6" text-anchor="end" dominant-baseline="central" fill="#222" font-weight="normal" stroke="#222" stroke-width="0.13">6TB</text>
<rect x="407.3" y="209.7" width="5.8" height="14.46" fill="#2C4A7E" />
<rect x="407.3" y="224.16" width="5.8" height="9.04" fill="#A50026" />
<text transform="translate(410.9,236.9) rotate(-90) scale(1,1)" font-size="6" text-anchor="end" dominant-baseline="central" fill="#222" font-weight="normal" stroke="#222" stroke-width="0.13">3TB</text>
<rect x="417" y="206.08" width="5.8" height="12.66" fill="#2C4A7E" />
<rect x="417" y="218.74" width="5.8" height="14.46" fill="#A50026" />
<text transform="translate(420.6,236.9) rotate(-90) scale(1,1)" font-size="6" text-anchor="end" dominant-baseline="central" fill="#222" font-weight="normal" stroke="#222" stroke-width="0.13">4TB</text>
<rect x="426.7" y="213.31" width="5.8" height="7.23" fill="#2C4A7E" />
<rect x="426.7" y="220.54" width="5.8" height="12.66" fill="#A50026" />
<text transform="translate(430.3,236.9) rotate(-90) scale(1,1)" font-size="6" text-anchor="end" dominant-baseline="central" fill="#222" font-weight="normal" stroke="#222" stroke-width="0.13">11TA</text>
<rect x="436.4" y="216.93" width="5.8" height="5.42" fill="#2C4A7E" />
<rect x="436.4" y="222.35" width="5.8" height="10.85" fill="#A50026" />
<text transform="translate(440,236.9) rotate(-90) scale(1,1)" font-size="6" text-anchor="end" dominant-baseline="central" fill="#222" font-weight="normal" stroke="#222" stroke-width="0.13">11TB</text>
<rect x="446.1" y="180.77" width="5.8" height="34.35" fill="#2C4A7E" />
<rect x="446.1" y="215.12" width="5.8" height="18.08" fill="#A50026" />
<text transform="translate(449.7,236.9) rotate(-90) scale(1,1)" font-size="6" text-anchor="end" dominant-baseline="central" fill="#222" font-weight="normal" stroke="#222" stroke-width="0.13">15TB</text>
<rect x="455.8" y="222.35" width="5.8" height="3.62" fill="#2C4A7E" />
<rect x="455.8" y="225.97" width="5.8" height="7.23" fill="#A50026" />
<text transform="translate(459.4,236.9) rotate(-90) scale(1,1)" font-size="6" text-anchor="end" dominant-baseline="central" fill="#222" font-weight="normal" stroke="#222" stroke-width="0.13">2TB</text>
<line x1="356.5" y1="233.6" x2="465" y2="233.6" stroke="#000" stroke-width="1.2" />
<rect x="420" y="140.3" width="8.5" height="5.2" fill="#A50026" />
<text transform="translate(431.9,144.4) scale(1,1.12)" font-size="5.3" text-anchor="start" font-weight="normal" font-style="normal" fill="#333" stroke="#333" stroke-width="0.13" >Strong_binder</text>
<rect x="420" y="150.4" width="8.5" height="5" fill="#2C4A7E" />
<text transform="translate(431.9,154.7) scale(1,1.12)" font-size="5.3" text-anchor="start" font-weight="normal" font-style="normal" fill="#333" stroke="#333" stroke-width="0.13" >Weak_binder</text>
<text transform="translate(7.6,330.6) scale(1,1)" font-size="11.8" text-anchor="start" font-weight="bold" font-style="normal" fill="#000" stroke="#000" stroke-width="0.3" >D</text>
<text transform="translate(202.1,335.9) scale(1,1.12)" font-size="6.3" text-anchor="start" font-weight="normal" font-style="normal" fill="#222" stroke="#222" stroke-width="0.13" >Substitution</text>
<rect x="208.5" y="341" width="5.4" height="5.3" fill="#6CA6DC" />
<text transform="translate(217.1,345.4) scale(1,1.12)" font-size="5.6" text-anchor="start" font-weight="normal" font-style="normal" fill="#333" stroke="#333" stroke-width="0.13" >C&gt;A</text>
<rect x="208.5" y="348.8" width="5.4" height="5.3" fill="#000000" />
<text transform="translate(217.1,353.2) scale(1,1.12)" font-size="5.6" text-anchor="start" font-weight="normal" font-style="normal" fill="#333" stroke="#333" stroke-width="0.13" >C&gt;G</text>
<rect x="208.5" y="356.6" width="5.4" height="5.3" fill="#A50026" />
<text transform="translate(217.1,361) scale(1,1.12)" font-size="5.6" text-anchor="start" font-weight="normal" font-style="normal" fill="#333" stroke="#333" stroke-width="0.13" >C&gt;T</text>
<rect x="208.5" y="364.4" width="5.4" height="5.3" fill="#C8C6CB" />
<text transform="translate(217.1,368.8) scale(1,1.12)" font-size="5.6" text-anchor="start" font-weight="normal" font-style="normal" fill="#333" stroke="#333" stroke-width="0.13" >T&gt;A</text>
<rect x="208.5" y="372.2" width="5.4" height="5.3" fill="#5BA033" />
<text transform="translate(217.1,376.6) scale(1,1.12)" font-size="5.6" text-anchor="start" font-weight="normal" font-style="normal" fill="#333" stroke="#333" stroke-width="0.13" >T&gt;C</text>
<rect x="208.5" y="380" width="5.4" height="5.3" fill="#D9968A" />
<text transform="translate(217.1,384.4) scale(1,1.12)" font-size="5.6" text-anchor="start" font-weight="normal" font-style="normal" fill="#333" stroke="#333" stroke-width="0.13" >T&gt;G</text>
<path d="M51.1,344.7 A26.1,26.1 0 0 1 76.8,366.23 L61.73,368.91 A10.8,10.8 0 0 0 51.1,360 Z" fill="#6CA6DC" stroke="#fff" stroke-width="0.8"/>
<path d="M76.8,366.23 A26.1,26.1 0 0 1 76.8,375.37 L61.73,372.69 A10.8,10.8 0 0 0 61.73,368.91 Z" fill="#000000" stroke="#fff" stroke-width="0.8"/>
<path d="M76.8,375.37 A26.1,26.1 0 0 1 34.34,390.81 L44.16,379.08 A10.8,10.8 0 0 0 61.73,372.69 Z" fill="#A50026" stroke="#fff" stroke-width="0.8"/>
<path d="M34.34,390.81 A26.1,26.1 0 0 1 25.4,375.37 L40.47,372.69 A10.8,10.8 0 0 0 44.16,379.08 Z" fill="#C8C6CB" stroke="#fff" stroke-width="0.8"/>
<path d="M25.4,375.37 A26.1,26.1 0 0 1 37.96,348.25 L45.66,361.47 A10.8,10.8 0 0 0 40.47,372.69 Z" fill="#5BA033" stroke="#fff" stroke-width="0.8"/>
<path d="M37.96,348.25 A26.1,26.1 0 0 1 50.94,344.7 L51.03,360 A10.8,10.8 0 0 0 45.66,361.47 Z" fill="#D9968A" stroke="#fff" stroke-width="0.8"/>
<rect x="58.9" y="355.9" width="19.2" height="6.0" rx="1" fill="#fff" stroke="#555" stroke-width="0.6"/>
<text transform="translate(68.5,360.8) scale(1,1.12)" font-size="5.3" text-anchor="middle" font-weight="normal" font-style="normal" fill="#222" stroke="#222" stroke-width="0.06" >22.2 %</text>
<rect x="60.4" y="372.9" width="16.2" height="6.0" rx="1" fill="#fff" stroke="#555" stroke-width="0.6"/>
<text transform="translate(68.5,377.8) scale(1,1.12)" font-size="5.3" text-anchor="middle" font-weight="normal" font-style="normal" fill="#222" stroke="#222" stroke-width="0.06" >5.6 %</text>
<rect x="52.4" y="383.6" width="19.2" height="6.0" rx="1" fill="#fff" stroke="#555" stroke-width="0.6"/>
<text transform="translate(62,388.5) scale(1,1.12)" font-size="5.3" text-anchor="middle" font-weight="normal" font-style="normal" fill="#222" stroke="#222" stroke-width="0.06" >33.3 %</text>
<rect x="26.7" y="374.9" width="19.2" height="6.0" rx="1" fill="#fff" stroke="#555" stroke-width="0.6"/>
<text transform="translate(36.3,379.8) scale(1,1.12)" font-size="5.3" text-anchor="middle" font-weight="normal" font-style="normal" fill="#222" stroke="#222" stroke-width="0.06" >11.1 %</text>
<rect x="17.5" y="363.3" width="19.2" height="6.0" rx="1" fill="#fff" stroke="#555" stroke-width="0.6"/>
<text transform="translate(27.1,368.2) scale(1,1.12)" font-size="5.3" text-anchor="middle" font-weight="normal" font-style="normal" fill="#222" stroke="#222" stroke-width="0.06" >19.4 %</text>
<rect x="30.4" y="342.4" width="16.2" height="6.0" rx="1" fill="#fff" stroke="#555" stroke-width="0.6"/>
<text transform="translate(38.5,347.3) scale(1,1.12)" font-size="5.3" text-anchor="middle" font-weight="normal" font-style="normal" fill="#222" stroke="#222" stroke-width="0.06" >8.3 %</text>
<text transform="translate(108.8,338.2) scale(1,1.12)" font-size="8.6" text-anchor="middle" font-weight="normal" font-style="normal" fill="#111" stroke="#111" stroke-width="0.13" >3TB</text>
<line x1="132.3" y1="346" x2="132.3" y2="383.9" stroke="#000" stroke-width="1" />
<line x1="131.8" y1="383.5" x2="197.2" y2="383.5" stroke="#000" stroke-width="1" />
<line x1="132.7" y1="383.5" x2="132.7" y2="385.6" stroke="#000" stroke-width="0.8" />
<text transform="translate(132.7,395.7) scale(1,1.12)" font-size="6.2" text-anchor="middle" font-weight="normal" font-style="normal" fill="#222" stroke="#222" stroke-width="0.13" >0</text>
<line x1="148.02" y1="383.5" x2="148.02" y2="385.6" stroke="#000" stroke-width="0.8" />
<text transform="translate(148.02,395.7) scale(1,1.12)" font-size="6.2" text-anchor="middle" font-weight="normal" font-style="normal" fill="#222" stroke="#222" stroke-width="0.13" >25</text>
<line x1="163.35" y1="383.5" x2="163.35" y2="385.6" stroke="#000" stroke-width="0.8" />
<text transform="translate(163.35,395.7) scale(1,1.12)" font-size="6.2" text-anchor="middle" font-weight="normal" font-style="normal" fill="#222" stroke="#222" stroke-width="0.13" >50</text>
<line x1="178.67" y1="383.5" x2="178.67" y2="385.6" stroke="#000" stroke-width="0.8" />
<text transform="translate(178.67,395.7) scale(1,1.12)" font-size="6.2" text-anchor="middle" font-weight="normal" font-style="normal" fill="#222" stroke="#222" stroke-width="0.13" >75</text>
<line x1="194" y1="383.5" x2="194" y2="385.6" stroke="#000" stroke-width="0.8" />
<text transform="translate(194,395.7) scale(1,1.12)" font-size="6.2" text-anchor="middle" font-weight="normal" font-style="normal" fill="#222" stroke="#222" stroke-width="0.13" >100</text>
<rect x="132.7" y="351.3" width="49.35" height="11.4" fill="#2C4A7E" />
<line x1="129.8" y1="357" x2="132.3" y2="357" stroke="#000" stroke-width="0.8" />
<text transform="translate(125.8,359.2) scale(1,1.12)" font-size="6.3" text-anchor="end" font-weight="normal" font-style="normal" fill="#222" stroke="#222" stroke-width="0.13" >Signature 9</text>
<text transform="translate(180.55,358.9) scale(1,1.12)" font-size="5.4" text-anchor="end" font-weight="normal" font-style="normal" fill="#fff" stroke="#fff" stroke-width="0.13" >80.5%</text>
<rect x="132.7" y="368" width="11.95" height="11.4" fill="#A50026" />
<line x1="129.8" y1="373.7" x2="132.3" y2="373.7" stroke="#000" stroke-width="0.8" />
<text transform="translate(125.8,375.9) scale(1,1.12)" font-size="6.3" text-anchor="end" font-weight="normal" font-style="normal" fill="#222" stroke="#222" stroke-width="0.13" >Signature 10</text>
<text transform="translate(146.25,375.6) scale(1,1.12)" font-size="5.4" text-anchor="start" font-weight="normal" font-style="normal" fill="#222" stroke="#222" stroke-width="0.13" >19.5%</text>
<path d="M51.1,427.8 A26.1,26.1 0 0 1 63.82,431.11 L56.36,444.47 A10.8,10.8 0 0 0 51.1,443.1 Z" fill="#6CA6DC" stroke="#fff" stroke-width="0.8"/>
<path d="M63.82,431.11 A26.1,26.1 0 0 1 76.61,448.37 L61.65,451.61 A10.8,10.8 0 0 0 56.36,444.47 Z" fill="#000000" stroke="#fff" stroke-width="0.8"/>
<path d="M76.61,448.37 A26.1,26.1 0 0 1 27.84,465.75 L41.48,458.8 A10.8,10.8 0 0 0 61.65,451.61 Z" fill="#A50026" stroke="#fff" stroke-width="0.8"/>
<path d="M27.84,465.75 A26.1,26.1 0 0 1 25.02,452.92 L40.31,453.49 A10.8,10.8 0 0 0 41.48,458.8 Z" fill="#C8C6CB" stroke="#fff" stroke-width="0.8"/>
<path d="M25.02,452.92 A26.1,26.1 0 0 1 42.26,429.34 L47.44,443.74 A10.8,10.8 0 0 0 40.31,453.49 Z" fill="#5BA033" stroke="#fff" stroke-width="0.8"/>
<path d="M42.26,429.34 A26.1,26.1 0 0 1 50.94,427.8 L51.03,443.1 A10.8,10.8 0 0 0 47.44,443.74 Z" fill="#D9968A" stroke="#fff" stroke-width="0.8"/>
<rect x="54" y="426.4" width="16.2" height="6.0" rx="1" fill="#fff" stroke="#555" stroke-width="0.6"/>
<text transform="translate(62.1,431.3) scale(1,1.12)" font-size="5.3" text-anchor="middle" font-weight="normal" font-style="normal" fill="#222" stroke="#222" stroke-width="0.06" >8.1 %</text>
<rect x="63.2" y="443.3" width="19.2" height="6.0" rx="1" fill="#fff" stroke="#555" stroke-width="0.6"/>
<text transform="translate(72.8,448.2) scale(1,1.12)" font-size="5.3" text-anchor="middle" font-weight="normal" font-style="normal" fill="#222" stroke="#222" stroke-width="0.06" >13.5 %</text>
<rect x="53.5" y="467.8" width="19.2" height="6.0" rx="1" fill="#fff" stroke="#555" stroke-width="0.6"/>
<text transform="translate(63.1,472.7) scale(1,1.12)" font-size="5.3" text-anchor="middle" font-weight="normal" font-style="normal" fill="#222" stroke="#222" stroke-width="0.06" >45.9 %</text>
<rect x="17.6" y="461.1" width="16.2" height="6.0" rx="1" fill="#fff" stroke="#555" stroke-width="0.6"/>
<text transform="translate(25.7,466) scale(1,1.12)" font-size="5.3" text-anchor="middle" font-weight="normal" font-style="normal" fill="#222" stroke="#222" stroke-width="0.06" >8.1 %</text>
<rect x="20.4" y="443.3" width="19.2" height="6.0" rx="1" fill="#fff" stroke="#555" stroke-width="0.6"/>
<text transform="translate(30,448.2) scale(1,1.12)" font-size="5.3" text-anchor="middle" font-weight="normal" font-style="normal" fill="#222" stroke="#222" stroke-width="0.06" >18.9 %</text>
<rect x="33.1" y="426.4" width="16.2" height="6.0" rx="1" fill="#fff" stroke="#555" stroke-width="0.6"/>
<text transform="translate(41.2,431.3) scale(1,1.12)" font-size="5.3" text-anchor="middle" font-weight="normal" font-style="normal" fill="#222" stroke="#222" stroke-width="0.06" >5.4 %</text>
<text transform="translate(109.1,421.3) scale(1,1.12)" font-size="8.6" text-anchor="middle" font-weight="normal" font-style="normal" fill="#111" stroke="#111" stroke-width="0.13" >6TB</text>
<line x1="132.3" y1="429.1" x2="132.3" y2="467" stroke="#000" stroke-width="1" />
<line x1="131.8" y1="466.6" x2="197.2" y2="466.6" stroke="#000" stroke-width="1" />
<line x1="132.7" y1="466.6" x2="132.7" y2="468.7" stroke="#000" stroke-width="0.8" />
<text transform="translate(132.7,478.8) scale(1,1.12)" font-size="6.2" text-anchor="middle" font-weight="normal" font-style="normal" fill="#222" stroke="#222" stroke-width="0.13" >0</text>
<line x1="148.02" y1="466.6" x2="148.02" y2="468.7" stroke="#000" stroke-width="0.8" />
<text transform="translate(148.02,478.8) scale(1,1.12)" font-size="6.2" text-anchor="middle" font-weight="normal" font-style="normal" fill="#222" stroke="#222" stroke-width="0.13" >25</text>
<line x1="163.35" y1="466.6" x2="163.35" y2="468.7" stroke="#000" stroke-width="0.8" />
<text transform="translate(163.35,478.8) scale(1,1.12)" font-size="6.2" text-anchor="middle" font-weight="normal" font-style="normal" fill="#222" stroke="#222" stroke-width="0.13" >50</text>
<line x1="178.67" y1="466.6" x2="178.67" y2="468.7" stroke="#000" stroke-width="0.8" />
<text transform="translate(178.67,478.8) scale(1,1.12)" font-size="6.2" text-anchor="middle" font-weight="normal" font-style="normal" fill="#222" stroke="#222" stroke-width="0.13" >75</text>
<line x1="194" y1="466.6" x2="194" y2="468.7" stroke="#000" stroke-width="0.8" />
<text transform="translate(194,478.8) scale(1,1.12)" font-size="6.2" text-anchor="middle" font-weight="normal" font-style="normal" fill="#222" stroke="#222" stroke-width="0.13" >100</text>
<rect x="132.7" y="434.4" width="34.21" height="11.4" fill="#2C4A7E" />
<line x1="129.8" y1="440.1" x2="132.3" y2="440.1" stroke="#000" stroke-width="0.8" />
<text transform="translate(125.8,442.3) scale(1,1.12)" font-size="6.3" text-anchor="end" font-weight="normal" font-style="normal" fill="#222" stroke="#222" stroke-width="0.13" >Signature 1</text>
<text transform="translate(165.41,442) scale(1,1.12)" font-size="5.4" text-anchor="end" font-weight="normal" font-style="normal" fill="#fff" stroke="#fff" stroke-width="0.13" >55.8%</text>
<rect x="132.7" y="451.1" width="27.09" height="11.4" fill="#A50026" />
<line x1="129.8" y1="456.8" x2="132.3" y2="456.8" stroke="#000" stroke-width="0.8" />
<text transform="translate(125.8,459) scale(1,1.12)" font-size="6.3" text-anchor="end" font-weight="normal" font-style="normal" fill="#222" stroke="#222" stroke-width="0.13" >Signature 3</text>
<text transform="translate(161.39,458.7) scale(1,1.12)" font-size="5.4" text-anchor="start" font-weight="normal" font-style="normal" fill="#222" stroke="#222" stroke-width="0.13" >44.2%</text>
<path d="M51.1,510.9 A26.1,26.1 0 0 1 68.85,517.86 L58.44,529.08 A10.8,10.8 0 0 0 51.1,526.2 Z" fill="#6CA6DC" stroke="#fff" stroke-width="0.8"/>
<path d="M68.85,517.86 A26.1,26.1 0 0 1 76.9,533.08 L61.78,535.38 A10.8,10.8 0 0 0 58.44,529.08 Z" fill="#000000" stroke="#fff" stroke-width="0.8"/>
<path d="M76.9,533.08 A26.1,26.1 0 0 1 31.96,554.75 L43.18,544.34 A10.8,10.8 0 0 0 61.78,535.38 Z" fill="#A50026" stroke="#fff" stroke-width="0.8"/>
<path d="M31.96,554.75 A26.1,26.1 0 0 1 25.07,538.97 L40.33,537.81 A10.8,10.8 0 0 0 43.18,544.34 Z" fill="#C8C6CB" stroke="#fff" stroke-width="0.8"/>
<path d="M25.07,538.97 A26.1,26.1 0 0 1 34.85,516.58 L44.37,528.55 A10.8,10.8 0 0 0 40.33,537.81 Z" fill="#5BA033" stroke="#fff" stroke-width="0.8"/>
<path d="M34.85,516.58 A26.1,26.1 0 0 1 51.1,510.9 L51.1,526.2 A10.8,10.8 0 0 0 44.37,528.55 Z" fill="#D9968A" stroke="#fff" stroke-width="0.8"/>
<rect x="53.8" y="519.5" width="19.2" height="6.0" rx="1" fill="#fff" stroke="#555" stroke-width="0.6"/>
<text transform="translate(63.4,524.4) scale(1,1.12)" font-size="5.3" text-anchor="middle" font-weight="normal" font-style="normal" fill="#222" stroke="#222" stroke-width="0.06" >11.9 %</text>
<rect x="64" y="529" width="19.2" height="6.0" rx="1" fill="#fff" stroke="#555" stroke-width="0.6"/>
<text transform="translate(73.6,533.9) scale(1,1.12)" font-size="5.3" text-anchor="middle" font-weight="normal" font-style="normal" fill="#222" stroke="#222" stroke-width="0.06" >10.7 %</text>
<rect x="54.8" y="549.5" width="19.2" height="6.0" rx="1" fill="#fff" stroke="#555" stroke-width="0.6"/>
<text transform="translate(64.4,554.4) scale(1,1.12)" font-size="5.3" text-anchor="middle" font-weight="normal" font-style="normal" fill="#222" stroke="#222" stroke-width="0.06" >40.5 %</text>
<rect x="25.6" y="538.7" width="19.2" height="6.0" rx="1" fill="#fff" stroke="#555" stroke-width="0.6"/>
<text transform="translate(35.2,543.6) scale(1,1.12)" font-size="5.3" text-anchor="middle" font-weight="normal" font-style="normal" fill="#222" stroke="#222" stroke-width="0.06" >10.7 %</text>
<rect x="25.3" y="521.9" width="19.2" height="6.0" rx="1" fill="#fff" stroke="#555" stroke-width="0.6"/>
<text transform="translate(34.9,526.8) scale(1,1.12)" font-size="5.3" text-anchor="middle" font-weight="normal" font-style="normal" fill="#222" stroke="#222" stroke-width="0.06" >15.5 %</text>
<rect x="29.1" y="509.6" width="19.2" height="6.0" rx="1" fill="#fff" stroke="#555" stroke-width="0.6"/>
<text transform="translate(38.7,514.5) scale(1,1.12)" font-size="5.3" text-anchor="middle" font-weight="normal" font-style="normal" fill="#222" stroke="#222" stroke-width="0.06" >10.7 %</text>
<text transform="translate(113.25,504.4) scale(1,1.12)" font-size="8.6" text-anchor="middle" font-weight="normal" font-style="normal" fill="#111" stroke="#111" stroke-width="0.13" >6TB+7TA</text>
<line x1="132.3" y1="512.2" x2="132.3" y2="550.1" stroke="#000" stroke-width="1" />
<line x1="131.8" y1="549.7" x2="197.2" y2="549.7" stroke="#000" stroke-width="1" />
<line x1="132.7" y1="549.7" x2="132.7" y2="551.8" stroke="#000" stroke-width="0.8" />
<text transform="translate(132.7,561.9) scale(1,1.12)" font-size="6.2" text-anchor="middle" font-weight="normal" font-style="normal" fill="#222" stroke="#222" stroke-width="0.13" >0</text>
<line x1="148.02" y1="549.7" x2="148.02" y2="551.8" stroke="#000" stroke-width="0.8" />
<text transform="translate(148.02,561.9) scale(1,1.12)" font-size="6.2" text-anchor="middle" font-weight="normal" font-style="normal" fill="#222" stroke="#222" stroke-width="0.13" >25</text>
<line x1="163.35" y1="549.7" x2="163.35" y2="551.8" stroke="#000" stroke-width="0.8" />
<text transform="translate(163.35,561.9) scale(1,1.12)" font-size="6.2" text-anchor="middle" font-weight="normal" font-style="normal" fill="#222" stroke="#222" stroke-width="0.13" >50</text>
<line x1="178.67" y1="549.7" x2="178.67" y2="551.8" stroke="#000" stroke-width="0.8" />
<text transform="translate(178.67,561.9) scale(1,1.12)" font-size="6.2" text-anchor="middle" font-weight="normal" font-style="normal" fill="#222" stroke="#222" stroke-width="0.13" >75</text>
<line x1="194" y1="549.7" x2="194" y2="551.8" stroke="#000" stroke-width="0.8" />
<text transform="translate(194,561.9) scale(1,1.12)" font-size="6.2" text-anchor="middle" font-weight="normal" font-style="normal" fill="#222" stroke="#222" stroke-width="0.13" >100</text>
<rect x="132.7" y="517.5" width="38.86" height="11.4" fill="#2C4A7E" />
<line x1="129.8" y1="523.2" x2="132.3" y2="523.2" stroke="#000" stroke-width="0.8" />
<text transform="translate(125.8,525.4) scale(1,1.12)" font-size="6.3" text-anchor="end" font-weight="normal" font-style="normal" fill="#222" stroke="#222" stroke-width="0.13" >Signature 5</text>
<text transform="translate(170.06,525.1) scale(1,1.12)" font-size="5.4" text-anchor="end" font-weight="normal" font-style="normal" fill="#fff" stroke="#fff" stroke-width="0.13" >63.4%</text>
<rect x="132.7" y="534.2" width="22.44" height="11.4" fill="#A50026" />
<line x1="129.8" y1="539.9" x2="132.3" y2="539.9" stroke="#000" stroke-width="0.8" />
<text transform="translate(125.8,542.1) scale(1,1.12)" font-size="6.3" text-anchor="end" font-weight="normal" font-style="normal" fill="#222" stroke="#222" stroke-width="0.13" >Signature 1</text>
<text transform="translate(156.74,541.8) scale(1,1.12)" font-size="5.4" text-anchor="start" font-weight="normal" font-style="normal" fill="#222" stroke="#222" stroke-width="0.13" >36.6%</text>
<path d="M51.1,594 A26.1,26.1 0 0 1 71.52,603.85 L59.55,613.37 A10.8,10.8 0 0 0 51.1,609.3 Z" fill="#6CA6DC" stroke="#fff" stroke-width="0.8"/>
<path d="M71.52,603.85 A26.1,26.1 0 0 1 77.08,622.56 L61.85,621.12 A10.8,10.8 0 0 0 59.55,613.37 Z" fill="#000000" stroke="#fff" stroke-width="0.8"/>
<path d="M77.08,622.56 A26.1,26.1 0 0 1 28.72,633.53 L41.84,625.66 A10.8,10.8 0 0 0 61.85,621.12 Z" fill="#A50026" stroke="#fff" stroke-width="0.8"/>
<path d="M28.72,633.53 A26.1,26.1 0 0 1 25.37,615.69 L40.46,618.28 A10.8,10.8 0 0 0 41.84,625.66 Z" fill="#C8C6CB" stroke="#fff" stroke-width="0.8"/>
<path d="M25.37,615.69 A26.1,26.1 0 0 1 35.63,599.08 L44.7,611.4 A10.8,10.8 0 0 0 40.46,618.28 Z" fill="#5BA033" stroke="#fff" stroke-width="0.8"/>
<path d="M35.63,599.08 A26.1,26.1 0 0 1 51.1,594 L51.1,609.3 A10.8,10.8 0 0 0 44.7,611.4 Z" fill="#D9968A" stroke="#fff" stroke-width="0.8"/>
<rect x="55.2" y="602.2" width="19.2" height="6.0" rx="1" fill="#fff" stroke="#555" stroke-width="0.6"/>
<text transform="translate(64.8,607.1) scale(1,1.12)" font-size="5.3" text-anchor="middle" font-weight="normal" font-style="normal" fill="#222" stroke="#222" stroke-width="0.06" >14.3 %</text>
<rect x="57.5" y="615.7" width="19.2" height="6.0" rx="1" fill="#fff" stroke="#555" stroke-width="0.6"/>
<text transform="translate(67.1,620.6) scale(1,1.12)" font-size="5.3" text-anchor="middle" font-weight="normal" font-style="normal" fill="#222" stroke="#222" stroke-width="0.06" >12.2 %</text>
<rect x="50.8" y="633.8" width="19.2" height="6.0" rx="1" fill="#fff" stroke="#555" stroke-width="0.6"/>
<text transform="translate(60.4,638.7) scale(1,1.12)" font-size="5.3" text-anchor="middle" font-weight="normal" font-style="normal" fill="#222" stroke="#222" stroke-width="0.06" >39.9 %</text>
<rect x="24.5" y="617" width="19.2" height="6.0" rx="1" fill="#fff" stroke="#555" stroke-width="0.6"/>
<text transform="translate(34.1,621.9) scale(1,1.12)" font-size="5.3" text-anchor="middle" font-weight="normal" font-style="normal" fill="#222" stroke="#222" stroke-width="0.06" >11.3 %</text>
<rect x="27.8" y="601.5" width="19.2" height="6.0" rx="1" fill="#fff" stroke="#555" stroke-width="0.6"/>
<text transform="translate(37.4,606.4) scale(1,1.12)" font-size="5.3" text-anchor="middle" font-weight="normal" font-style="normal" fill="#222" stroke="#222" stroke-width="0.06" >12.2 %</text>
<rect x="30.5" y="592.3" width="19.2" height="6.0" rx="1" fill="#fff" stroke="#555" stroke-width="0.6"/>
<text transform="translate(40.1,597.2) scale(1,1.12)" font-size="5.3" text-anchor="middle" font-weight="normal" font-style="normal" fill="#222" stroke="#222" stroke-width="0.06" >10.1 %</text>
<text transform="translate(113.3,587.5) scale(1,1.12)" font-size="8.6" text-anchor="middle" font-weight="normal" font-style="normal" fill="#111" stroke="#111" stroke-width="0.13" >Others</text>
<line x1="132.3" y1="595.3" x2="132.3" y2="633.2" stroke="#000" stroke-width="1" />
<line x1="131.8" y1="632.8" x2="197.2" y2="632.8" stroke="#000" stroke-width="1" />
<line x1="132.7" y1="632.8" x2="132.7" y2="634.9" stroke="#000" stroke-width="0.8" />
<text transform="translate(132.7,645) scale(1,1.12)" font-size="6.2" text-anchor="middle" font-weight="normal" font-style="normal" fill="#222" stroke="#222" stroke-width="0.13" >0</text>
<line x1="148.02" y1="632.8" x2="148.02" y2="634.9" stroke="#000" stroke-width="0.8" />
<text transform="translate(148.02,645) scale(1,1.12)" font-size="6.2" text-anchor="middle" font-weight="normal" font-style="normal" fill="#222" stroke="#222" stroke-width="0.13" >25</text>
<line x1="163.35" y1="632.8" x2="163.35" y2="634.9" stroke="#000" stroke-width="0.8" />
<text transform="translate(163.35,645) scale(1,1.12)" font-size="6.2" text-anchor="middle" font-weight="normal" font-style="normal" fill="#222" stroke="#222" stroke-width="0.13" >50</text>
<line x1="178.67" y1="632.8" x2="178.67" y2="634.9" stroke="#000" stroke-width="0.8" />
<text transform="translate(178.67,645) scale(1,1.12)" font-size="6.2" text-anchor="middle" font-weight="normal" font-style="normal" fill="#222" stroke="#222" stroke-width="0.13" >75</text>
<line x1="194" y1="632.8" x2="194" y2="634.9" stroke="#000" stroke-width="0.8" />
<text transform="translate(194,645) scale(1,1.12)" font-size="6.2" text-anchor="middle" font-weight="normal" font-style="normal" fill="#222" stroke="#222" stroke-width="0.13" >100</text>
<rect x="132.7" y="600.6" width="33.04" height="11.4" fill="#2C4A7E" />
<line x1="129.8" y1="606.3" x2="132.3" y2="606.3" stroke="#000" stroke-width="0.8" />
<text transform="translate(125.8,608.5) scale(1,1.12)" font-size="6.3" text-anchor="end" font-weight="normal" font-style="normal" fill="#222" stroke="#222" stroke-width="0.13" >Signature 3</text>
<text transform="translate(164.24,608.2) scale(1,1.12)" font-size="5.4" text-anchor="end" font-weight="normal" font-style="normal" fill="#fff" stroke="#fff" stroke-width="0.13" >53.9%</text>
<rect x="132.7" y="617.3" width="28.26" height="11.4" fill="#A50026" />
<line x1="129.8" y1="623" x2="132.3" y2="623" stroke="#000" stroke-width="0.8" />
<text transform="translate(125.8,625.2) scale(1,1.12)" font-size="6.3" text-anchor="end" font-weight="normal" font-style="normal" fill="#222" stroke="#222" stroke-width="0.13" >Signature 1</text>
<text transform="translate(162.56,624.9) scale(1,1.12)" font-size="5.4" text-anchor="start" font-weight="normal" font-style="normal" fill="#222" stroke="#222" stroke-width="0.13" >46.1%</text>
<text transform="translate(251.6,278.6) scale(0.88,1)" font-size="12.2" text-anchor="start" font-weight="bold" font-style="normal" fill="#000" stroke="#000" stroke-width="0.3" >E</text>
<text transform="translate(279.98,292.9) scale(1,1)" font-size="4.6" text-anchor="middle" font-weight="normal" font-style="normal" fill="#333" stroke="#333" stroke-width="0.12" >1</text>
<text transform="translate(298.52,287.2) scale(1,1)" font-size="4.6" text-anchor="middle" font-weight="normal" font-style="normal" fill="#333" stroke="#333" stroke-width="0.12" >2</text>
<text transform="translate(315.13,292.9) scale(1,1)" font-size="4.6" text-anchor="middle" font-weight="normal" font-style="normal" fill="#333" stroke="#333" stroke-width="0.12" >3</text>
<text transform="translate(329.78,287.2) scale(1,1)" font-size="4.6" text-anchor="middle" font-weight="normal" font-style="normal" fill="#333" stroke="#333" stroke-width="0.12" >4</text>
<text transform="translate(343.79,292.9) scale(1,1)" font-size="4.6" text-anchor="middle" font-weight="normal" font-style="normal" fill="#333" stroke="#333" stroke-width="0.12" >5</text>
<text transform="translate(357.04,287.2) scale(1,1)" font-size="4.6" text-anchor="middle" font-weight="normal" font-style="normal" fill="#333" stroke="#333" stroke-width="0.12" >6</text>
<text transform="translate(369.47,292.9) scale(1,1)" font-size="4.6" text-anchor="middle" font-weight="normal" font-style="normal" fill="#333" stroke="#333" stroke-width="0.12" >7</text>
<text transform="translate(380.97,287.2) scale(1,1)" font-size="4.6" text-anchor="middle" font-weight="normal" font-style="normal" fill="#333" stroke="#333" stroke-width="0.12" >8</text>
<text transform="translate(391.8,292.9) scale(1,1)" font-size="4.6" text-anchor="middle" font-weight="normal" font-style="normal" fill="#333" stroke="#333" stroke-width="0.12" >9</text>
<text transform="translate(402.22,287.2) scale(1,1)" font-size="4.6" text-anchor="middle" font-weight="normal" font-style="normal" fill="#333" stroke="#333" stroke-width="0.12" >10</text>
<text transform="translate(412.4,292.9) scale(1,1)" font-size="4.6" text-anchor="middle" font-weight="normal" font-style="normal" fill="#333" stroke="#333" stroke-width="0.12" >11</text>
<text transform="translate(422.52,287.2) scale(1,1)" font-size="4.6" text-anchor="middle" font-weight="normal" font-style="normal" fill="#333" stroke="#333" stroke-width="0.12" >12</text>
<text transform="translate(431.9,292.9) scale(1,1)" font-size="4.6" text-anchor="middle" font-weight="normal" font-style="normal" fill="#333" stroke="#333" stroke-width="0.12" >13</text>
<text transform="translate(440.27,287.2) scale(1,1)" font-size="4.6" text-anchor="middle" font-weight="normal" font-style="normal" fill="#333" stroke="#333" stroke-width="0.12" >14</text>
<text transform="translate(448.17,292.9) scale(1,1)" font-size="4.6" text-anchor="middle" font-weight="normal" font-style="normal" fill="#333" stroke="#333" stroke-width="0.12" >15</text>
<text transform="translate(455.43,287.2) scale(1,1)" font-size="4.6" text-anchor="middle" font-weight="normal" font-style="normal" fill="#333" stroke="#333" stroke-width="0.12" >16</text>
<text transform="translate(461.89,292.9) scale(1,1)" font-size="4.6" text-anchor="middle" font-weight="normal" font-style="normal" fill="#333" stroke="#333" stroke-width="0.12" >17</text>
<text transform="translate(467.89,287.2) scale(1,1)" font-size="4.6" text-anchor="middle" font-weight="normal" font-style="normal" fill="#333" stroke="#333" stroke-width="0.12" >18</text>
<text transform="translate(473.05,292.9) scale(1,1)" font-size="4.6" text-anchor="middle" font-weight="normal" font-style="normal" fill="#333" stroke="#333" stroke-width="0.12" >19</text>
<text transform="translate(477.65,287.2) scale(1,1)" font-size="4.6" text-anchor="middle" font-weight="normal" font-style="normal" fill="#333" stroke="#333" stroke-width="0.12" >20</text>
<text transform="translate(485,283) scale(1,1.12)" font-size="4.4" text-anchor="middle" font-weight="normal" font-style="normal" fill="#222" stroke="#222" stroke-width="0.13" >21</text>
<text transform="translate(492.8,283) scale(1,1.12)" font-size="4.4" text-anchor="middle" font-weight="normal" font-style="normal" fill="#222" stroke="#222" stroke-width="0.13" >22</text>
<text transform="translate(494.6,291) scale(1,1.12)" font-size="4.6" text-anchor="middle" font-weight="normal" font-style="normal" fill="#222" stroke="#222" stroke-width="0.13" >X</text>
<line x1="482.3" y1="293" x2="484.8" y2="284.8" stroke="#111" stroke-width="0.8" />
<line x1="487.7" y1="293" x2="490.2" y2="284.8" stroke="#111" stroke-width="0.8" />
<rect x="270.6" y="326.1" width="228.6" height="1.1" fill="#A9A9EE" />
<rect x="270.6" y="327.1" width="228.6" height="1" fill="#C3C8BC" />
<rect x="270.6" y="322.9" width="9" height="2.9" fill="#DD0000" />
<rect x="281.4" y="322.9" width="26.28" height="2.9" fill="#DD0000" />
<rect x="322.59" y="322.9" width="14.39" height="2.9" fill="#DD0000" />
<rect x="350.6" y="322.9" width="12.88" height="2.9" fill="#DD0000" />
<rect x="375.46" y="322.9" width="11.02" height="2.9" fill="#DD0000" />
<rect x="397.11" y="322.9" width="10.2" height="2.9" fill="#DD0000" />
<rect x="417.48" y="322.9" width="26.83" height="2.9" fill="#DD0000" />
<rect x="452.03" y="322.9" width="6.8" height="2.9" fill="#DD0000" />
<rect x="464.95" y="322.9" width="5.88" height="2.9" fill="#DD0000" />
<rect x="475.28" y="322.9" width="12.23" height="2.9" fill="#DD0000" />
<rect x="307.68" y="322.7" width="14.91" height="3.2" fill="#0000EE" />
<rect x="307.68" y="317.1" width="14.91" height="3" fill="#DD0000" />
<rect x="336.98" y="322.7" width="13.62" height="3.2" fill="#0000EE" />
<rect x="336.98" y="317.1" width="13.62" height="3" fill="#DD0000" />
<rect x="363.48" y="322.7" width="11.98" height="3.2" fill="#0000EE" />
<rect x="363.48" y="317.1" width="11.98" height="3" fill="#DD0000" />
<rect x="444.32" y="322.7" width="7.72" height="3.2" fill="#0000EE" />
<rect x="444.32" y="317.1" width="7.72" height="3" fill="#DD0000" />
<rect x="458.84" y="322.7" width="6.11" height="3.2" fill="#0000EE" />
<rect x="458.84" y="317.1" width="6.11" height="3" fill="#DD0000" />
<rect x="470.83" y="322.7" width="4.45" height="3.2" fill="#0000EE" />
<rect x="470.83" y="317.1" width="4.45" height="3" fill="#DD0000" />
<rect x="407.32" y="322.7" width="10.16" height="3.2" fill="#0000EE" />
<rect x="407.32" y="317.1" width="3.28" height="3" fill="#DD0000" />
<rect x="410.8" y="315.1" width="6.68" height="2.7" fill="#DD0000" />
<rect x="386.48" y="320.3" width="5.52" height="2.6" fill="#0000EE" />
<rect x="386.48" y="317.1" width="3.32" height="3" fill="#DD0000" />
<rect x="392.5" y="317.1" width="4.01" height="3" fill="#DD0000" />
<rect x="487.51" y="320.7" width="11.69" height="2.9" fill="#DD0000" />
<rect x="487.51" y="323.6" width="11.69" height="3.6" fill="#0000EE" />
<line x1="289.37" y1="296.5" x2="289.37" y2="326.9" stroke="#5a5a5a" stroke-width="0.75" stroke-dasharray="1 1.7"/>
<line x1="307.68" y1="296.5" x2="307.68" y2="326.9" stroke="#5a5a5a" stroke-width="0.75" stroke-dasharray="1 1.7"/>
<line x1="322.59" y1="296.5" x2="322.59" y2="326.9" stroke="#5a5a5a" stroke-width="0.75" stroke-dasharray="1 1.7"/>
<line x1="336.98" y1="296.5" x2="336.98" y2="326.9" stroke="#5a5a5a" stroke-width="0.75" stroke-dasharray="1 1.7"/>
<line x1="350.6" y1="296.5" x2="350.6" y2="326.9" stroke="#5a5a5a" stroke-width="0.75" stroke-dasharray="1 1.7"/>
<line x1="363.48" y1="296.5" x2="363.48" y2="326.9" stroke="#5a5a5a" stroke-width="0.75" stroke-dasharray="1 1.7"/>
<line x1="375.46" y1="296.5" x2="375.46" y2="326.9" stroke="#5a5a5a" stroke-width="0.75" stroke-dasharray="1 1.7"/>
<line x1="386.48" y1="296.5" x2="386.48" y2="326.9" stroke="#5a5a5a" stroke-width="0.75" stroke-dasharray="1 1.7"/>
<line x1="397.11" y1="296.5" x2="397.11" y2="326.9" stroke="#5a5a5a" stroke-width="0.75" stroke-dasharray="1 1.7"/>
<line x1="407.32" y1="296.5" x2="407.32" y2="326.9" stroke="#5a5a5a" stroke-width="0.75" stroke-dasharray="1 1.7"/>
<line x1="417.48" y1="296.5" x2="417.48" y2="326.9" stroke="#5a5a5a" stroke-width="0.75" stroke-dasharray="1 1.7"/>
<line x1="427.56" y1="296.5" x2="427.56" y2="326.9" stroke="#5a5a5a" stroke-width="0.75" stroke-dasharray="1 1.7"/>
<line x1="436.23" y1="296.5" x2="436.23" y2="326.9" stroke="#5a5a5a" stroke-width="0.75" stroke-dasharray="1 1.7"/>
<line x1="444.32" y1="296.5" x2="444.32" y2="326.9" stroke="#5a5a5a" stroke-width="0.75" stroke-dasharray="1 1.7"/>
<line x1="452.03" y1="296.5" x2="452.03" y2="326.9" stroke="#5a5a5a" stroke-width="0.75" stroke-dasharray="1 1.7"/>
<line x1="458.84" y1="296.5" x2="458.84" y2="326.9" stroke="#5a5a5a" stroke-width="0.75" stroke-dasharray="1 1.7"/>
<line x1="464.95" y1="296.5" x2="464.95" y2="326.9" stroke="#5a5a5a" stroke-width="0.75" stroke-dasharray="1 1.7"/>
<line x1="470.83" y1="296.5" x2="470.83" y2="326.9" stroke="#5a5a5a" stroke-width="0.75" stroke-dasharray="1 1.7"/>
<line x1="475.28" y1="296.5" x2="475.28" y2="326.9" stroke="#5a5a5a" stroke-width="0.75" stroke-dasharray="1 1.7"/>
<line x1="480.02" y1="296.5" x2="480.02" y2="326.9" stroke="#5a5a5a" stroke-width="0.75" stroke-dasharray="1 1.7"/>
<line x1="483.64" y1="296.5" x2="483.64" y2="326.9" stroke="#5a5a5a" stroke-width="0.75" stroke-dasharray="1 1.7"/>
<line x1="487.51" y1="296.5" x2="487.51" y2="326.9" stroke="#5a5a5a" stroke-width="0.75" stroke-dasharray="1 1.7"/>
<line x1="270" y1="294.3" x2="499.8" y2="294.3" stroke="#2a2a2a" stroke-width="1.2" />
<line x1="270.5" y1="294.3" x2="270.5" y2="328.9" stroke="#2a2a2a" stroke-width="1.2" />
<line x1="499.1" y1="294.3" x2="499.1" y2="328.9" stroke="#4a4a4a" stroke-width="1.5" />
<rect x="269.9" y="327.9" width="230" height="1.6" fill="#2e2e2e" />
<line x1="267" y1="326.6" x2="270" y2="326.6" stroke="#1a1a1a" stroke-width="0.95" />
<line x1="267" y1="324.74" x2="270" y2="324.74" stroke="#1a1a1a" stroke-width="0.95" />
<line x1="267" y1="322.89" x2="270" y2="322.89" stroke="#1a1a1a" stroke-width="0.95" />
<line x1="267" y1="321.03" x2="270" y2="321.03" stroke="#1a1a1a" stroke-width="0.95" />
<line x1="267" y1="319.18" x2="270" y2="319.18" stroke="#1a1a1a" stroke-width="0.95" />
<line x1="267" y1="317.32" x2="270" y2="317.32" stroke="#1a1a1a" stroke-width="0.95" />
<line x1="267" y1="315.46" x2="270" y2="315.46" stroke="#1a1a1a" stroke-width="0.95" />
<line x1="267" y1="313.61" x2="270" y2="313.61" stroke="#1a1a1a" stroke-width="0.95" />
<line x1="267" y1="311.75" x2="270" y2="311.75" stroke="#1a1a1a" stroke-width="0.95" />
<line x1="267" y1="309.89" x2="270" y2="309.89" stroke="#1a1a1a" stroke-width="0.95" />
<line x1="267" y1="308.04" x2="270" y2="308.04" stroke="#1a1a1a" stroke-width="0.95" />
<line x1="267" y1="306.18" x2="270" y2="306.18" stroke="#1a1a1a" stroke-width="0.95" />
<line x1="267" y1="304.33" x2="270" y2="304.33" stroke="#1a1a1a" stroke-width="0.95" />
<line x1="267" y1="302.47" x2="270" y2="302.47" stroke="#1a1a1a" stroke-width="0.95" />
<line x1="267" y1="300.61" x2="270" y2="300.61" stroke="#1a1a1a" stroke-width="0.95" />
<line x1="267" y1="298.76" x2="270" y2="298.76" stroke="#1a1a1a" stroke-width="0.95" />
<line x1="267" y1="296.9" x2="270" y2="296.9" stroke="#1a1a1a" stroke-width="0.95" />
<text transform="translate(263.8,327.9) scale(1,0.9)" font-size="4.3" text-anchor="end" font-weight="normal" font-style="normal" fill="#333" stroke="#333" stroke-width="0.12" >0</text>
<text transform="translate(263.8,324.19) scale(1,0.9)" font-size="4.3" text-anchor="end" font-weight="normal" font-style="normal" fill="#333" stroke="#333" stroke-width="0.12" >2</text>
<text transform="translate(263.8,320.48) scale(1,0.9)" font-size="4.3" text-anchor="end" font-weight="normal" font-style="normal" fill="#333" stroke="#333" stroke-width="0.12" >4</text>
<text transform="translate(263.8,316.76) scale(1,0.9)" font-size="4.3" text-anchor="end" font-weight="normal" font-style="normal" fill="#333" stroke="#333" stroke-width="0.12" >6</text>
<text transform="translate(263.8,313.05) scale(1,0.9)" font-size="4.3" text-anchor="end" font-weight="normal" font-style="normal" fill="#333" stroke="#333" stroke-width="0.12" >8</text>
<text transform="translate(263.8,309.34) scale(1,0.9)" font-size="4.3" text-anchor="end" font-weight="normal" font-style="normal" fill="#777" stroke="#777" stroke-width="0.12" >10</text>
<text transform="translate(263.8,305.63) scale(1,0.9)" font-size="4.3" text-anchor="end" font-weight="normal" font-style="normal" fill="#777" stroke="#777" stroke-width="0.12" >12</text>
<text transform="translate(263.8,301.91) scale(1,0.9)" font-size="4.3" text-anchor="end" font-weight="normal" font-style="normal" fill="#777" stroke="#777" stroke-width="0.12" >14</text>
<text transform="translate(263.8,298.2) scale(1,0.9)" font-size="4.3" text-anchor="end" font-weight="normal" font-style="normal" fill="#777" stroke="#777" stroke-width="0.12" >16</text>
<text transform="translate(502.8,312.9) scale(0.8,1)" font-size="5.4" fill="#222">1TB</text>
<rect x="270.6" y="361.55" width="228.6" height="1.1" fill="#A9A9EE" />
<rect x="270.6" y="357.9" width="9" height="3.5" fill="#DD0000" />
<rect x="281.4" y="357.9" width="217.8" height="3.5" fill="#DD0000" />
<rect x="281" y="360.75" width="3.7" height="2.2" fill="#0000EE" />
<rect x="352.5" y="360.75" width="1.3" height="2.2" fill="#0000EE" />
<rect x="368.5" y="360.75" width="1.5" height="2.2" fill="#0000EE" />
<rect x="294.8" y="356.25" width="4.4" height="2.7" fill="#DD0000" />
<rect x="294.8" y="360.25" width="4.4" height="2.7" fill="#0000EE" />
<rect x="310.4" y="356.25" width="2.2" height="2.7" fill="#DD0000" />
<rect x="310.4" y="360.25" width="2.2" height="2.7" fill="#0000EE" />
<rect x="420.8" y="356.25" width="6.7" height="2.5" fill="#DD0000" />
<rect x="420.8" y="358.75" width="6.7" height="3" fill="#0000EE" />
<rect x="437.6" y="356.25" width="6.7" height="2.5" fill="#DD0000" />
<rect x="437.6" y="358.75" width="6.7" height="3" fill="#0000EE" />
<rect x="446.5" y="356.25" width="4.5" height="2.5" fill="#DD0000" />
<rect x="446.5" y="358.75" width="4.5" height="3" fill="#0000EE" />
<rect x="455" y="356.25" width="10" height="2.5" fill="#DD0000" />
<rect x="455" y="358.75" width="10" height="3" fill="#0000EE" />
<rect x="471" y="356.25" width="12" height="2.5" fill="#DD0000" />
<rect x="471" y="358.75" width="12" height="3" fill="#0000EE" />
<rect x="488.51" y="356.25" width="10.69" height="2.5" fill="#DD0000" />
<rect x="488.51" y="358.75" width="10.69" height="3" fill="#0000EE" />
<rect x="388.5" y="359.75" width="3" height="3" fill="#0000EE" />
<rect x="396.5" y="359.75" width="4.5" height="3" fill="#0000EE" />
<rect x="365.2" y="352.25" width="1" height="4.5" fill="#DD0000" />
<rect x="390" y="352.75" width="1" height="4" fill="#DD0000" />
<line x1="289.37" y1="331.95" x2="289.37" y2="362.35" stroke="#5a5a5a" stroke-width="0.75" stroke-dasharray="1 1.7"/>
<line x1="307.68" y1="331.95" x2="307.68" y2="362.35" stroke="#5a5a5a" stroke-width="0.75" stroke-dasharray="1 1.7"/>
<line x1="322.59" y1="331.95" x2="322.59" y2="362.35" stroke="#5a5a5a" stroke-width="0.75" stroke-dasharray="1 1.7"/>
<line x1="336.98" y1="331.95" x2="336.98" y2="362.35" stroke="#5a5a5a" stroke-width="0.75" stroke-dasharray="1 1.7"/>
<line x1="350.6" y1="331.95" x2="350.6" y2="362.35" stroke="#5a5a5a" stroke-width="0.75" stroke-dasharray="1 1.7"/>
<line x1="363.48" y1="331.95" x2="363.48" y2="362.35" stroke="#5a5a5a" stroke-width="0.75" stroke-dasharray="1 1.7"/>
<line x1="375.46" y1="331.95" x2="375.46" y2="362.35" stroke="#5a5a5a" stroke-width="0.75" stroke-dasharray="1 1.7"/>
<line x1="386.48" y1="331.95" x2="386.48" y2="362.35" stroke="#5a5a5a" stroke-width="0.75" stroke-dasharray="1 1.7"/>
<line x1="397.11" y1="331.95" x2="397.11" y2="362.35" stroke="#5a5a5a" stroke-width="0.75" stroke-dasharray="1 1.7"/>
<line x1="407.32" y1="331.95" x2="407.32" y2="362.35" stroke="#5a5a5a" stroke-width="0.75" stroke-dasharray="1 1.7"/>
<line x1="417.48" y1="331.95" x2="417.48" y2="362.35" stroke="#5a5a5a" stroke-width="0.75" stroke-dasharray="1 1.7"/>
<line x1="427.56" y1="331.95" x2="427.56" y2="362.35" stroke="#5a5a5a" stroke-width="0.75" stroke-dasharray="1 1.7"/>
<line x1="436.23" y1="331.95" x2="436.23" y2="362.35" stroke="#5a5a5a" stroke-width="0.75" stroke-dasharray="1 1.7"/>
<line x1="444.32" y1="331.95" x2="444.32" y2="362.35" stroke="#5a5a5a" stroke-width="0.75" stroke-dasharray="1 1.7"/>
<line x1="452.03" y1="331.95" x2="452.03" y2="362.35" stroke="#5a5a5a" stroke-width="0.75" stroke-dasharray="1 1.7"/>
<line x1="458.84" y1="331.95" x2="458.84" y2="362.35" stroke="#5a5a5a" stroke-width="0.75" stroke-dasharray="1 1.7"/>
<line x1="464.95" y1="331.95" x2="464.95" y2="362.35" stroke="#5a5a5a" stroke-width="0.75" stroke-dasharray="1 1.7"/>
<line x1="470.83" y1="331.95" x2="470.83" y2="362.35" stroke="#5a5a5a" stroke-width="0.75" stroke-dasharray="1 1.7"/>
<line x1="475.28" y1="331.95" x2="475.28" y2="362.35" stroke="#5a5a5a" stroke-width="0.75" stroke-dasharray="1 1.7"/>
<line x1="480.02" y1="331.95" x2="480.02" y2="362.35" stroke="#5a5a5a" stroke-width="0.75" stroke-dasharray="1 1.7"/>
<line x1="483.64" y1="331.95" x2="483.64" y2="362.35" stroke="#5a5a5a" stroke-width="0.75" stroke-dasharray="1 1.7"/>
<line x1="487.51" y1="331.95" x2="487.51" y2="362.35" stroke="#5a5a5a" stroke-width="0.75" stroke-dasharray="1 1.7"/>
<line x1="270" y1="329.75" x2="499.8" y2="329.75" stroke="#2a2a2a" stroke-width="1.2" />
<line x1="270.5" y1="329.75" x2="270.5" y2="364.35" stroke="#2a2a2a" stroke-width="1.2" />
<line x1="499.1" y1="329.75" x2="499.1" y2="364.35" stroke="#4a4a4a" stroke-width="1.5" />
<rect x="269.9" y="363.35" width="230" height="1.6" fill="#2e2e2e" />
<line x1="267" y1="362.05" x2="270" y2="362.05" stroke="#1a1a1a" stroke-width="0.95" />
<line x1="267" y1="360.19" x2="270" y2="360.19" stroke="#1a1a1a" stroke-width="0.95" />
<line x1="267" y1="358.34" x2="270" y2="358.34" stroke="#1a1a1a" stroke-width="0.95" />
<line x1="267" y1="356.48" x2="270" y2="356.48" stroke="#1a1a1a" stroke-width="0.95" />
<line x1="267" y1="354.62" x2="270" y2="354.62" stroke="#1a1a1a" stroke-width="0.95" />
<line x1="267" y1="352.77" x2="270" y2="352.77" stroke="#1a1a1a" stroke-width="0.95" />
<line x1="267" y1="350.91" x2="270" y2="350.91" stroke="#1a1a1a" stroke-width="0.95" />
<line x1="267" y1="349.06" x2="270" y2="349.06" stroke="#1a1a1a" stroke-width="0.95" />
<line x1="267" y1="347.2" x2="270" y2="347.2" stroke="#1a1a1a" stroke-width="0.95" />
<line x1="267" y1="345.34" x2="270" y2="345.34" stroke="#1a1a1a" stroke-width="0.95" />
<line x1="267" y1="343.49" x2="270" y2="343.49" stroke="#1a1a1a" stroke-width="0.95" />
<line x1="267" y1="341.63" x2="270" y2="341.63" stroke="#1a1a1a" stroke-width="0.95" />
<line x1="267" y1="339.78" x2="270" y2="339.78" stroke="#1a1a1a" stroke-width="0.95" />
<line x1="267" y1="337.92" x2="270" y2="337.92" stroke="#1a1a1a" stroke-width="0.95" />
<line x1="267" y1="336.06" x2="270" y2="336.06" stroke="#1a1a1a" stroke-width="0.95" />
<line x1="267" y1="334.21" x2="270" y2="334.21" stroke="#1a1a1a" stroke-width="0.95" />
<line x1="267" y1="332.35" x2="270" y2="332.35" stroke="#1a1a1a" stroke-width="0.95" />
<text transform="translate(263.8,363.35) scale(1,0.9)" font-size="4.3" text-anchor="end" font-weight="normal" font-style="normal" fill="#333" stroke="#333" stroke-width="0.12" >0</text>
<text transform="translate(263.8,359.64) scale(1,0.9)" font-size="4.3" text-anchor="end" font-weight="normal" font-style="normal" fill="#333" stroke="#333" stroke-width="0.12" >2</text>
<text transform="translate(263.8,355.93) scale(1,0.9)" font-size="4.3" text-anchor="end" font-weight="normal" font-style="normal" fill="#333" stroke="#333" stroke-width="0.12" >4</text>
<text transform="translate(263.8,352.21) scale(1,0.9)" font-size="4.3" text-anchor="end" font-weight="normal" font-style="normal" fill="#333" stroke="#333" stroke-width="0.12" >6</text>
<text transform="translate(263.8,348.5) scale(1,0.9)" font-size="4.3" text-anchor="end" font-weight="normal" font-style="normal" fill="#333" stroke="#333" stroke-width="0.12" >8</text>
<text transform="translate(263.8,344.79) scale(1,0.9)" font-size="4.3" text-anchor="end" font-weight="normal" font-style="normal" fill="#777" stroke="#777" stroke-width="0.12" >10</text>
<text transform="translate(263.8,341.08) scale(1,0.9)" font-size="4.3" text-anchor="end" font-weight="normal" font-style="normal" fill="#777" stroke="#777" stroke-width="0.12" >12</text>
<text transform="translate(263.8,337.36) scale(1,0.9)" font-size="4.3" text-anchor="end" font-weight="normal" font-style="normal" fill="#777" stroke="#777" stroke-width="0.12" >14</text>
<text transform="translate(263.8,333.65) scale(1,0.9)" font-size="4.3" text-anchor="end" font-weight="normal" font-style="normal" fill="#777" stroke="#777" stroke-width="0.12" >16</text>
<text transform="translate(502.8,348.35) scale(0.8,1)" font-size="5.4" fill="#222">2TB</text>
<rect x="270.6" y="397" width="228.6" height="1.1" fill="#A9A9EE" />
<rect x="270.6" y="392.5" width="8.9" height="2.9" fill="#DD0000" />
<rect x="280.5" y="392.5" width="8.5" height="3.1" fill="#0000EE" />
<rect x="280.5" y="387.3" width="8.5" height="2.9" fill="#DD0000" />
<rect x="281.5" y="385.5" width="0.7" height="1.8" fill="#DD0000" />
<rect x="283.5" y="386" width="0.6" height="1.3" fill="#DD0000" />
<rect x="289" y="393.2" width="18" height="2.8" fill="#0000EE" />
<rect x="289" y="390.8" width="18" height="2.6" fill="#DD0000" />
<rect x="307" y="390.7" width="6.8" height="3.3" fill="#0000EE" />
<rect x="307" y="387.3" width="6.8" height="2.9" fill="#DD0000" />
<rect x="313.8" y="391" width="6.7" height="3.5" fill="#0000EE" />
<rect x="313.8" y="387.5" width="6.7" height="2.7" fill="#DD0000" />
<rect x="316" y="394" width="2" height="2.5" fill="#0000EE" />
<rect x="320.5" y="393.5" width="1.7" height="4.8" fill="#0000EE" />
<rect x="322.7" y="392.5" width="13.3" height="2.9" fill="#DD0000" />
<rect x="336" y="392.5" width="9" height="3.1" fill="#0000EE" />
<rect x="336" y="387.3" width="9" height="2.9" fill="#DD0000" />
<rect x="345" y="392.5" width="7.8" height="3.1" fill="#0000EE" />
<rect x="345" y="387" width="7.8" height="2.9" fill="#DD0000" />
<rect x="348" y="385" width="1" height="2.3" fill="#DD0000" />
<rect x="352.8" y="392.9" width="10.2" height="4.3" fill="#0000EE" />
<rect x="352.8" y="389.5" width="10.2" height="2.7" fill="#DD0000" />
<rect x="363" y="392.5" width="12" height="2.9" fill="#DD0000" />
<rect x="375.5" y="391.5" width="8.5" height="3" fill="#0000EE" />
<rect x="375.5" y="387.3" width="8.5" height="2.9" fill="#DD0000" />
<rect x="384" y="391.5" width="11" height="4.5" fill="#0000EE" />
<rect x="384" y="388" width="4" height="2.5" fill="#DD0000" />
<rect x="388" y="389.5" width="7" height="2.3" fill="#DD0000" />
<rect x="395" y="393.6" width="50" height="3" fill="#0000EE" />
<rect x="395" y="391.6" width="50" height="2.2" fill="#DD0000" />
<rect x="445" y="391.5" width="10" height="3.5" fill="#0000EE" />
<rect x="445" y="387.5" width="10" height="3.1" fill="#DD0000" />
<rect x="455" y="392.8" width="20" height="3.4" fill="#0000EE" />
<rect x="455" y="389.8" width="20" height="2.8" fill="#DD0000" />
<rect x="475" y="391.5" width="15" height="3.5" fill="#0000EE" />
<rect x="475" y="388" width="15" height="3" fill="#DD0000" />
<rect x="490" y="393.2" width="9.2" height="3.2" fill="#0000EE" />
<rect x="490" y="391.6" width="9.2" height="2.4" fill="#DD0000" />
<rect x="473.5" y="367.5" width="0.7" height="4.5" fill="#DD0000" />
<rect x="388.5" y="385.5" width="0.7" height="2.5" fill="#DD0000" />
<line x1="289.37" y1="367.4" x2="289.37" y2="397.8" stroke="#5a5a5a" stroke-width="0.75" stroke-dasharray="1 1.7"/>
<line x1="307.68" y1="367.4" x2="307.68" y2="397.8" stroke="#5a5a5a" stroke-width="0.75" stroke-dasharray="1 1.7"/>
<line x1="322.59" y1="367.4" x2="322.59" y2="397.8" stroke="#5a5a5a" stroke-width="0.75" stroke-dasharray="1 1.7"/>
<line x1="336.98" y1="367.4" x2="336.98" y2="397.8" stroke="#5a5a5a" stroke-width="0.75" stroke-dasharray="1 1.7"/>
<line x1="350.6" y1="367.4" x2="350.6" y2="397.8" stroke="#5a5a5a" stroke-width="0.75" stroke-dasharray="1 1.7"/>
<line x1="363.48" y1="367.4" x2="363.48" y2="397.8" stroke="#5a5a5a" stroke-width="0.75" stroke-dasharray="1 1.7"/>
<line x1="375.46" y1="367.4" x2="375.46" y2="397.8" stroke="#5a5a5a" stroke-width="0.75" stroke-dasharray="1 1.7"/>
<line x1="386.48" y1="367.4" x2="386.48" y2="397.8" stroke="#5a5a5a" stroke-width="0.75" stroke-dasharray="1 1.7"/>
<line x1="397.11" y1="367.4" x2="397.11" y2="397.8" stroke="#5a5a5a" stroke-width="0.75" stroke-dasharray="1 1.7"/>
<line x1="407.32" y1="367.4" x2="407.32" y2="397.8" stroke="#5a5a5a" stroke-width="0.75" stroke-dasharray="1 1.7"/>
<line x1="417.48" y1="367.4" x2="417.48" y2="397.8" stroke="#5a5a5a" stroke-width="0.75" stroke-dasharray="1 1.7"/>
<line x1="427.56" y1="367.4" x2="427.56" y2="397.8" stroke="#5a5a5a" stroke-width="0.75" stroke-dasharray="1 1.7"/>
<line x1="436.23" y1="367.4" x2="436.23" y2="397.8" stroke="#5a5a5a" stroke-width="0.75" stroke-dasharray="1 1.7"/>
<line x1="444.32" y1="367.4" x2="444.32" y2="397.8" stroke="#5a5a5a" stroke-width="0.75" stroke-dasharray="1 1.7"/>
<line x1="452.03" y1="367.4" x2="452.03" y2="397.8" stroke="#5a5a5a" stroke-width="0.75" stroke-dasharray="1 1.7"/>
<line x1="458.84" y1="367.4" x2="458.84" y2="397.8" stroke="#5a5a5a" stroke-width="0.75" stroke-dasharray="1 1.7"/>
<line x1="464.95" y1="367.4" x2="464.95" y2="397.8" stroke="#5a5a5a" stroke-width="0.75" stroke-dasharray="1 1.7"/>
<line x1="470.83" y1="367.4" x2="470.83" y2="397.8" stroke="#5a5a5a" stroke-width="0.75" stroke-dasharray="1 1.7"/>
<line x1="475.28" y1="367.4" x2="475.28" y2="397.8" stroke="#5a5a5a" stroke-width="0.75" stroke-dasharray="1 1.7"/>
<line x1="480.02" y1="367.4" x2="480.02" y2="397.8" stroke="#5a5a5a" stroke-width="0.75" stroke-dasharray="1 1.7"/>
<line x1="483.64" y1="367.4" x2="483.64" y2="397.8" stroke="#5a5a5a" stroke-width="0.75" stroke-dasharray="1 1.7"/>
<line x1="487.51" y1="367.4" x2="487.51" y2="397.8" stroke="#5a5a5a" stroke-width="0.75" stroke-dasharray="1 1.7"/>
<line x1="270" y1="365.2" x2="499.8" y2="365.2" stroke="#2a2a2a" stroke-width="1.2" />
<line x1="270.5" y1="365.2" x2="270.5" y2="399.8" stroke="#2a2a2a" stroke-width="1.2" />
<line x1="499.1" y1="365.2" x2="499.1" y2="399.8" stroke="#4a4a4a" stroke-width="1.5" />
<rect x="269.9" y="398.8" width="230" height="1.6" fill="#2e2e2e" />
<rect x="267" y="366.8" width="3" height="31.2" fill="#444" />
<text transform="translate(263.8,398.8) scale(1,0.9)" font-size="4.3" text-anchor="end" font-weight="normal" font-style="normal" fill="#333" stroke="#333" stroke-width="0.12" >0</text>
<text transform="translate(263.8,396.52) scale(1,0.9)" font-size="4.3" text-anchor="end" font-weight="normal" font-style="normal" fill="#333" stroke="#333" stroke-width="0.12" >2</text>
<text transform="translate(263.8,394.23) scale(1,0.9)" font-size="4.3" text-anchor="end" font-weight="normal" font-style="normal" fill="#333" stroke="#333" stroke-width="0.12" >4</text>
<text transform="translate(263.8,391.95) scale(1,0.9)" font-size="4.3" text-anchor="end" font-weight="normal" font-style="normal" fill="#333" stroke="#333" stroke-width="0.12" >6</text>
<text transform="translate(263.8,389.66) scale(1,0.9)" font-size="4.3" text-anchor="end" font-weight="normal" font-style="normal" fill="#333" stroke="#333" stroke-width="0.12" >8</text>
<text transform="translate(263.8,387.38) scale(1,0.9)" font-size="4.3" text-anchor="end" font-weight="normal" font-style="normal" fill="#777" stroke="#777" stroke-width="0.12" >10</text>
<text transform="translate(263.8,385.09) scale(1,0.9)" font-size="4.3" text-anchor="end" font-weight="normal" font-style="normal" fill="#777" stroke="#777" stroke-width="0.12" >12</text>
<text transform="translate(263.8,382.81) scale(1,0.9)" font-size="4.3" text-anchor="end" font-weight="normal" font-style="normal" fill="#777" stroke="#777" stroke-width="0.12" >14</text>
<text transform="translate(263.8,380.52) scale(1,0.9)" font-size="4.3" text-anchor="end" font-weight="normal" font-style="normal" fill="#777" stroke="#777" stroke-width="0.12" >16</text>
<text transform="translate(263.8,378.24) scale(1,0.9)" font-size="4.3" text-anchor="end" font-weight="normal" font-style="normal" fill="#777" stroke="#777" stroke-width="0.12" >18</text>
<text transform="translate(263.8,375.95) scale(1,0.9)" font-size="4.3" text-anchor="end" font-weight="normal" font-style="normal" fill="#777" stroke="#777" stroke-width="0.12" >20</text>
<text transform="translate(263.8,373.67) scale(1,0.9)" font-size="4.3" text-anchor="end" font-weight="normal" font-style="normal" fill="#777" stroke="#777" stroke-width="0.12" >22</text>
<text transform="translate(263.8,371.38) scale(1,0.9)" font-size="4.3" text-anchor="end" font-weight="normal" font-style="normal" fill="#777" stroke="#777" stroke-width="0.12" >24</text>
<text transform="translate(263.8,369.1) scale(1,0.9)" font-size="4.3" text-anchor="end" font-weight="normal" font-style="normal" fill="#777" stroke="#777" stroke-width="0.12" >26</text>
<text transform="translate(502.8,383.8) scale(0.8,1)" font-size="5.4" fill="#222">3TB</text>
<rect x="270.6" y="432.45" width="228.6" height="1.1" fill="#A9A9EE" />
<rect x="270.6" y="429.8" width="9" height="3.5" fill="#DD0000" />
<rect x="281.4" y="429.8" width="217.8" height="3.5" fill="#DD0000" />
<rect x="295.9" y="427.65" width="2.2" height="2" fill="#DD0000" />
<rect x="295.9" y="431.65" width="2.2" height="2" fill="#0000EE" />
<rect x="311" y="431.65" width="1.5" height="2" fill="#0000EE" />
<rect x="446.5" y="431.65" width="4.5" height="2" fill="#0000EE" />
<rect x="457.7" y="431.65" width="3.3" height="2" fill="#0000EE" />
<rect x="470" y="431.65" width="2" height="2" fill="#0000EE" />
<rect x="476" y="431.65" width="2" height="2" fill="#0000EE" />
<rect x="485.6" y="427.85" width="13.6" height="2.8" fill="#DD0000" />
<rect x="485.6" y="430.65" width="13.6" height="2.8" fill="#0000EE" />
<line x1="289.37" y1="402.85" x2="289.37" y2="433.25" stroke="#5a5a5a" stroke-width="0.75" stroke-dasharray="1 1.7"/>
<line x1="307.68" y1="402.85" x2="307.68" y2="433.25" stroke="#5a5a5a" stroke-width="0.75" stroke-dasharray="1 1.7"/>
<line x1="322.59" y1="402.85" x2="322.59" y2="433.25" stroke="#5a5a5a" stroke-width="0.75" stroke-dasharray="1 1.7"/>
<line x1="336.98" y1="402.85" x2="336.98" y2="433.25" stroke="#5a5a5a" stroke-width="0.75" stroke-dasharray="1 1.7"/>
<line x1="350.6" y1="402.85" x2="350.6" y2="433.25" stroke="#5a5a5a" stroke-width="0.75" stroke-dasharray="1 1.7"/>
<line x1="363.48" y1="402.85" x2="363.48" y2="433.25" stroke="#5a5a5a" stroke-width="0.75" stroke-dasharray="1 1.7"/>
<line x1="375.46" y1="402.85" x2="375.46" y2="433.25" stroke="#5a5a5a" stroke-width="0.75" stroke-dasharray="1 1.7"/>
<line x1="386.48" y1="402.85" x2="386.48" y2="433.25" stroke="#5a5a5a" stroke-width="0.75" stroke-dasharray="1 1.7"/>
<line x1="397.11" y1="402.85" x2="397.11" y2="433.25" stroke="#5a5a5a" stroke-width="0.75" stroke-dasharray="1 1.7"/>
<line x1="407.32" y1="402.85" x2="407.32" y2="433.25" stroke="#5a5a5a" stroke-width="0.75" stroke-dasharray="1 1.7"/>
<line x1="417.48" y1="402.85" x2="417.48" y2="433.25" stroke="#5a5a5a" stroke-width="0.75" stroke-dasharray="1 1.7"/>
<line x1="427.56" y1="402.85" x2="427.56" y2="433.25" stroke="#5a5a5a" stroke-width="0.75" stroke-dasharray="1 1.7"/>
<line x1="436.23" y1="402.85" x2="436.23" y2="433.25" stroke="#5a5a5a" stroke-width="0.75" stroke-dasharray="1 1.7"/>
<line x1="444.32" y1="402.85" x2="444.32" y2="433.25" stroke="#5a5a5a" stroke-width="0.75" stroke-dasharray="1 1.7"/>
<line x1="452.03" y1="402.85" x2="452.03" y2="433.25" stroke="#5a5a5a" stroke-width="0.75" stroke-dasharray="1 1.7"/>
<line x1="458.84" y1="402.85" x2="458.84" y2="433.25" stroke="#5a5a5a" stroke-width="0.75" stroke-dasharray="1 1.7"/>
<line x1="464.95" y1="402.85" x2="464.95" y2="433.25" stroke="#5a5a5a" stroke-width="0.75" stroke-dasharray="1 1.7"/>
<line x1="470.83" y1="402.85" x2="470.83" y2="433.25" stroke="#5a5a5a" stroke-width="0.75" stroke-dasharray="1 1.7"/>
<line x1="475.28" y1="402.85" x2="475.28" y2="433.25" stroke="#5a5a5a" stroke-width="0.75" stroke-dasharray="1 1.7"/>
<line x1="480.02" y1="402.85" x2="480.02" y2="433.25" stroke="#5a5a5a" stroke-width="0.75" stroke-dasharray="1 1.7"/>
<line x1="483.64" y1="402.85" x2="483.64" y2="433.25" stroke="#5a5a5a" stroke-width="0.75" stroke-dasharray="1 1.7"/>
<line x1="487.51" y1="402.85" x2="487.51" y2="433.25" stroke="#5a5a5a" stroke-width="0.75" stroke-dasharray="1 1.7"/>
<line x1="270" y1="400.65" x2="499.8" y2="400.65" stroke="#2a2a2a" stroke-width="1.2" />
<line x1="270.5" y1="400.65" x2="270.5" y2="435.25" stroke="#2a2a2a" stroke-width="1.2" />
<line x1="499.1" y1="400.65" x2="499.1" y2="435.25" stroke="#4a4a4a" stroke-width="1.5" />
<rect x="269.9" y="434.25" width="230" height="1.6" fill="#2e2e2e" />
<rect x="267" y="402.25" width="3" height="31.2" fill="#444" />
<text transform="translate(263.8,434.25) scale(1,0.9)" font-size="4.3" text-anchor="end" font-weight="normal" font-style="normal" fill="#333" stroke="#333" stroke-width="0.12" >0</text>
<text transform="translate(263.8,431.78) scale(1,0.9)" font-size="4.3" text-anchor="end" font-weight="normal" font-style="normal" fill="#333" stroke="#333" stroke-width="0.12" >2</text>
<text transform="translate(263.8,429.3) scale(1,0.9)" font-size="4.3" text-anchor="end" font-weight="normal" font-style="normal" fill="#333" stroke="#333" stroke-width="0.12" >4</text>
<text transform="translate(263.8,426.83) scale(1,0.9)" font-size="4.3" text-anchor="end" font-weight="normal" font-style="normal" fill="#333" stroke="#333" stroke-width="0.12" >6</text>
<text transform="translate(263.8,424.35) scale(1,0.9)" font-size="4.3" text-anchor="end" font-weight="normal" font-style="normal" fill="#333" stroke="#333" stroke-width="0.12" >8</text>
<text transform="translate(263.8,421.88) scale(1,0.9)" font-size="4.3" text-anchor="end" font-weight="normal" font-style="normal" fill="#777" stroke="#777" stroke-width="0.12" >10</text>
<text transform="translate(263.8,419.4) scale(1,0.9)" font-size="4.3" text-anchor="end" font-weight="normal" font-style="normal" fill="#777" stroke="#777" stroke-width="0.12" >12</text>
<text transform="translate(263.8,416.93) scale(1,0.9)" font-size="4.3" text-anchor="end" font-weight="normal" font-style="normal" fill="#777" stroke="#777" stroke-width="0.12" >14</text>
<text transform="translate(263.8,414.45) scale(1,0.9)" font-size="4.3" text-anchor="end" font-weight="normal" font-style="normal" fill="#777" stroke="#777" stroke-width="0.12" >16</text>
<text transform="translate(263.8,411.98) scale(1,0.9)" font-size="4.3" text-anchor="end" font-weight="normal" font-style="normal" fill="#777" stroke="#777" stroke-width="0.12" >18</text>
<text transform="translate(263.8,409.5) scale(1,0.9)" font-size="4.3" text-anchor="end" font-weight="normal" font-style="normal" fill="#777" stroke="#777" stroke-width="0.12" >20</text>
<text transform="translate(263.8,407.03) scale(1,0.9)" font-size="4.3" text-anchor="end" font-weight="normal" font-style="normal" fill="#777" stroke="#777" stroke-width="0.12" >22</text>
<text transform="translate(263.8,404.55) scale(1,0.9)" font-size="4.3" text-anchor="end" font-weight="normal" font-style="normal" fill="#777" stroke="#777" stroke-width="0.12" >24</text>
<text transform="translate(502.8,419.25) scale(0.8,1)" font-size="5.4" fill="#222">4TB</text>
<rect x="270.6" y="464.1" width="228.6" height="1.5" fill="#0000EE" />
<rect x="270.6" y="461.1" width="8.1" height="3.4" fill="#DD0000" />
<rect x="281" y="461.1" width="164" height="3.4" fill="#DD0000" />
<rect x="452" y="461.1" width="47.2" height="3.4" fill="#DD0000" />
<rect x="307.68" y="462" width="14.91" height="2.9" fill="#0000EE" />
<rect x="307.68" y="451.1" width="14.91" height="2.7" fill="#DD0000" />
<rect x="336.98" y="462" width="13.62" height="2.9" fill="#0000EE" />
<rect x="336.98" y="451.1" width="13.62" height="2.7" fill="#DD0000" />
<rect x="407.32" y="462" width="10.16" height="2.9" fill="#0000EE" />
<rect x="407.32" y="451.1" width="10.16" height="2.7" fill="#DD0000" />
<rect x="470.83" y="462" width="4.45" height="2.9" fill="#0000EE" />
<rect x="470.83" y="451.1" width="4.45" height="2.7" fill="#DD0000" />
<rect x="493.51" y="462" width="5.69" height="2.9" fill="#0000EE" />
<rect x="493.51" y="451.1" width="5.69" height="2.7" fill="#DD0000" />
<rect x="481" y="462" width="2.3" height="2.9" fill="#0000EE" />
<rect x="481" y="451.1" width="2.3" height="2.7" fill="#DD0000" />
<rect x="386.48" y="462" width="10.63" height="2.9" fill="#0000EE" />
<rect x="386.48" y="451.1" width="3.02" height="2.7" fill="#DD0000" />
<rect x="391.8" y="451.1" width="5.31" height="2.7" fill="#DD0000" />
<rect x="428.6" y="466.7" width="7.9" height="2.4" fill="#0000EE" />
<rect x="474.4" y="466.7" width="4.5" height="2.4" fill="#0000EE" />
<rect x="446" y="451.1" width="6" height="3.8" fill="#DD0000" />
<rect x="446" y="457.1" width="3" height="3" fill="#0000EE" />
<rect x="446" y="446.1" width="0.8" height="3" fill="#DD0000" />
<rect x="481" y="451.1" width="2.3" height="2.7" fill="#DD0000" />
<rect x="295" y="447.1" width="0.8" height="3.5" fill="#DD0000" />
<line x1="289.37" y1="438.3" x2="289.37" y2="468.7" stroke="#5a5a5a" stroke-width="0.75" stroke-dasharray="1 1.7"/>
<line x1="307.68" y1="438.3" x2="307.68" y2="468.7" stroke="#5a5a5a" stroke-width="0.75" stroke-dasharray="1 1.7"/>
<line x1="322.59" y1="438.3" x2="322.59" y2="468.7" stroke="#5a5a5a" stroke-width="0.75" stroke-dasharray="1 1.7"/>
<line x1="336.98" y1="438.3" x2="336.98" y2="468.7" stroke="#5a5a5a" stroke-width="0.75" stroke-dasharray="1 1.7"/>
<line x1="350.6" y1="438.3" x2="350.6" y2="468.7" stroke="#5a5a5a" stroke-width="0.75" stroke-dasharray="1 1.7"/>
<line x1="363.48" y1="438.3" x2="363.48" y2="468.7" stroke="#5a5a5a" stroke-width="0.75" stroke-dasharray="1 1.7"/>
<line x1="375.46" y1="438.3" x2="375.46" y2="468.7" stroke="#5a5a5a" stroke-width="0.75" stroke-dasharray="1 1.7"/>
<line x1="386.48" y1="438.3" x2="386.48" y2="468.7" stroke="#5a5a5a" stroke-width="0.75" stroke-dasharray="1 1.7"/>
<line x1="397.11" y1="438.3" x2="397.11" y2="468.7" stroke="#5a5a5a" stroke-width="0.75" stroke-dasharray="1 1.7"/>
<line x1="407.32" y1="438.3" x2="407.32" y2="468.7" stroke="#5a5a5a" stroke-width="0.75" stroke-dasharray="1 1.7"/>
<line x1="417.48" y1="438.3" x2="417.48" y2="468.7" stroke="#5a5a5a" stroke-width="0.75" stroke-dasharray="1 1.7"/>
<line x1="427.56" y1="438.3" x2="427.56" y2="468.7" stroke="#5a5a5a" stroke-width="0.75" stroke-dasharray="1 1.7"/>
<line x1="436.23" y1="438.3" x2="436.23" y2="468.7" stroke="#5a5a5a" stroke-width="0.75" stroke-dasharray="1 1.7"/>
<line x1="444.32" y1="438.3" x2="444.32" y2="468.7" stroke="#5a5a5a" stroke-width="0.75" stroke-dasharray="1 1.7"/>
<line x1="452.03" y1="438.3" x2="452.03" y2="468.7" stroke="#5a5a5a" stroke-width="0.75" stroke-dasharray="1 1.7"/>
<line x1="458.84" y1="438.3" x2="458.84" y2="468.7" stroke="#5a5a5a" stroke-width="0.75" stroke-dasharray="1 1.7"/>
<line x1="464.95" y1="438.3" x2="464.95" y2="468.7" stroke="#5a5a5a" stroke-width="0.75" stroke-dasharray="1 1.7"/>
<line x1="470.83" y1="438.3" x2="470.83" y2="468.7" stroke="#5a5a5a" stroke-width="0.75" stroke-dasharray="1 1.7"/>
<line x1="475.28" y1="438.3" x2="475.28" y2="468.7" stroke="#5a5a5a" stroke-width="0.75" stroke-dasharray="1 1.7"/>
<line x1="480.02" y1="438.3" x2="480.02" y2="468.7" stroke="#5a5a5a" stroke-width="0.75" stroke-dasharray="1 1.7"/>
<line x1="483.64" y1="438.3" x2="483.64" y2="468.7" stroke="#5a5a5a" stroke-width="0.75" stroke-dasharray="1 1.7"/>
<line x1="487.51" y1="438.3" x2="487.51" y2="468.7" stroke="#5a5a5a" stroke-width="0.75" stroke-dasharray="1 1.7"/>
<line x1="270" y1="436.1" x2="499.8" y2="436.1" stroke="#2a2a2a" stroke-width="1.2" />
<line x1="270.5" y1="436.1" x2="270.5" y2="470.7" stroke="#2a2a2a" stroke-width="1.2" />
<line x1="499.1" y1="436.1" x2="499.1" y2="470.7" stroke="#4a4a4a" stroke-width="1.5" />
<rect x="269.9" y="469.7" width="230" height="1.6" fill="#2e2e2e" />
<line x1="267" y1="468.4" x2="270" y2="468.4" stroke="#1a1a1a" stroke-width="0.95" />
<line x1="267" y1="463.45" x2="270" y2="463.45" stroke="#1a1a1a" stroke-width="0.95" />
<line x1="267" y1="458.5" x2="270" y2="458.5" stroke="#1a1a1a" stroke-width="0.95" />
<line x1="267" y1="453.55" x2="270" y2="453.55" stroke="#1a1a1a" stroke-width="0.95" />
<line x1="267" y1="448.6" x2="270" y2="448.6" stroke="#1a1a1a" stroke-width="0.95" />
<line x1="267" y1="443.65" x2="270" y2="443.65" stroke="#1a1a1a" stroke-width="0.95" />
<line x1="267" y1="438.7" x2="270" y2="438.7" stroke="#1a1a1a" stroke-width="0.95" />
<text transform="translate(263.8,469.7) scale(1,0.9)" font-size="4.3" text-anchor="end" font-weight="normal" font-style="normal" fill="#333" stroke="#333" stroke-width="0.12" >0</text>
<text transform="translate(263.8,464.75) scale(1,0.9)" font-size="4.3" text-anchor="end" font-weight="normal" font-style="normal" fill="#333" stroke="#333" stroke-width="0.12" >1</text>
<text transform="translate(263.8,459.8) scale(1,0.9)" font-size="4.3" text-anchor="end" font-weight="normal" font-style="normal" fill="#333" stroke="#333" stroke-width="0.12" >2</text>
<text transform="translate(263.8,454.85) scale(1,0.9)" font-size="4.3" text-anchor="end" font-weight="normal" font-style="normal" fill="#333" stroke="#333" stroke-width="0.12" >3</text>
<text transform="translate(263.8,449.9) scale(1,0.9)" font-size="4.3" text-anchor="end" font-weight="normal" font-style="normal" fill="#333" stroke="#333" stroke-width="0.12" >4</text>
<text transform="translate(263.8,444.95) scale(1,0.9)" font-size="4.3" text-anchor="end" font-weight="normal" font-style="normal" fill="#333" stroke="#333" stroke-width="0.12" >5</text>
<text transform="translate(263.8,440) scale(1,0.9)" font-size="4.3" text-anchor="end" font-weight="normal" font-style="normal" fill="#333" stroke="#333" stroke-width="0.12" >6</text>
<text transform="translate(502.8,454.7) scale(0.8,1)" font-size="5.4" fill="#222">5TB</text>
<rect x="270.6" y="503.35" width="228.6" height="1.1" fill="#A9A9EE" />
<rect x="270.6" y="503.05" width="173.9" height="1.7" fill="#0000EE" />
<rect x="452" y="503.05" width="47.2" height="1.7" fill="#0000EE" />
<rect x="270.6" y="499.9" width="9" height="3.4" fill="#DD0000" />
<rect x="281.4" y="499.9" width="163.1" height="3.4" fill="#DD0000" />
<rect x="452" y="499.9" width="47.2" height="3.4" fill="#DD0000" />
<rect x="294.8" y="497.55" width="3.3" height="2.3" fill="#DD0000" />
<rect x="294.8" y="502.55" width="3.3" height="2.3" fill="#0000EE" />
<rect x="307.68" y="499.9" width="6.12" height="3.4" fill="#0000EE" />
<rect x="307.68" y="496.1" width="6.12" height="2.7" fill="#DD0000" />
<rect x="322.59" y="499.9" width="14.39" height="3.4" fill="#0000EE" />
<rect x="322.59" y="496.1" width="14.39" height="2.7" fill="#DD0000" />
<rect x="363.48" y="499.9" width="11.98" height="3.4" fill="#0000EE" />
<rect x="363.48" y="496.1" width="11.98" height="2.7" fill="#DD0000" />
<rect x="407.32" y="499.9" width="10.16" height="3.4" fill="#0000EE" />
<rect x="407.32" y="496.1" width="10.16" height="2.7" fill="#DD0000" />
<rect x="386.48" y="499.9" width="3.32" height="3.4" fill="#0000EE" />
<rect x="386.48" y="496.1" width="3.32" height="2.7" fill="#DD0000" />
<rect x="392" y="499.9" width="5.11" height="3.4" fill="#0000EE" />
<rect x="392" y="496.1" width="5.11" height="2.7" fill="#DD0000" />
<rect x="313.8" y="498.15" width="7.8" height="2.9" fill="#DD0000" />
<rect x="444.5" y="494.55" width="7.5" height="3" fill="#DD0000" />
<rect x="444.5" y="497.55" width="7.5" height="3.4" fill="#0000EE" />
<rect x="453" y="498.15" width="12" height="2.9" fill="#DD0000" />
<rect x="453" y="501.05" width="12" height="2.9" fill="#0000EE" />
<rect x="471" y="494.05" width="4.5" height="2.7" fill="#DD0000" />
<rect x="471" y="499.9" width="4.5" height="3.4" fill="#0000EE" />
<rect x="488" y="498.15" width="11.2" height="2.9" fill="#DD0000" />
<rect x="488" y="501.05" width="11.2" height="3.3" fill="#0000EE" />
<line x1="289.37" y1="473.75" x2="289.37" y2="504.15" stroke="#5a5a5a" stroke-width="0.75" stroke-dasharray="1 1.7"/>
<line x1="307.68" y1="473.75" x2="307.68" y2="504.15" stroke="#5a5a5a" stroke-width="0.75" stroke-dasharray="1 1.7"/>
<line x1="322.59" y1="473.75" x2="322.59" y2="504.15" stroke="#5a5a5a" stroke-width="0.75" stroke-dasharray="1 1.7"/>
<line x1="336.98" y1="473.75" x2="336.98" y2="504.15" stroke="#5a5a5a" stroke-width="0.75" stroke-dasharray="1 1.7"/>
<line x1="350.6" y1="473.75" x2="350.6" y2="504.15" stroke="#5a5a5a" stroke-width="0.75" stroke-dasharray="1 1.7"/>
<line x1="363.48" y1="473.75" x2="363.48" y2="504.15" stroke="#5a5a5a" stroke-width="0.75" stroke-dasharray="1 1.7"/>
<line x1="375.46" y1="473.75" x2="375.46" y2="504.15" stroke="#5a5a5a" stroke-width="0.75" stroke-dasharray="1 1.7"/>
<line x1="386.48" y1="473.75" x2="386.48" y2="504.15" stroke="#5a5a5a" stroke-width="0.75" stroke-dasharray="1 1.7"/>
<line x1="397.11" y1="473.75" x2="397.11" y2="504.15" stroke="#5a5a5a" stroke-width="0.75" stroke-dasharray="1 1.7"/>
<line x1="407.32" y1="473.75" x2="407.32" y2="504.15" stroke="#5a5a5a" stroke-width="0.75" stroke-dasharray="1 1.7"/>
<line x1="417.48" y1="473.75" x2="417.48" y2="504.15" stroke="#5a5a5a" stroke-width="0.75" stroke-dasharray="1 1.7"/>
<line x1="427.56" y1="473.75" x2="427.56" y2="504.15" stroke="#5a5a5a" stroke-width="0.75" stroke-dasharray="1 1.7"/>
<line x1="436.23" y1="473.75" x2="436.23" y2="504.15" stroke="#5a5a5a" stroke-width="0.75" stroke-dasharray="1 1.7"/>
<line x1="444.32" y1="473.75" x2="444.32" y2="504.15" stroke="#5a5a5a" stroke-width="0.75" stroke-dasharray="1 1.7"/>
<line x1="452.03" y1="473.75" x2="452.03" y2="504.15" stroke="#5a5a5a" stroke-width="0.75" stroke-dasharray="1 1.7"/>
<line x1="458.84" y1="473.75" x2="458.84" y2="504.15" stroke="#5a5a5a" stroke-width="0.75" stroke-dasharray="1 1.7"/>
<line x1="464.95" y1="473.75" x2="464.95" y2="504.15" stroke="#5a5a5a" stroke-width="0.75" stroke-dasharray="1 1.7"/>
<line x1="470.83" y1="473.75" x2="470.83" y2="504.15" stroke="#5a5a5a" stroke-width="0.75" stroke-dasharray="1 1.7"/>
<line x1="475.28" y1="473.75" x2="475.28" y2="504.15" stroke="#5a5a5a" stroke-width="0.75" stroke-dasharray="1 1.7"/>
<line x1="480.02" y1="473.75" x2="480.02" y2="504.15" stroke="#5a5a5a" stroke-width="0.75" stroke-dasharray="1 1.7"/>
<line x1="483.64" y1="473.75" x2="483.64" y2="504.15" stroke="#5a5a5a" stroke-width="0.75" stroke-dasharray="1 1.7"/>
<line x1="487.51" y1="473.75" x2="487.51" y2="504.15" stroke="#5a5a5a" stroke-width="0.75" stroke-dasharray="1 1.7"/>
<line x1="270" y1="471.55" x2="499.8" y2="471.55" stroke="#2a2a2a" stroke-width="1.2" />
<line x1="270.5" y1="471.55" x2="270.5" y2="506.15" stroke="#2a2a2a" stroke-width="1.2" />
<line x1="499.1" y1="471.55" x2="499.1" y2="506.15" stroke="#4a4a4a" stroke-width="1.5" />
<rect x="269.9" y="505.15" width="230" height="1.6" fill="#2e2e2e" />
<line x1="267" y1="503.85" x2="270" y2="503.85" stroke="#1a1a1a" stroke-width="0.95" />
<line x1="267" y1="501.73" x2="270" y2="501.73" stroke="#1a1a1a" stroke-width="0.95" />
<line x1="267" y1="499.61" x2="270" y2="499.61" stroke="#1a1a1a" stroke-width="0.95" />
<line x1="267" y1="497.49" x2="270" y2="497.49" stroke="#1a1a1a" stroke-width="0.95" />
<line x1="267" y1="495.36" x2="270" y2="495.36" stroke="#1a1a1a" stroke-width="0.95" />
<line x1="267" y1="493.24" x2="270" y2="493.24" stroke="#1a1a1a" stroke-width="0.95" />
<line x1="267" y1="491.12" x2="270" y2="491.12" stroke="#1a1a1a" stroke-width="0.95" />
<line x1="267" y1="489" x2="270" y2="489" stroke="#1a1a1a" stroke-width="0.95" />
<line x1="267" y1="486.88" x2="270" y2="486.88" stroke="#1a1a1a" stroke-width="0.95" />
<line x1="267" y1="484.76" x2="270" y2="484.76" stroke="#1a1a1a" stroke-width="0.95" />
<line x1="267" y1="482.64" x2="270" y2="482.64" stroke="#1a1a1a" stroke-width="0.95" />
<line x1="267" y1="480.51" x2="270" y2="480.51" stroke="#1a1a1a" stroke-width="0.95" />
<line x1="267" y1="478.39" x2="270" y2="478.39" stroke="#1a1a1a" stroke-width="0.95" />
<line x1="267" y1="476.27" x2="270" y2="476.27" stroke="#1a1a1a" stroke-width="0.95" />
<line x1="267" y1="474.15" x2="270" y2="474.15" stroke="#1a1a1a" stroke-width="0.95" />
<text transform="translate(263.8,505.15) scale(1,0.9)" font-size="4.3" text-anchor="end" font-weight="normal" font-style="normal" fill="#333" stroke="#333" stroke-width="0.12" >0</text>
<text transform="translate(263.8,500.91) scale(1,0.9)" font-size="4.3" text-anchor="end" font-weight="normal" font-style="normal" fill="#333" stroke="#333" stroke-width="0.12" >2</text>
<text transform="translate(263.8,496.66) scale(1,0.9)" font-size="4.3" text-anchor="end" font-weight="normal" font-style="normal" fill="#333" stroke="#333" stroke-width="0.12" >4</text>
<text transform="translate(263.8,492.42) scale(1,0.9)" font-size="4.3" text-anchor="end" font-weight="normal" font-style="normal" fill="#333" stroke="#333" stroke-width="0.12" >6</text>
<text transform="translate(263.8,488.18) scale(1,0.9)" font-size="4.3" text-anchor="end" font-weight="normal" font-style="normal" fill="#333" stroke="#333" stroke-width="0.12" >8</text>
<text transform="translate(263.8,483.94) scale(1,0.9)" font-size="4.3" text-anchor="end" font-weight="normal" font-style="normal" fill="#777" stroke="#777" stroke-width="0.12" >10</text>
<text transform="translate(263.8,479.69) scale(1,0.9)" font-size="4.3" text-anchor="end" font-weight="normal" font-style="normal" fill="#777" stroke="#777" stroke-width="0.12" >12</text>
<text transform="translate(263.8,475.45) scale(1,0.9)" font-size="4.3" text-anchor="end" font-weight="normal" font-style="normal" fill="#777" stroke="#777" stroke-width="0.12" >14</text>
<text transform="translate(502.8,490.15) scale(0.8,1)" font-size="5.4" fill="#222">6TB</text>
<rect x="270.6" y="538.8" width="228.6" height="1.1" fill="#A9A9EE" />
<rect x="270.6" y="537.8" width="8.6" height="2.7" fill="#0000EE" />
<rect x="270.6" y="533.8" width="8.6" height="3.4" fill="#DD0000" />
<rect x="281" y="530.9" width="8" height="2.9" fill="#DD0000" />
<rect x="281.5" y="526.5" width="0.7" height="4.4" fill="#DD0000" />
<rect x="289" y="536" width="7" height="2.9" fill="#DD0000" />
<rect x="296" y="537.8" width="11.68" height="2.7" fill="#0000EE" />
<rect x="296" y="533.8" width="11.68" height="3.4" fill="#DD0000" />
<rect x="307.68" y="535.5" width="7.32" height="2.9" fill="#0000EE" />
<rect x="307.68" y="528.9" width="7.32" height="3.1" fill="#DD0000" />
<rect x="315" y="536.5" width="7.59" height="3" fill="#0000EE" />
<rect x="315" y="530.9" width="7.59" height="2.9" fill="#DD0000" />
<rect x="322.59" y="538.9" width="14.39" height="1.7" fill="#0000EE" />
<rect x="322.59" y="536" width="14.39" height="2.9" fill="#DD0000" />
<rect x="336.98" y="537.8" width="3.52" height="2.7" fill="#0000EE" />
<rect x="336.98" y="533.8" width="3.52" height="3.4" fill="#DD0000" />
<rect x="340.5" y="536" width="10.1" height="2.9" fill="#DD0000" />
<rect x="350.6" y="535.5" width="4.4" height="2.9" fill="#0000EE" />
<rect x="350.6" y="528.9" width="4.4" height="3.1" fill="#DD0000" />
<rect x="355" y="536" width="8.48" height="2.9" fill="#DD0000" />
<rect x="363.48" y="537.8" width="47.32" height="2.7" fill="#0000EE" />
<rect x="363.48" y="533.8" width="47.32" height="3.4" fill="#DD0000" />
<rect x="410.8" y="536.5" width="6.68" height="3" fill="#0000EE" />
<rect x="410.8" y="530.9" width="6.68" height="2.9" fill="#DD0000" />
<rect x="417.48" y="536" width="18.75" height="2.9" fill="#DD0000" />
<rect x="436.23" y="537.8" width="8.08" height="2.7" fill="#0000EE" />
<rect x="436.23" y="533.8" width="8.08" height="3.4" fill="#DD0000" />
<rect x="444.32" y="536.5" width="7.72" height="3" fill="#0000EE" />
<rect x="444.32" y="530.9" width="7.72" height="2.9" fill="#DD0000" />
<rect x="452.03" y="537.8" width="18.8" height="2.7" fill="#0000EE" />
<rect x="452.03" y="533.8" width="18.8" height="3.4" fill="#DD0000" />
<rect x="470.83" y="535.5" width="4.45" height="2.9" fill="#0000EE" />
<rect x="470.83" y="528.9" width="4.45" height="3.1" fill="#DD0000" />
<rect x="475.28" y="537.8" width="12.23" height="2.7" fill="#0000EE" />
<rect x="475.28" y="533.8" width="12.23" height="3.4" fill="#DD0000" />
<rect x="487.51" y="537.8" width="9.49" height="2.7" fill="#0000EE" />
<rect x="487.51" y="533.8" width="9.49" height="3.4" fill="#DD0000" />
<rect x="497" y="535.5" width="2.2" height="2.9" fill="#0000EE" />
<rect x="497" y="528.9" width="2.2" height="3.1" fill="#DD0000" />
<line x1="289.37" y1="509.2" x2="289.37" y2="539.6" stroke="#5a5a5a" stroke-width="0.75" stroke-dasharray="1 1.7"/>
<line x1="307.68" y1="509.2" x2="307.68" y2="539.6" stroke="#5a5a5a" stroke-width="0.75" stroke-dasharray="1 1.7"/>
<line x1="322.59" y1="509.2" x2="322.59" y2="539.6" stroke="#5a5a5a" stroke-width="0.75" stroke-dasharray="1 1.7"/>
<line x1="336.98" y1="509.2" x2="336.98" y2="539.6" stroke="#5a5a5a" stroke-width="0.75" stroke-dasharray="1 1.7"/>
<line x1="350.6" y1="509.2" x2="350.6" y2="539.6" stroke="#5a5a5a" stroke-width="0.75" stroke-dasharray="1 1.7"/>
<line x1="363.48" y1="509.2" x2="363.48" y2="539.6" stroke="#5a5a5a" stroke-width="0.75" stroke-dasharray="1 1.7"/>
<line x1="375.46" y1="509.2" x2="375.46" y2="539.6" stroke="#5a5a5a" stroke-width="0.75" stroke-dasharray="1 1.7"/>
<line x1="386.48" y1="509.2" x2="386.48" y2="539.6" stroke="#5a5a5a" stroke-width="0.75" stroke-dasharray="1 1.7"/>
<line x1="397.11" y1="509.2" x2="397.11" y2="539.6" stroke="#5a5a5a" stroke-width="0.75" stroke-dasharray="1 1.7"/>
<line x1="407.32" y1="509.2" x2="407.32" y2="539.6" stroke="#5a5a5a" stroke-width="0.75" stroke-dasharray="1 1.7"/>
<line x1="417.48" y1="509.2" x2="417.48" y2="539.6" stroke="#5a5a5a" stroke-width="0.75" stroke-dasharray="1 1.7"/>
<line x1="427.56" y1="509.2" x2="427.56" y2="539.6" stroke="#5a5a5a" stroke-width="0.75" stroke-dasharray="1 1.7"/>
<line x1="436.23" y1="509.2" x2="436.23" y2="539.6" stroke="#5a5a5a" stroke-width="0.75" stroke-dasharray="1 1.7"/>
<line x1="444.32" y1="509.2" x2="444.32" y2="539.6" stroke="#5a5a5a" stroke-width="0.75" stroke-dasharray="1 1.7"/>
<line x1="452.03" y1="509.2" x2="452.03" y2="539.6" stroke="#5a5a5a" stroke-width="0.75" stroke-dasharray="1 1.7"/>
<line x1="458.84" y1="509.2" x2="458.84" y2="539.6" stroke="#5a5a5a" stroke-width="0.75" stroke-dasharray="1 1.7"/>
<line x1="464.95" y1="509.2" x2="464.95" y2="539.6" stroke="#5a5a5a" stroke-width="0.75" stroke-dasharray="1 1.7"/>
<line x1="470.83" y1="509.2" x2="470.83" y2="539.6" stroke="#5a5a5a" stroke-width="0.75" stroke-dasharray="1 1.7"/>
<line x1="475.28" y1="509.2" x2="475.28" y2="539.6" stroke="#5a5a5a" stroke-width="0.75" stroke-dasharray="1 1.7"/>
<line x1="480.02" y1="509.2" x2="480.02" y2="539.6" stroke="#5a5a5a" stroke-width="0.75" stroke-dasharray="1 1.7"/>
<line x1="483.64" y1="509.2" x2="483.64" y2="539.6" stroke="#5a5a5a" stroke-width="0.75" stroke-dasharray="1 1.7"/>
<line x1="487.51" y1="509.2" x2="487.51" y2="539.6" stroke="#5a5a5a" stroke-width="0.75" stroke-dasharray="1 1.7"/>
<line x1="270" y1="507" x2="499.8" y2="507" stroke="#2a2a2a" stroke-width="1.2" />
<line x1="270.5" y1="507" x2="270.5" y2="541.6" stroke="#2a2a2a" stroke-width="1.2" />
<line x1="499.1" y1="507" x2="499.1" y2="541.6" stroke="#4a4a4a" stroke-width="1.5" />
<rect x="269.9" y="540.6" width="230" height="1.6" fill="#2e2e2e" />
<rect x="267" y="508.6" width="3" height="31.2" fill="#444" />
<text transform="translate(263.8,540.6) scale(1,0.9)" font-size="4.3" text-anchor="end" font-weight="normal" font-style="normal" fill="#333" stroke="#333" stroke-width="0.12" >0</text>
<text transform="translate(263.8,537.3) scale(1,0.9)" font-size="4.3" text-anchor="end" font-weight="normal" font-style="normal" fill="#333" stroke="#333" stroke-width="0.12" >2</text>
<text transform="translate(263.8,534) scale(1,0.9)" font-size="4.3" text-anchor="end" font-weight="normal" font-style="normal" fill="#333" stroke="#333" stroke-width="0.12" >4</text>
<text transform="translate(263.8,530.7) scale(1,0.9)" font-size="4.3" text-anchor="end" font-weight="normal" font-style="normal" fill="#333" stroke="#333" stroke-width="0.12" >6</text>
<text transform="translate(263.8,527.4) scale(1,0.9)" font-size="4.3" text-anchor="end" font-weight="normal" font-style="normal" fill="#333" stroke="#333" stroke-width="0.12" >8</text>
<text transform="translate(263.8,524.1) scale(1,0.9)" font-size="4.3" text-anchor="end" font-weight="normal" font-style="normal" fill="#777" stroke="#777" stroke-width="0.12" >10</text>
<text transform="translate(263.8,520.8) scale(1,0.9)" font-size="4.3" text-anchor="end" font-weight="normal" font-style="normal" fill="#777" stroke="#777" stroke-width="0.12" >12</text>
<text transform="translate(263.8,517.5) scale(1,0.9)" font-size="4.3" text-anchor="end" font-weight="normal" font-style="normal" fill="#777" stroke="#777" stroke-width="0.12" >14</text>
<text transform="translate(263.8,514.2) scale(1,0.9)" font-size="4.3" text-anchor="end" font-weight="normal" font-style="normal" fill="#777" stroke="#777" stroke-width="0.12" >16</text>
<text transform="translate(263.8,510.9) scale(1,0.9)" font-size="4.3" text-anchor="end" font-weight="normal" font-style="normal" fill="#777" stroke="#777" stroke-width="0.12" >18</text>
<text transform="translate(502.8,525.6) scale(0.8,1)" font-size="5.4" fill="#222">7TA</text>
<rect x="270.6" y="568.5" width="8.6" height="3" fill="#DD0000" />
<rect x="270.6" y="573.35" width="8.6" height="2.2" fill="#0000EE" />
<rect x="281" y="568.5" width="8" height="3" fill="#DD0000" />
<rect x="281" y="572.45" width="8" height="1.5" fill="#0000EE" />
<rect x="289" y="568.5" width="86.5" height="3" fill="#DD0000" />
<rect x="289" y="571.5" width="86.5" height="3.1" fill="#0000EE" />
<rect x="375.5" y="570.6" width="10.98" height="3.3" fill="#DD0000" />
<rect x="386.48" y="568.5" width="20.83" height="3" fill="#DD0000" />
<rect x="392" y="571.5" width="15.32" height="3.1" fill="#0000EE" />
<rect x="407.32" y="570.6" width="20.24" height="3.3" fill="#DD0000" />
<rect x="427.56" y="570.6" width="8.67" height="2.75" fill="#DD0000" />
<rect x="427.56" y="573.9" width="8.67" height="2" fill="#0000EE" />
<rect x="436.23" y="570.6" width="8.08" height="3.3" fill="#DD0000" />
<rect x="444.32" y="568.5" width="7.72" height="3" fill="#DD0000" />
<rect x="452.03" y="570.6" width="35.47" height="3.3" fill="#DD0000" />
<rect x="470.83" y="571.5" width="4.45" height="3.1" fill="#0000EE" />
<rect x="470.83" y="568.5" width="4.45" height="3" fill="#DD0000" />
<rect x="487.51" y="570.6" width="11.69" height="2.75" fill="#DD0000" />
<rect x="487.51" y="572.95" width="11.69" height="2.8" fill="#0000EE" />
<line x1="289.37" y1="544.65" x2="289.37" y2="575.05" stroke="#5a5a5a" stroke-width="0.75" stroke-dasharray="1 1.7"/>
<line x1="307.68" y1="544.65" x2="307.68" y2="575.05" stroke="#5a5a5a" stroke-width="0.75" stroke-dasharray="1 1.7"/>
<line x1="322.59" y1="544.65" x2="322.59" y2="575.05" stroke="#5a5a5a" stroke-width="0.75" stroke-dasharray="1 1.7"/>
<line x1="336.98" y1="544.65" x2="336.98" y2="575.05" stroke="#5a5a5a" stroke-width="0.75" stroke-dasharray="1 1.7"/>
<line x1="350.6" y1="544.65" x2="350.6" y2="575.05" stroke="#5a5a5a" stroke-width="0.75" stroke-dasharray="1 1.7"/>
<line x1="363.48" y1="544.65" x2="363.48" y2="575.05" stroke="#5a5a5a" stroke-width="0.75" stroke-dasharray="1 1.7"/>
<line x1="375.46" y1="544.65" x2="375.46" y2="575.05" stroke="#5a5a5a" stroke-width="0.75" stroke-dasharray="1 1.7"/>
<line x1="386.48" y1="544.65" x2="386.48" y2="575.05" stroke="#5a5a5a" stroke-width="0.75" stroke-dasharray="1 1.7"/>
<line x1="397.11" y1="544.65" x2="397.11" y2="575.05" stroke="#5a5a5a" stroke-width="0.75" stroke-dasharray="1 1.7"/>
<line x1="407.32" y1="544.65" x2="407.32" y2="575.05" stroke="#5a5a5a" stroke-width="0.75" stroke-dasharray="1 1.7"/>
<line x1="417.48" y1="544.65" x2="417.48" y2="575.05" stroke="#5a5a5a" stroke-width="0.75" stroke-dasharray="1 1.7"/>
<line x1="427.56" y1="544.65" x2="427.56" y2="575.05" stroke="#5a5a5a" stroke-width="0.75" stroke-dasharray="1 1.7"/>
<line x1="436.23" y1="544.65" x2="436.23" y2="575.05" stroke="#5a5a5a" stroke-width="0.75" stroke-dasharray="1 1.7"/>
<line x1="444.32" y1="544.65" x2="444.32" y2="575.05" stroke="#5a5a5a" stroke-width="0.75" stroke-dasharray="1 1.7"/>
<line x1="452.03" y1="544.65" x2="452.03" y2="575.05" stroke="#5a5a5a" stroke-width="0.75" stroke-dasharray="1 1.7"/>
<line x1="458.84" y1="544.65" x2="458.84" y2="575.05" stroke="#5a5a5a" stroke-width="0.75" stroke-dasharray="1 1.7"/>
<line x1="464.95" y1="544.65" x2="464.95" y2="575.05" stroke="#5a5a5a" stroke-width="0.75" stroke-dasharray="1 1.7"/>
<line x1="470.83" y1="544.65" x2="470.83" y2="575.05" stroke="#5a5a5a" stroke-width="0.75" stroke-dasharray="1 1.7"/>
<line x1="475.28" y1="544.65" x2="475.28" y2="575.05" stroke="#5a5a5a" stroke-width="0.75" stroke-dasharray="1 1.7"/>
<line x1="480.02" y1="544.65" x2="480.02" y2="575.05" stroke="#5a5a5a" stroke-width="0.75" stroke-dasharray="1 1.7"/>
<line x1="483.64" y1="544.65" x2="483.64" y2="575.05" stroke="#5a5a5a" stroke-width="0.75" stroke-dasharray="1 1.7"/>
<line x1="487.51" y1="544.65" x2="487.51" y2="575.05" stroke="#5a5a5a" stroke-width="0.75" stroke-dasharray="1 1.7"/>
<line x1="270" y1="542.45" x2="499.8" y2="542.45" stroke="#2a2a2a" stroke-width="1.2" />
<line x1="270.5" y1="542.45" x2="270.5" y2="577.05" stroke="#2a2a2a" stroke-width="1.2" />
<line x1="499.1" y1="542.45" x2="499.1" y2="577.05" stroke="#4a4a4a" stroke-width="1.5" />
<rect x="269.9" y="576.05" width="230" height="1.6" fill="#2e2e2e" />
<line x1="267" y1="574.75" x2="270" y2="574.75" stroke="#1a1a1a" stroke-width="0.95" />
<line x1="267" y1="572.27" x2="270" y2="572.27" stroke="#1a1a1a" stroke-width="0.95" />
<line x1="267" y1="569.8" x2="270" y2="569.8" stroke="#1a1a1a" stroke-width="0.95" />
<line x1="267" y1="567.33" x2="270" y2="567.33" stroke="#1a1a1a" stroke-width="0.95" />
<line x1="267" y1="564.85" x2="270" y2="564.85" stroke="#1a1a1a" stroke-width="0.95" />
<line x1="267" y1="562.38" x2="270" y2="562.38" stroke="#1a1a1a" stroke-width="0.95" />
<line x1="267" y1="559.9" x2="270" y2="559.9" stroke="#1a1a1a" stroke-width="0.95" />
<line x1="267" y1="557.43" x2="270" y2="557.43" stroke="#1a1a1a" stroke-width="0.95" />
<line x1="267" y1="554.95" x2="270" y2="554.95" stroke="#1a1a1a" stroke-width="0.95" />
<line x1="267" y1="552.48" x2="270" y2="552.48" stroke="#1a1a1a" stroke-width="0.95" />
<line x1="267" y1="550" x2="270" y2="550" stroke="#1a1a1a" stroke-width="0.95" />
<line x1="267" y1="547.53" x2="270" y2="547.53" stroke="#1a1a1a" stroke-width="0.95" />
<line x1="267" y1="545.05" x2="270" y2="545.05" stroke="#1a1a1a" stroke-width="0.95" />
<text transform="translate(263.8,576.05) scale(1,0.9)" font-size="4.3" text-anchor="end" font-weight="normal" font-style="normal" fill="#333" stroke="#333" stroke-width="0.12" >0</text>
<text transform="translate(263.8,571.1) scale(1,0.9)" font-size="4.3" text-anchor="end" font-weight="normal" font-style="normal" fill="#333" stroke="#333" stroke-width="0.12" >2</text>
<text transform="translate(263.8,566.15) scale(1,0.9)" font-size="4.3" text-anchor="end" font-weight="normal" font-style="normal" fill="#333" stroke="#333" stroke-width="0.12" >4</text>
<text transform="translate(263.8,561.2) scale(1,0.9)" font-size="4.3" text-anchor="end" font-weight="normal" font-style="normal" fill="#333" stroke="#333" stroke-width="0.12" >6</text>
<text transform="translate(263.8,556.25) scale(1,0.9)" font-size="4.3" text-anchor="end" font-weight="normal" font-style="normal" fill="#333" stroke="#333" stroke-width="0.12" >8</text>
<text transform="translate(263.8,551.3) scale(1,0.9)" font-size="4.3" text-anchor="end" font-weight="normal" font-style="normal" fill="#777" stroke="#777" stroke-width="0.12" >10</text>
<text transform="translate(263.8,546.35) scale(1,0.9)" font-size="4.3" text-anchor="end" font-weight="normal" font-style="normal" fill="#777" stroke="#777" stroke-width="0.12" >12</text>
<text transform="translate(502.8,561.05) scale(0.8,1)" font-size="5.4" fill="#222">10TB</text>
<rect x="270.6" y="609.7" width="228.6" height="1.1" fill="#A9A9EE" />
<rect x="270.6" y="606.4" width="9" height="3.4" fill="#DD0000" />
<rect x="281.4" y="606.4" width="217.8" height="3.4" fill="#DD0000" />
<rect x="294.8" y="603.7" width="4.4" height="2.7" fill="#DD0000" />
<rect x="294.8" y="607.4" width="4.4" height="3.1" fill="#0000EE" />
<rect x="410.32" y="604" width="7.16" height="3.1" fill="#DD0000" />
<rect x="410.32" y="607.1" width="7.16" height="2.7" fill="#0000EE" />
<rect x="458.84" y="604" width="6.11" height="3.1" fill="#DD0000" />
<rect x="458.84" y="607.1" width="6.11" height="2.7" fill="#0000EE" />
<rect x="445" y="607.4" width="6" height="3.1" fill="#0000EE" />
<rect x="455" y="607.4" width="2" height="3.1" fill="#0000EE" />
<rect x="471" y="607.4" width="3" height="3.1" fill="#0000EE" />
<rect x="478" y="607.4" width="4" height="3.1" fill="#0000EE" />
<line x1="289.37" y1="580.1" x2="289.37" y2="610.5" stroke="#5a5a5a" stroke-width="0.75" stroke-dasharray="1 1.7"/>
<line x1="307.68" y1="580.1" x2="307.68" y2="610.5" stroke="#5a5a5a" stroke-width="0.75" stroke-dasharray="1 1.7"/>
<line x1="322.59" y1="580.1" x2="322.59" y2="610.5" stroke="#5a5a5a" stroke-width="0.75" stroke-dasharray="1 1.7"/>
<line x1="336.98" y1="580.1" x2="336.98" y2="610.5" stroke="#5a5a5a" stroke-width="0.75" stroke-dasharray="1 1.7"/>
<line x1="350.6" y1="580.1" x2="350.6" y2="610.5" stroke="#5a5a5a" stroke-width="0.75" stroke-dasharray="1 1.7"/>
<line x1="363.48" y1="580.1" x2="363.48" y2="610.5" stroke="#5a5a5a" stroke-width="0.75" stroke-dasharray="1 1.7"/>
<line x1="375.46" y1="580.1" x2="375.46" y2="610.5" stroke="#5a5a5a" stroke-width="0.75" stroke-dasharray="1 1.7"/>
<line x1="386.48" y1="580.1" x2="386.48" y2="610.5" stroke="#5a5a5a" stroke-width="0.75" stroke-dasharray="1 1.7"/>
<line x1="397.11" y1="580.1" x2="397.11" y2="610.5" stroke="#5a5a5a" stroke-width="0.75" stroke-dasharray="1 1.7"/>
<line x1="407.32" y1="580.1" x2="407.32" y2="610.5" stroke="#5a5a5a" stroke-width="0.75" stroke-dasharray="1 1.7"/>
<line x1="417.48" y1="580.1" x2="417.48" y2="610.5" stroke="#5a5a5a" stroke-width="0.75" stroke-dasharray="1 1.7"/>
<line x1="427.56" y1="580.1" x2="427.56" y2="610.5" stroke="#5a5a5a" stroke-width="0.75" stroke-dasharray="1 1.7"/>
<line x1="436.23" y1="580.1" x2="436.23" y2="610.5" stroke="#5a5a5a" stroke-width="0.75" stroke-dasharray="1 1.7"/>
<line x1="444.32" y1="580.1" x2="444.32" y2="610.5" stroke="#5a5a5a" stroke-width="0.75" stroke-dasharray="1 1.7"/>
<line x1="452.03" y1="580.1" x2="452.03" y2="610.5" stroke="#5a5a5a" stroke-width="0.75" stroke-dasharray="1 1.7"/>
<line x1="458.84" y1="580.1" x2="458.84" y2="610.5" stroke="#5a5a5a" stroke-width="0.75" stroke-dasharray="1 1.7"/>
<line x1="464.95" y1="580.1" x2="464.95" y2="610.5" stroke="#5a5a5a" stroke-width="0.75" stroke-dasharray="1 1.7"/>
<line x1="470.83" y1="580.1" x2="470.83" y2="610.5" stroke="#5a5a5a" stroke-width="0.75" stroke-dasharray="1 1.7"/>
<line x1="475.28" y1="580.1" x2="475.28" y2="610.5" stroke="#5a5a5a" stroke-width="0.75" stroke-dasharray="1 1.7"/>
<line x1="480.02" y1="580.1" x2="480.02" y2="610.5" stroke="#5a5a5a" stroke-width="0.75" stroke-dasharray="1 1.7"/>
<line x1="483.64" y1="580.1" x2="483.64" y2="610.5" stroke="#5a5a5a" stroke-width="0.75" stroke-dasharray="1 1.7"/>
<line x1="487.51" y1="580.1" x2="487.51" y2="610.5" stroke="#5a5a5a" stroke-width="0.75" stroke-dasharray="1 1.7"/>
<line x1="270" y1="577.9" x2="499.8" y2="577.9" stroke="#2a2a2a" stroke-width="1.2" />
<line x1="270.5" y1="577.9" x2="270.5" y2="612.5" stroke="#2a2a2a" stroke-width="1.2" />
<line x1="499.1" y1="577.9" x2="499.1" y2="612.5" stroke="#4a4a4a" stroke-width="1.5" />
<rect x="269.9" y="611.5" width="230" height="1.6" fill="#2e2e2e" />
<line x1="267" y1="610.2" x2="270" y2="610.2" stroke="#1a1a1a" stroke-width="0.95" />
<line x1="267" y1="607.73" x2="270" y2="607.73" stroke="#1a1a1a" stroke-width="0.95" />
<line x1="267" y1="605.25" x2="270" y2="605.25" stroke="#1a1a1a" stroke-width="0.95" />
<line x1="267" y1="602.78" x2="270" y2="602.78" stroke="#1a1a1a" stroke-width="0.95" />
<line x1="267" y1="600.3" x2="270" y2="600.3" stroke="#1a1a1a" stroke-width="0.95" />
<line x1="267" y1="597.83" x2="270" y2="597.83" stroke="#1a1a1a" stroke-width="0.95" />
<line x1="267" y1="595.35" x2="270" y2="595.35" stroke="#1a1a1a" stroke-width="0.95" />
<line x1="267" y1="592.88" x2="270" y2="592.88" stroke="#1a1a1a" stroke-width="0.95" />
<line x1="267" y1="590.4" x2="270" y2="590.4" stroke="#1a1a1a" stroke-width="0.95" />
<line x1="267" y1="587.93" x2="270" y2="587.93" stroke="#1a1a1a" stroke-width="0.95" />
<line x1="267" y1="585.45" x2="270" y2="585.45" stroke="#1a1a1a" stroke-width="0.95" />
<line x1="267" y1="582.98" x2="270" y2="582.98" stroke="#1a1a1a" stroke-width="0.95" />
<line x1="267" y1="580.5" x2="270" y2="580.5" stroke="#1a1a1a" stroke-width="0.95" />
<text transform="translate(263.8,611.5) scale(1,0.9)" font-size="4.3" text-anchor="end" font-weight="normal" font-style="normal" fill="#333" stroke="#333" stroke-width="0.12" >0</text>
<text transform="translate(263.8,606.55) scale(1,0.9)" font-size="4.3" text-anchor="end" font-weight="normal" font-style="normal" fill="#333" stroke="#333" stroke-width="0.12" >2</text>
<text transform="translate(263.8,601.6) scale(1,0.9)" font-size="4.3" text-anchor="end" font-weight="normal" font-style="normal" fill="#333" stroke="#333" stroke-width="0.12" >4</text>
<text transform="translate(263.8,596.65) scale(1,0.9)" font-size="4.3" text-anchor="end" font-weight="normal" font-style="normal" fill="#333" stroke="#333" stroke-width="0.12" >6</text>
<text transform="translate(263.8,591.7) scale(1,0.9)" font-size="4.3" text-anchor="end" font-weight="normal" font-style="normal" fill="#333" stroke="#333" stroke-width="0.12" >8</text>
<text transform="translate(263.8,586.75) scale(1,0.9)" font-size="4.3" text-anchor="end" font-weight="normal" font-style="normal" fill="#777" stroke="#777" stroke-width="0.12" >10</text>
<text transform="translate(263.8,581.8) scale(1,0.9)" font-size="4.3" text-anchor="end" font-weight="normal" font-style="normal" fill="#777" stroke="#777" stroke-width="0.12" >12</text>
<text transform="translate(502.8,596.5) scale(0.8,1)" font-size="5.4" fill="#222">11TA</text>
<rect x="270.6" y="645.15" width="228.6" height="1.1" fill="#A9A9EE" />
<rect x="270.6" y="642.85" width="9" height="3.2" fill="#DD0000" />
<rect x="281.4" y="642.85" width="217.8" height="3.2" fill="#DD0000" />
<rect x="294.8" y="640.55" width="3.3" height="2.2" fill="#DD0000" />
<rect x="294.8" y="643.85" width="3.3" height="2.8" fill="#0000EE" />
<rect x="367" y="640.55" width="3" height="2.2" fill="#DD0000" />
<rect x="367.5" y="643.85" width="2" height="2.8" fill="#0000EE" />
<rect x="410.32" y="640.85" width="7.16" height="3.5" fill="#DD0000" />
<rect x="410.32" y="644.35" width="7.16" height="1.7" fill="#0000EE" />
<rect x="458.84" y="640.85" width="6.11" height="3.5" fill="#DD0000" />
<rect x="458.84" y="644.35" width="6.11" height="1.7" fill="#0000EE" />
<rect x="471" y="640.85" width="3" height="3.5" fill="#DD0000" />
<rect x="471" y="644.35" width="3" height="1.7" fill="#0000EE" />
<rect x="478" y="640.85" width="4" height="3.5" fill="#DD0000" />
<rect x="478" y="644.35" width="4" height="1.7" fill="#0000EE" />
<line x1="289.37" y1="615.55" x2="289.37" y2="645.95" stroke="#5a5a5a" stroke-width="0.75" stroke-dasharray="1 1.7"/>
<line x1="307.68" y1="615.55" x2="307.68" y2="645.95" stroke="#5a5a5a" stroke-width="0.75" stroke-dasharray="1 1.7"/>
<line x1="322.59" y1="615.55" x2="322.59" y2="645.95" stroke="#5a5a5a" stroke-width="0.75" stroke-dasharray="1 1.7"/>
<line x1="336.98" y1="615.55" x2="336.98" y2="645.95" stroke="#5a5a5a" stroke-width="0.75" stroke-dasharray="1 1.7"/>
<line x1="350.6" y1="615.55" x2="350.6" y2="645.95" stroke="#5a5a5a" stroke-width="0.75" stroke-dasharray="1 1.7"/>
<line x1="363.48" y1="615.55" x2="363.48" y2="645.95" stroke="#5a5a5a" stroke-width="0.75" stroke-dasharray="1 1.7"/>
<line x1="375.46" y1="615.55" x2="375.46" y2="645.95" stroke="#5a5a5a" stroke-width="0.75" stroke-dasharray="1 1.7"/>
<line x1="386.48" y1="615.55" x2="386.48" y2="645.95" stroke="#5a5a5a" stroke-width="0.75" stroke-dasharray="1 1.7"/>
<line x1="397.11" y1="615.55" x2="397.11" y2="645.95" stroke="#5a5a5a" stroke-width="0.75" stroke-dasharray="1 1.7"/>
<line x1="407.32" y1="615.55" x2="407.32" y2="645.95" stroke="#5a5a5a" stroke-width="0.75" stroke-dasharray="1 1.7"/>
<line x1="417.48" y1="615.55" x2="417.48" y2="645.95" stroke="#5a5a5a" stroke-width="0.75" stroke-dasharray="1 1.7"/>
<line x1="427.56" y1="615.55" x2="427.56" y2="645.95" stroke="#5a5a5a" stroke-width="0.75" stroke-dasharray="1 1.7"/>
<line x1="436.23" y1="615.55" x2="436.23" y2="645.95" stroke="#5a5a5a" stroke-width="0.75" stroke-dasharray="1 1.7"/>
<line x1="444.32" y1="615.55" x2="444.32" y2="645.95" stroke="#5a5a5a" stroke-width="0.75" stroke-dasharray="1 1.7"/>
<line x1="452.03" y1="615.55" x2="452.03" y2="645.95" stroke="#5a5a5a" stroke-width="0.75" stroke-dasharray="1 1.7"/>
<line x1="458.84" y1="615.55" x2="458.84" y2="645.95" stroke="#5a5a5a" stroke-width="0.75" stroke-dasharray="1 1.7"/>
<line x1="464.95" y1="615.55" x2="464.95" y2="645.95" stroke="#5a5a5a" stroke-width="0.75" stroke-dasharray="1 1.7"/>
<line x1="470.83" y1="615.55" x2="470.83" y2="645.95" stroke="#5a5a5a" stroke-width="0.75" stroke-dasharray="1 1.7"/>
<line x1="475.28" y1="615.55" x2="475.28" y2="645.95" stroke="#5a5a5a" stroke-width="0.75" stroke-dasharray="1 1.7"/>
<line x1="480.02" y1="615.55" x2="480.02" y2="645.95" stroke="#5a5a5a" stroke-width="0.75" stroke-dasharray="1 1.7"/>
<line x1="483.64" y1="615.55" x2="483.64" y2="645.95" stroke="#5a5a5a" stroke-width="0.75" stroke-dasharray="1 1.7"/>
<line x1="487.51" y1="615.55" x2="487.51" y2="645.95" stroke="#5a5a5a" stroke-width="0.75" stroke-dasharray="1 1.7"/>
<line x1="270" y1="613.35" x2="499.8" y2="613.35" stroke="#2a2a2a" stroke-width="1.2" />
<line x1="270.5" y1="613.35" x2="270.5" y2="647.95" stroke="#2a2a2a" stroke-width="1.2" />
<line x1="499.1" y1="613.35" x2="499.1" y2="647.95" stroke="#4a4a4a" stroke-width="1.5" />
<rect x="269.9" y="646.95" width="230" height="1.6" fill="#2e2e2e" />
<rect x="267" y="614.95" width="3" height="31.2" fill="#444" />
<text transform="translate(263.8,646.95) scale(1,0.9)" font-size="4.3" text-anchor="end" font-weight="normal" font-style="normal" fill="#333" stroke="#333" stroke-width="0.12" >0</text>
<text transform="translate(263.8,644.97) scale(1,0.9)" font-size="4.3" text-anchor="end" font-weight="normal" font-style="normal" fill="#333" stroke="#333" stroke-width="0.12" >2</text>
<text transform="translate(263.8,642.99) scale(1,0.9)" font-size="4.3" text-anchor="end" font-weight="normal" font-style="normal" fill="#333" stroke="#333" stroke-width="0.12" >4</text>
<text transform="translate(263.8,641.01) scale(1,0.9)" font-size="4.3" text-anchor="end" font-weight="normal" font-style="normal" fill="#333" stroke="#333" stroke-width="0.12" >6</text>
<text transform="translate(263.8,639.03) scale(1,0.9)" font-size="4.3" text-anchor="end" font-weight="normal" font-style="normal" fill="#333" stroke="#333" stroke-width="0.12" >8</text>
<text transform="translate(263.8,637.05) scale(1,0.9)" font-size="4.3" text-anchor="end" font-weight="normal" font-style="normal" fill="#777" stroke="#777" stroke-width="0.12" >10</text>
<text transform="translate(263.8,635.07) scale(1,0.9)" font-size="4.3" text-anchor="end" font-weight="normal" font-style="normal" fill="#777" stroke="#777" stroke-width="0.12" >12</text>
<text transform="translate(263.8,633.09) scale(1,0.9)" font-size="4.3" text-anchor="end" font-weight="normal" font-style="normal" fill="#777" stroke="#777" stroke-width="0.12" >14</text>
<text transform="translate(263.8,631.11) scale(1,0.9)" font-size="4.3" text-anchor="end" font-weight="normal" font-style="normal" fill="#777" stroke="#777" stroke-width="0.12" >16</text>
<text transform="translate(263.8,629.13) scale(1,0.9)" font-size="4.3" text-anchor="end" font-weight="normal" font-style="normal" fill="#777" stroke="#777" stroke-width="0.12" >18</text>
<text transform="translate(263.8,627.15) scale(1,0.9)" font-size="4.3" text-anchor="end" font-weight="normal" font-style="normal" fill="#777" stroke="#777" stroke-width="0.12" >20</text>
<text transform="translate(263.8,625.17) scale(1,0.9)" font-size="4.3" text-anchor="end" font-weight="normal" font-style="normal" fill="#777" stroke="#777" stroke-width="0.12" >22</text>
<text transform="translate(263.8,623.19) scale(1,0.9)" font-size="4.3" text-anchor="end" font-weight="normal" font-style="normal" fill="#777" stroke="#777" stroke-width="0.12" >24</text>
<text transform="translate(263.8,621.21) scale(1,0.9)" font-size="4.3" text-anchor="end" font-weight="normal" font-style="normal" fill="#777" stroke="#777" stroke-width="0.12" >26</text>
<text transform="translate(263.8,619.23) scale(1,0.9)" font-size="4.3" text-anchor="end" font-weight="normal" font-style="normal" fill="#777" stroke="#777" stroke-width="0.12" >28</text>
<text transform="translate(263.8,617.25) scale(1,0.9)" font-size="4.3" text-anchor="end" font-weight="normal" font-style="normal" fill="#777" stroke="#777" stroke-width="0.12" >30</text>
<text transform="translate(502.8,631.95) scale(0.8,1)" font-size="5.4" fill="#222">11TB</text>
<rect x="270.6" y="680.6" width="228.6" height="1.1" fill="#A9A9EE" />
<rect x="270.6" y="678.1" width="9" height="3.6" fill="#DD0000" />
<rect x="281.4" y="678.1" width="217.8" height="3.6" fill="#DD0000" />
<rect x="295" y="679.8" width="1.5" height="2.4" fill="#0000EE" />
<rect x="312" y="679.8" width="2" height="2.4" fill="#0000EE" />
<rect x="485.5" y="678" width="13.7" height="2.2" fill="#DD0000" />
<rect x="485.5" y="680.2" width="13.7" height="2.2" fill="#0000EE" />
<line x1="289.37" y1="651" x2="289.37" y2="681.4" stroke="#5a5a5a" stroke-width="0.75" stroke-dasharray="1 1.7"/>
<line x1="307.68" y1="651" x2="307.68" y2="681.4" stroke="#5a5a5a" stroke-width="0.75" stroke-dasharray="1 1.7"/>
<line x1="322.59" y1="651" x2="322.59" y2="681.4" stroke="#5a5a5a" stroke-width="0.75" stroke-dasharray="1 1.7"/>
<line x1="336.98" y1="651" x2="336.98" y2="681.4" stroke="#5a5a5a" stroke-width="0.75" stroke-dasharray="1 1.7"/>
<line x1="350.6" y1="651" x2="350.6" y2="681.4" stroke="#5a5a5a" stroke-width="0.75" stroke-dasharray="1 1.7"/>
<line x1="363.48" y1="651" x2="363.48" y2="681.4" stroke="#5a5a5a" stroke-width="0.75" stroke-dasharray="1 1.7"/>
<line x1="375.46" y1="651" x2="375.46" y2="681.4" stroke="#5a5a5a" stroke-width="0.75" stroke-dasharray="1 1.7"/>
<line x1="386.48" y1="651" x2="386.48" y2="681.4" stroke="#5a5a5a" stroke-width="0.75" stroke-dasharray="1 1.7"/>
<line x1="397.11" y1="651" x2="397.11" y2="681.4" stroke="#5a5a5a" stroke-width="0.75" stroke-dasharray="1 1.7"/>
<line x1="407.32" y1="651" x2="407.32" y2="681.4" stroke="#5a5a5a" stroke-width="0.75" stroke-dasharray="1 1.7"/>
<line x1="417.48" y1="651" x2="417.48" y2="681.4" stroke="#5a5a5a" stroke-width="0.75" stroke-dasharray="1 1.7"/>
<line x1="427.56" y1="651" x2="427.56" y2="681.4" stroke="#5a5a5a" stroke-width="0.75" stroke-dasharray="1 1.7"/>
<line x1="436.23" y1="651" x2="436.23" y2="681.4" stroke="#5a5a5a" stroke-width="0.75" stroke-dasharray="1 1.7"/>
<line x1="444.32" y1="651" x2="444.32" y2="681.4" stroke="#5a5a5a" stroke-width="0.75" stroke-dasharray="1 1.7"/>
<line x1="452.03" y1="651" x2="452.03" y2="681.4" stroke="#5a5a5a" stroke-width="0.75" stroke-dasharray="1 1.7"/>
<line x1="458.84" y1="651" x2="458.84" y2="681.4" stroke="#5a5a5a" stroke-width="0.75" stroke-dasharray="1 1.7"/>
<line x1="464.95" y1="651" x2="464.95" y2="681.4" stroke="#5a5a5a" stroke-width="0.75" stroke-dasharray="1 1.7"/>
<line x1="470.83" y1="651" x2="470.83" y2="681.4" stroke="#5a5a5a" stroke-width="0.75" stroke-dasharray="1 1.7"/>
<line x1="475.28" y1="651" x2="475.28" y2="681.4" stroke="#5a5a5a" stroke-width="0.75" stroke-dasharray="1 1.7"/>
<line x1="480.02" y1="651" x2="480.02" y2="681.4" stroke="#5a5a5a" stroke-width="0.75" stroke-dasharray="1 1.7"/>
<line x1="483.64" y1="651" x2="483.64" y2="681.4" stroke="#5a5a5a" stroke-width="0.75" stroke-dasharray="1 1.7"/>
<line x1="487.51" y1="651" x2="487.51" y2="681.4" stroke="#5a5a5a" stroke-width="0.75" stroke-dasharray="1 1.7"/>
<line x1="270" y1="648.8" x2="499.8" y2="648.8" stroke="#2a2a2a" stroke-width="1.2" />
<line x1="270.5" y1="648.8" x2="270.5" y2="683.4" stroke="#2a2a2a" stroke-width="1.2" />
<line x1="499.1" y1="648.8" x2="499.1" y2="683.4" stroke="#4a4a4a" stroke-width="1.5" />
<rect x="269.9" y="682.4" width="230" height="1.6" fill="#2e2e2e" />
<rect x="267" y="650.4" width="3" height="31.2" fill="#444" />
<text transform="translate(263.8,682.4) scale(1,0.9)" font-size="4.3" text-anchor="end" font-weight="normal" font-style="normal" fill="#333" stroke="#333" stroke-width="0.12" >0</text>
<text transform="translate(263.8,680.42) scale(1,0.9)" font-size="4.3" text-anchor="end" font-weight="normal" font-style="normal" fill="#333" stroke="#333" stroke-width="0.12" >2</text>
<text transform="translate(263.8,678.44) scale(1,0.9)" font-size="4.3" text-anchor="end" font-weight="normal" font-style="normal" fill="#333" stroke="#333" stroke-width="0.12" >4</text>
<text transform="translate(263.8,676.46) scale(1,0.9)" font-size="4.3" text-anchor="end" font-weight="normal" font-style="normal" fill="#333" stroke="#333" stroke-width="0.12" >6</text>
<text transform="translate(263.8,674.48) scale(1,0.9)" font-size="4.3" text-anchor="end" font-weight="normal" font-style="normal" fill="#333" stroke="#333" stroke-width="0.12" >8</text>
<text transform="translate(263.8,672.5) scale(1,0.9)" font-size="4.3" text-anchor="end" font-weight="normal" font-style="normal" fill="#777" stroke="#777" stroke-width="0.12" >10</text>
<text transform="translate(263.8,670.52) scale(1,0.9)" font-size="4.3" text-anchor="end" font-weight="normal" font-style="normal" fill="#777" stroke="#777" stroke-width="0.12" >12</text>
<text transform="translate(263.8,668.54) scale(1,0.9)" font-size="4.3" text-anchor="end" font-weight="normal" font-style="normal" fill="#777" stroke="#777" stroke-width="0.12" >14</text>
<text transform="translate(263.8,666.56) scale(1,0.9)" font-size="4.3" text-anchor="end" font-weight="normal" font-style="normal" fill="#777" stroke="#777" stroke-width="0.12" >16</text>
<text transform="translate(263.8,664.58) scale(1,0.9)" font-size="4.3" text-anchor="end" font-weight="normal" font-style="normal" fill="#777" stroke="#777" stroke-width="0.12" >18</text>
<text transform="translate(263.8,662.6) scale(1,0.9)" font-size="4.3" text-anchor="end" font-weight="normal" font-style="normal" fill="#777" stroke="#777" stroke-width="0.12" >20</text>
<text transform="translate(263.8,660.62) scale(1,0.9)" font-size="4.3" text-anchor="end" font-weight="normal" font-style="normal" fill="#777" stroke="#777" stroke-width="0.12" >22</text>
<text transform="translate(263.8,658.64) scale(1,0.9)" font-size="4.3" text-anchor="end" font-weight="normal" font-style="normal" fill="#777" stroke="#777" stroke-width="0.12" >24</text>
<text transform="translate(263.8,656.66) scale(1,0.9)" font-size="4.3" text-anchor="end" font-weight="normal" font-style="normal" fill="#777" stroke="#777" stroke-width="0.12" >26</text>
<text transform="translate(263.8,654.68) scale(1,0.9)" font-size="4.3" text-anchor="end" font-weight="normal" font-style="normal" fill="#777" stroke="#777" stroke-width="0.12" >28</text>
<text transform="translate(263.8,652.7) scale(1,0.9)" font-size="4.3" text-anchor="end" font-weight="normal" font-style="normal" fill="#777" stroke="#777" stroke-width="0.12" >30</text>
<text transform="translate(502.8,667.4) scale(0.8,1)" font-size="5.4" fill="#222">15TB</text>
<line x1="271.1" y1="686.6" x2="286.5" y2="686.6" stroke="#222" stroke-width="0.9" />
<line x1="271.1" y1="686.2" x2="271.1" y2="688.2" stroke="#222" stroke-width="0.8" />
<line x1="286.5" y1="686.2" x2="286.5" y2="688.2" stroke="#222" stroke-width="0.8" />
<text transform="translate(271.5,694.6) scale(1,1.12)" font-size="4.8" text-anchor="middle" font-weight="normal" font-style="normal" fill="#333" stroke="#333" stroke-width="0.13" >0</text>
<text transform="translate(286.5,694.6) scale(1,1.12)" font-size="4.8" text-anchor="middle" font-weight="normal" font-style="normal" fill="#333" stroke="#333" stroke-width="0.13" >200</text>
<text transform="translate(384.3,692.2) scale(0.87,1.3)" font-size="5.2" text-anchor="middle" font-weight="normal" font-style="normal" fill="#222" stroke="#222" stroke-width="0.13" >Position (Mb)</text>
<rect x="0.5" y="0.5" width="519" height="702" fill="none" stroke="#000" stroke-width="1"/>
</svg>
</body></html>
